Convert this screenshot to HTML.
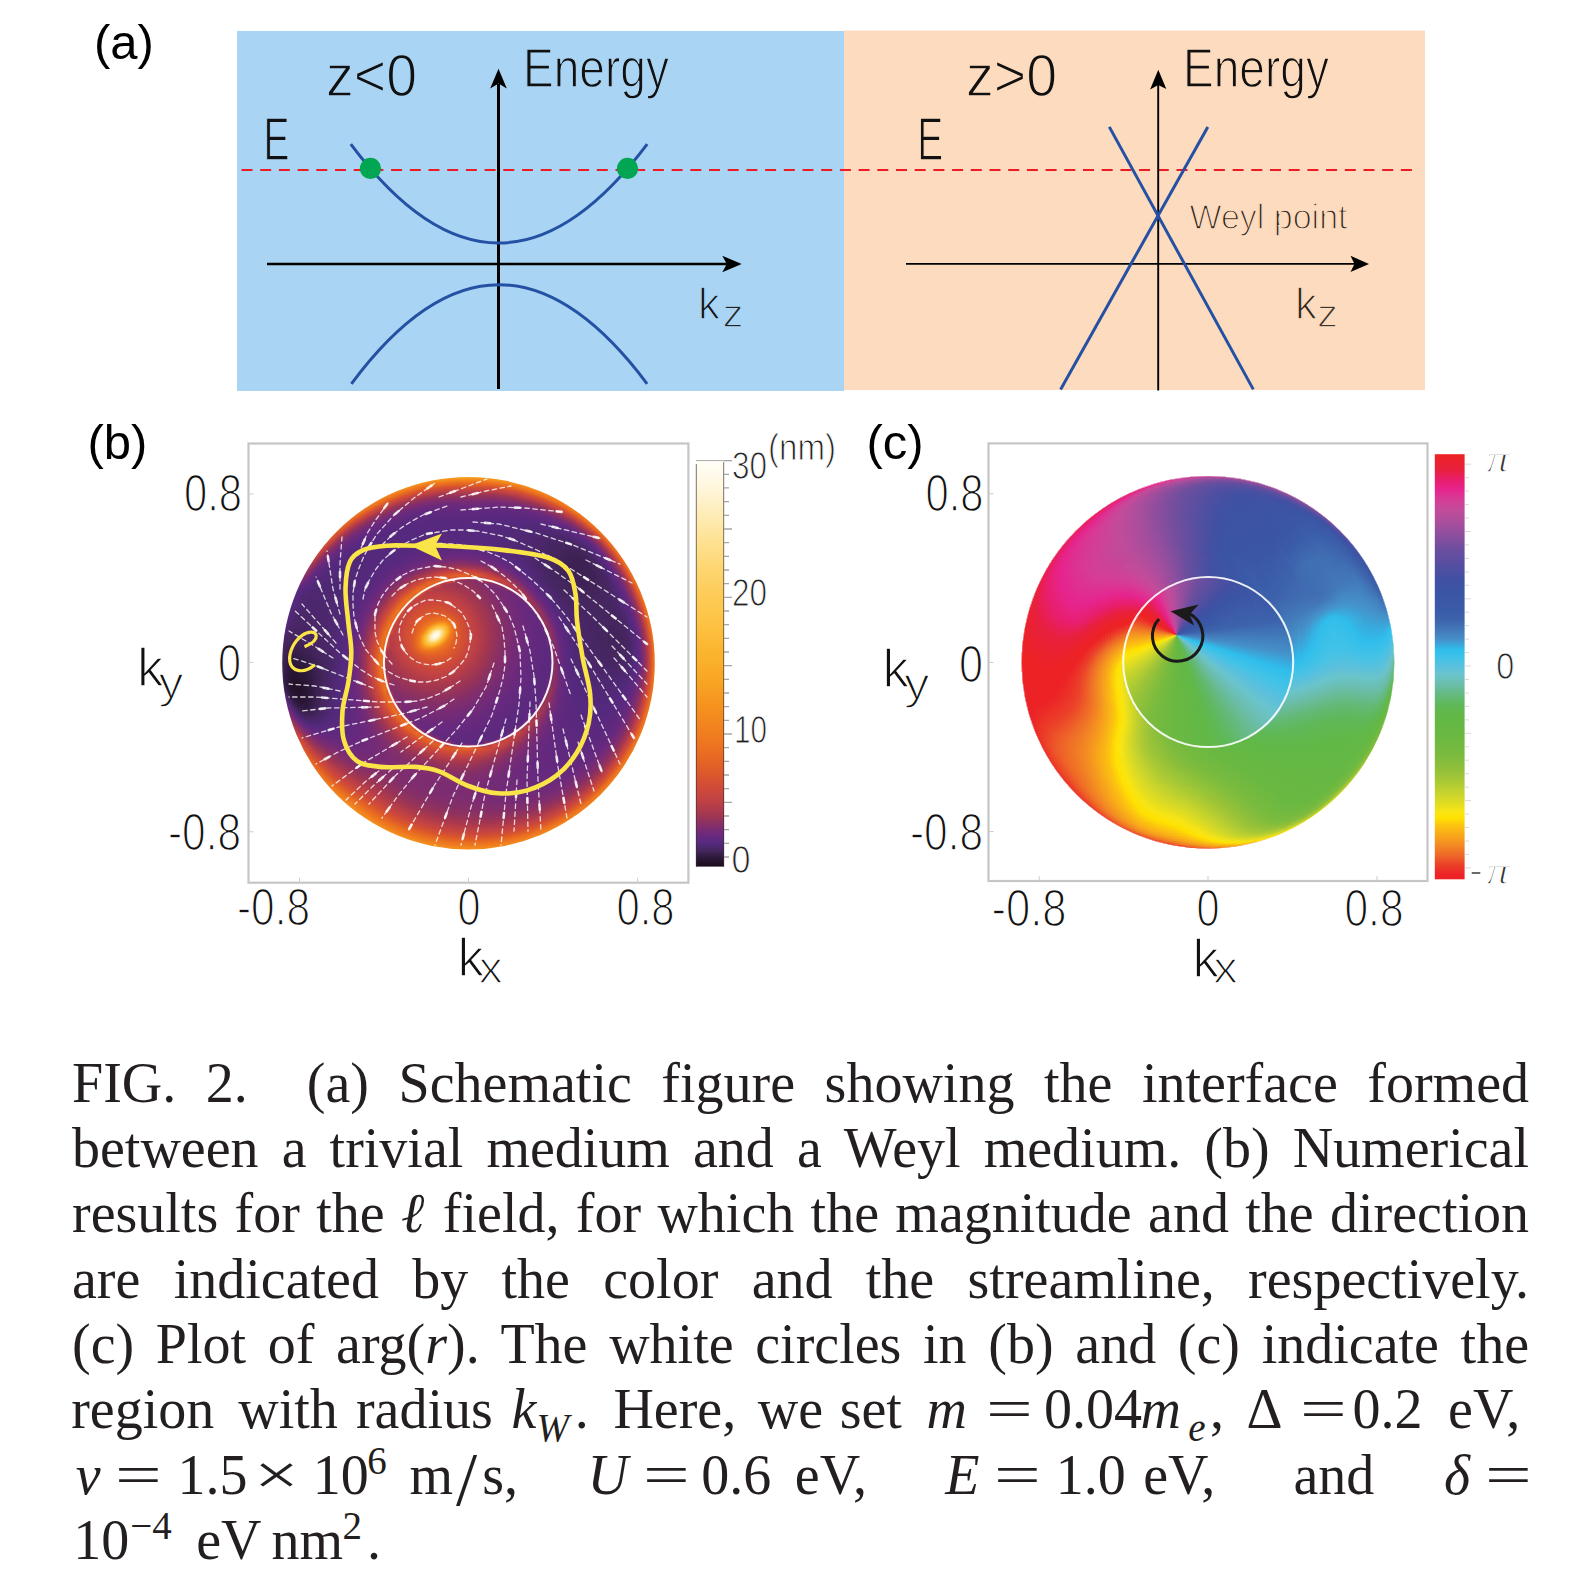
<!DOCTYPE html>
<html><head><meta charset="utf-8"><title>Fig 2</title>
<style>
html,body{margin:0;padding:0;background:#fff;}
body{width:1570px;height:1582px;position:relative;overflow:hidden;}
#fig{position:absolute;left:0;top:0;}
.l{position:absolute;left:72px;width:1457px;height:66px;line-height:66px;font-family:"Liberation Serif",serif;font-size:56px;color:#231f20;text-align:justify;text-align-last:justify;white-space:nowrap;}
.l.abs{left:0;width:1570px;text-align:left;text-align-last:left;}
.a{position:absolute;white-space:pre;}
.l sub,.l sup{font-size:39px;line-height:0;position:relative;vertical-align:baseline;}
.l sub{top:12px;}
.l sup{top:-22px;}
.s{display:inline-block;height:1px;}
#discc{position:absolute;overflow:hidden;}#discc i{position:absolute;border-radius:50%;display:block;}
</style></head><body>
<div id="discc" style="left:1020.7px;top:475.0px;width:374.6px;height:374.6px;clip-path:circle(186.3px at 187.3px 187.3px)"><i style="left:-74.3px;top:-70.3px;width:460.2px;height:460.2px;background:conic-gradient(#e81e6a 0deg,#e5258e 10.5deg,#d63c95 19deg,#c34b9a 30deg,#974e9e 55.5deg,#6c4e9e 60.5deg,#4350a2 68.5deg,#3b54a4 71.5deg,#3a5ba8 77deg,#3d62ac 79.5deg,#437ab9 82.5deg,#4395cc 85deg,#31bae9 87deg,#32bfeb 87.5deg,#46c3e6 89.5deg,#5bc0dd 91deg,#69c4cd 92.5deg,#6bbead 94.5deg,#64b977 97deg,#5fb85c 99deg,#62b846 102deg,#69b842 107deg,#7abb3e 112.5deg,#9bc338 118.5deg,#c9d42d 126deg,#f7e415 134deg,#f5e416 140.5deg,#f9e513 144deg,#fee200 149deg,#fcc60f 152.5deg,#f38923 161.5deg,#eb4229 169.5deg,#ec2226 175.5deg,#ed2224 181deg,#ea2134 209.5deg,#ea2131 228.5deg,#ed2224 254.5deg,#ec2226 266.5deg,#ec2a27 283.5deg,#ec2226 306.5deg,#ed2224 326deg,#e8203c 349.5deg,#e81e6a 360deg)"></i><i style="left:-72.3px;top:-68.3px;width:456.2px;height:456.2px;background:conic-gradient(#e81e6c 0deg,#e6248e 10deg,#d63c95 18.5deg,#c34b9a 29.5deg,#964e9e 55.5deg,#6c4e9e 60.5deg,#4350a2 68.5deg,#3b54a4 71.5deg,#3a5ba8 77deg,#3d62ac 79.5deg,#4379b9 82.5deg,#4394cb 85deg,#32b9e8 87deg,#31beeb 87.5deg,#45c3e6 89.5deg,#5ac0de 91deg,#6ac3c7 93deg,#6abca4 95deg,#64b978 97deg,#5fb858 99.5deg,#62b846 102deg,#6ab842 107.5deg,#7abb3e 112.5deg,#92c03a 117deg,#a5c736 126deg,#b1cc33 130deg,#c6d32d 134.5deg,#d0d729 139deg,#e1dd21 142.5deg,#f9e514 145deg,#fee200 149.5deg,#fcc50f 153deg,#f38c23 161.5deg,#eb4129 170deg,#ec2226 176.5deg,#ed2224 181.5deg,#ea2133 210deg,#ea2130 228.5deg,#ed2224 254.5deg,#ec2226 266.5deg,#ec2927 283deg,#ec2226 304.5deg,#ed2224 325deg,#eb212c 336.5deg,#e8203c 349deg,#e81e6c 360deg)"></i><i style="left:-70.3px;top:-66.3px;width:452.2px;height:452.2px;background:conic-gradient(#e81f6d 0deg,#e5258e 10deg,#d63c95 18deg,#c34b9a 29deg,#954e9e 55.5deg,#6c4e9e 60.5deg,#4350a2 68.5deg,#3b54a4 71.5deg,#3a5ba8 77deg,#3e65ad 80deg,#4379b9 82.5deg,#4493cb 85deg,#30beec 87.5deg,#44c3e6 89.5deg,#58c0de 91deg,#6ac3c8 93deg,#6abda6 95deg,#64b979 97deg,#5fb859 99.5deg,#62b846 102deg,#72ba40 110deg,#7bbb3e 120.5deg,#a3c636 140deg,#b0cb34 143deg,#bdd030 145deg,#e4de20 149deg,#f9e513 150.5deg,#fde202 151.5deg,#fdcd0b 152.5deg,#fcc50f 153.5deg,#f38b23 162deg,#eb4129 170.5deg,#ec2e27 174deg,#ec2226 177.5deg,#ed2224 183deg,#ea2131 206deg,#ea2131 219deg,#ed2224 254deg,#ec2827 282deg,#ec2226 302deg,#ed2224 324deg,#eb212c 335.5deg,#e8203c 348.5deg,#e81f6d 360deg)"></i><i style="left:-68.3px;top:-64.3px;width:448.2px;height:448.2px;background:conic-gradient(#e81f6f 0deg,#e3288f 10.5deg,#d63c95 18deg,#c34b9a 28.5deg,#954e9e 55.5deg,#6c4e9e 60.5deg,#4150a2 69deg,#3b54a4 71.5deg,#3a5ba8 77deg,#3d64ad 80deg,#4378b8 82.5deg,#4592ca 85deg,#30beec 87.5deg,#43c3e6 89.5deg,#57c1df 91deg,#6ac4ca 93deg,#6bbda8 95deg,#64b97b 97deg,#5fb859 99.5deg,#62b846 102deg,#7abb3e 130deg,#8cbf3b 141.5deg,#9dc338 145.5deg,#b3cc33 148.5deg,#dfdc23 152.5deg,#fae410 154.5deg,#fedf01 155.5deg,#fcc60e 156.5deg,#f8ab1a 158deg,#ef7227 165.5deg,#eb4129 171deg,#ec2d27 175deg,#ec2226 178.5deg,#ed2224 187deg,#eb212f 206.5deg,#ea2130 219deg,#ed2224 253.5deg,#ec2827 281deg,#ec2226 299.5deg,#ed2225 324.5deg,#eb212d 335.5deg,#e8203c 348deg,#e81f6f 360deg)"></i><i style="left:-66.3px;top:-62.3px;width:444.2px;height:444.2px;background:conic-gradient(#e81f70 0deg,#e6258e 9deg,#de3092 13deg,#d63c95 17.5deg,#c34b9a 28.5deg,#944e9e 55.5deg,#6c4e9e 60.5deg,#4150a2 69deg,#3b54a4 72deg,#3a5ba8 77deg,#3d64ad 80deg,#4378b8 82.5deg,#4591c9 85deg,#2fbeec 87.5deg,#56c1df 91deg,#6ac4cb 93deg,#6bbda9 95deg,#65b97c 97deg,#5fb859 99.5deg,#62b846 107.5deg,#69b842 120.5deg,#7ebc3d 142.5deg,#8abe3b 146deg,#a8c835 150.5deg,#ccd52c 154deg,#e4de20 156deg,#fae511 157.5deg,#fee100 158.5deg,#fbbf12 160deg,#f38923 163deg,#eb4129 171.5deg,#ec2e27 175.5deg,#ec2226 179.5deg,#ed2224 192deg,#eb212e 206.5deg,#eb212f 219deg,#ed2224 253.5deg,#ec2726 280.5deg,#ec2226 297deg,#ed2226 324.5deg,#e8203c 347.5deg,#e81f70 360deg)"></i><i style="left:-64.3px;top:-60.3px;width:440.2px;height:440.2px;background:conic-gradient(#e81f72 0deg,#e6248e 8.5deg,#da3793 15deg,#c34b9a 28deg,#934e9e 56deg,#6c4e9e 60.5deg,#4150a2 69deg,#3b54a4 72deg,#3a5ba8 77deg,#3d64ac 80deg,#4377b8 82.5deg,#4590c9 85deg,#30bdeb 87.5deg,#47c3e5 90deg,#5cc0dc 91.5deg,#6ac4cc 93deg,#6abca2 95.5deg,#68bb91 97deg,#5fb85b 106deg,#62b846 111.5deg,#73ba40 139.5deg,#7bbb3e 145.5deg,#8bbe3b 149deg,#acc934 153.5deg,#ccd52c 156.5deg,#e3de20 158.5deg,#f9e512 160deg,#fee202 161deg,#fcc210 162.5deg,#f8a81b 164deg,#ef6c27 167deg,#eb3e29 172.5deg,#ec2c27 177deg,#ec2226 181.5deg,#ed2224 195deg,#eb212c 207deg,#eb212e 219.5deg,#ed2224 253deg,#ec2626 279.5deg,#ec2227 325deg,#e8203c 347deg,#e81f72 360deg)"></i><i style="left:-62.3px;top:-58.3px;width:436.2px;height:436.2px;background:conic-gradient(#e72073 0deg,#e6248e 8deg,#d63c95 16.5deg,#c24b9a 28deg,#924e9e 56deg,#6c4e9e 60.5deg,#4150a2 69deg,#3b54a4 72deg,#3a5ba8 77deg,#3d63ac 80deg,#4377b7 82.5deg,#4590c8 85deg,#30bbea 87.5deg,#46c3e6 90deg,#5bc0dd 91.5deg,#6ac4ca 94.5deg,#6bbfb5 97deg,#6bbdaa 99deg,#5fb85a 109deg,#62b847 114deg,#6eb941 140deg,#7abb3e 147.5deg,#8bbe3b 151deg,#acca34 155.5deg,#cbd52c 158.5deg,#f7e415 162deg,#fedf02 163.5deg,#fcc90d 164.5deg,#f8a81b 166.5deg,#f28424 168.5deg,#ec4e29 171deg,#eb3f29 173deg,#eb3228 176deg,#ec2426 183deg,#ed2224 198deg,#ec212b 207.5deg,#eb212d 219.5deg,#ed2224 252.5deg,#ec2626 279deg,#ed2224 312.5deg,#ec2228 325.5deg,#e8203c 346.5deg,#e72073 360deg)"></i><i style="left:-60.3px;top:-56.3px;width:432.2px;height:432.2px;background:conic-gradient(#e72075 0deg,#e6248e 7.5deg,#d63c95 16.5deg,#c34b9a 27deg,#924e9e 56deg,#6c4e9e 60.5deg,#4150a2 69deg,#3b54a4 72deg,#3a5ba8 77deg,#3d63ac 80deg,#4377b7 82.5deg,#458fc8 85deg,#31bae9 87.5deg,#32bfeb 88deg,#43c3e7 90.5deg,#5ac0dd 93.5deg,#6ac4ca 97deg,#6bbdac 101.5deg,#65b97c 106.5deg,#5fb85b 110.5deg,#62b846 116deg,#6cb841 140.5deg,#7abb3e 149deg,#8ebf3a 153deg,#afcb34 157.5deg,#ced62a 160.5deg,#f9e514 164deg,#fedf02 165.5deg,#fcc110 167deg,#f38c23 170.5deg,#ee6628 172.5deg,#eb4129 174deg,#eb3b29 174.5deg,#ec2e27 178.5deg,#ec2827 182.5deg,#ec2226 192deg,#ed2224 200deg,#eb212c 220deg,#ed2224 252deg,#ed2224 311deg,#ec2228 325.5deg,#e8203c 346deg,#e72075 360deg)"></i><i style="left:-58.3px;top:-54.3px;width:428.2px;height:428.2px;background:conic-gradient(#e72076 0deg,#e6248e 7deg,#d63c95 16deg,#c34b9a 27deg,#914e9e 56deg,#6d4e9e 60.5deg,#4150a2 69deg,#3b54a4 72deg,#3a5ba8 77deg,#3d63ac 80deg,#4376b7 82.5deg,#458fc7 85deg,#30beec 88.5deg,#46c3e6 92.5deg,#58c0de 95deg,#6ac4ca 99deg,#6bbdac 103deg,#65b97e 107.5deg,#5fb85d 111.5deg,#62b846 117.5deg,#69b842 141deg,#79bb3e 150deg,#8abe3b 153.5deg,#a9c835 158deg,#cad52c 161.5deg,#f7e415 165.5deg,#fee201 167deg,#fcc70e 168.5deg,#f49022 172.5deg,#ee6828 175deg,#eb3628 177.5deg,#ec2c27 182deg,#ec2226 195deg,#ed2224 202deg,#ec212a 221deg,#ed2224 251.5deg,#ed2224 309deg,#ec2229 325.5deg,#e8203c 345.5deg,#e72076 360deg)"></i><i style="left:-56.3px;top:-52.3px;width:424.2px;height:424.2px;background:conic-gradient(#e72078 0deg,#e6248e 6.5deg,#d63c95 15.5deg,#c34b9a 26.5deg,#b04e9c 39.5deg,#904e9e 56deg,#6d4e9e 60.5deg,#4150a2 69deg,#3b54a4 72deg,#3a5aa8 77deg,#3d63ac 80deg,#4590c9 85deg,#2fbdeb 89deg,#4bc2e3 94.5deg,#5cc0db 97deg,#6ac4cc 100deg,#6bbdab 104deg,#65b97c 108.5deg,#5fb85b 112.5deg,#62b846 118.5deg,#69b842 142.5deg,#79bb3e 151deg,#8abe3b 154.5deg,#acca34 159.5deg,#cdd62b 163deg,#f8e515 167deg,#fde202 168.5deg,#fcc310 170.5deg,#f38d22 175deg,#ee6a28 177.5deg,#eb3628 180.5deg,#ec3027 182deg,#ec2b27 191deg,#ec2226 197.5deg,#ec2229 221.5deg,#ed2224 251.5deg,#ed2224 307deg,#ec222a 326deg,#e8203c 345deg,#e72078 360deg)"></i><i style="left:-54.3px;top:-50.3px;width:420.2px;height:420.2px;background:conic-gradient(#e7217a 0deg,#e6248e 6deg,#d63c95 15deg,#c34b9a 26deg,#af4e9c 39.5deg,#8f4e9e 56.5deg,#6d4e9e 60.5deg,#4250a2 69deg,#3b54a4 72deg,#3a5aa8 77deg,#3d63ac 79.5deg,#4492ca 85deg,#30beec 90deg,#45c3e6 94.5deg,#56c1df 97deg,#6ac4ca 101deg,#6bbda8 105deg,#65b97d 109deg,#5fb85c 113deg,#62b847 119deg,#69b842 143.5deg,#7abb3e 152deg,#91c03a 156.5deg,#b1cc33 161deg,#e4de20 166.5deg,#f9e512 168.5deg,#fee201 170deg,#fcc410 172deg,#f38b23 177.5deg,#ef6d27 180deg,#eb3e29 183deg,#eb3328 184deg,#ec2f27 191.5deg,#ec2226 199.5deg,#ed2224 305deg,#ec212b 327deg,#e8203c 344.5deg,#e7217a 360deg)"></i><i style="left:-52.3px;top:-48.3px;width:416.2px;height:416.2px;background:conic-gradient(#e7217b 0deg,#e5258e 6deg,#d53c95 15deg,#c34b9a 25.5deg,#b04e9c 39deg,#8e4e9e 56.5deg,#6d4e9e 60.5deg,#4250a2 69deg,#3a57a6 75deg,#3d64ad 78.5deg,#4590c8 84.5deg,#2fbeec 90.5deg,#44c3e6 95deg,#59c0de 98deg,#6ac4ca 101.5deg,#6bbdac 105deg,#65b97c 109.5deg,#5fb85c 113.5deg,#62b847 119.5deg,#69b842 144.5deg,#7abb3e 152.5deg,#8ebf3a 156.5deg,#afcb34 161.5deg,#ced62a 165deg,#f9e514 169.5deg,#fedf01 171.5deg,#fcc310 173.5deg,#f7a51c 177deg,#ee6c28 183deg,#eb4029 186deg,#eb3628 187deg,#eb3228 193deg,#ec2226 201deg,#ed2224 303deg,#eb212c 327.5deg,#e8203d 344.5deg,#e81e6a 355deg,#e7217b 360deg)"></i><i style="left:-50.3px;top:-46.3px;width:412.2px;height:412.2px;background:conic-gradient(#e7217d 0deg,#e5258e 5.5deg,#d63c95 14.5deg,#c34b9a 25deg,#af4e9c 39deg,#8e4e9e 56.5deg,#6a4e9e 61deg,#4250a2 69deg,#3b55a4 72.5deg,#3d62ac 77deg,#4592ca 84.5deg,#30beec 91deg,#44c3e6 95.5deg,#59c0de 98.5deg,#6ac3c9 102deg,#6bbdaa 105.5deg,#65b97e 109.5deg,#60b85e 113.5deg,#62b849 119.5deg,#69b842 145deg,#7abb3e 153deg,#8abe3b 156.5deg,#aecb34 162deg,#ccd52b 165.5deg,#f9e514 170.5deg,#fee100 172.5deg,#fcc310 175deg,#f8a91b 178.5deg,#ef6c27 186deg,#eb3d29 189.5deg,#eb3a28 190deg,#ec2226 203deg,#ed2224 300.5deg,#eb212d 328deg,#e8203d 344deg,#e81e6a 354.5deg,#e7217d 360deg)"></i><i style="left:-48.3px;top:-44.3px;width:408.2px;height:408.2px;background:conic-gradient(#e7217e 0deg,#e6258e 5deg,#d63c95 14deg,#c34b9a 24.5deg,#ae4e9c 39.5deg,#8d4e9e 56.5deg,#6a4e9e 61deg,#4150a2 69.5deg,#3a57a6 72deg,#3d64ac 76deg,#4480be 80.5deg,#4591c9 84deg,#30bceb 91deg,#48c3e5 96.5deg,#5bc0dd 99deg,#6ac4cb 102deg,#6bbda7 106deg,#65b981 109.5deg,#61b864 113deg,#5fb859 114.5deg,#61b84a 119.5deg,#62b846 121deg,#69b842 145.5deg,#7abb3e 153.5deg,#9cc338 160deg,#cbd52c 166deg,#f9e513 171.5deg,#fee200 173.5deg,#fcc310 176.5deg,#f17f25 187deg,#ee6828 189.5deg,#eb3c29 192.5deg,#ec2226 204.5deg,#ed2224 298.5deg,#eb212d 328deg,#e8203d 343.5deg,#e81e6a 354deg,#e7217e 360deg)"></i><i style="left:-46.3px;top:-42.3px;width:404.2px;height:404.2px;background:conic-gradient(#e72280 0deg,#e6258e 4.5deg,#d53d95 14deg,#c34b9a 24.5deg,#ae4e9c 39.5deg,#8c4e9e 57deg,#6e4e9e 60.5deg,#4f4fa2 66.5deg,#4450a2 67.5deg,#3b54a4 69deg,#3a5ba8 72deg,#3d63ac 74.5deg,#4481be 80deg,#4590c8 83.5deg,#2fbeec 91.5deg,#46c3e6 96.5deg,#59c0de 99deg,#69c4cd 102deg,#6bbda9 106deg,#65b97d 110deg,#61b865 113deg,#5fb85a 114.5deg,#61b84c 119deg,#62b846 121.5deg,#69b842 145.5deg,#79bb3e 153.5deg,#9dc338 160.5deg,#cad52c 166.5deg,#fae512 172.5deg,#fee201 174.5deg,#fcc50f 177.5deg,#f38b23 188.5deg,#ee6b28 192deg,#eb3a28 195.5deg,#ec2226 206.5deg,#ed2224 296.5deg,#eb212e 328.5deg,#e8203d 343deg,#e81e69 353.5deg,#e72280 360deg)"></i><i style="left:-44.3px;top:-40.3px;width:400.2px;height:400.2px;background:conic-gradient(#e72281 0deg,#e6258e 4deg,#d63c95 13.5deg,#c34b9a 24deg,#ad4e9c 40deg,#8b4e9e 57deg,#6e4e9e 60.5deg,#5c4ea0 64deg,#4150a2 66deg,#3a57a6 68.5deg,#3d64ac 73.5deg,#4590c8 83deg,#30bceb 91.5deg,#48c3e5 97deg,#5bc0dc 99.5deg,#6ac4ca 102.5deg,#6bbdaa 106deg,#65b97f 110deg,#61b866 113deg,#5fb859 115deg,#61b84c 119.5deg,#62b846 122deg,#69b842 146deg,#79bb3e 154deg,#8cbf3b 158deg,#b2cc33 164deg,#ced62b 167.5deg,#f9e514 173deg,#fee201 175.5deg,#fcc50f 179deg,#f7a31c 187deg,#f48f22 190.5deg,#ee6b28 194.5deg,#eb3a28 198deg,#ec2226 208.5deg,#ed2224 294.5deg,#eb212f 329deg,#e8203d 342.5deg,#e81e69 353deg,#e72281 360deg)"></i><i style="left:-42.3px;top:-38.3px;width:396.2px;height:396.2px;background:conic-gradient(#e72283 0deg,#e6248e 3.5deg,#d63c95 13deg,#c34b9a 23.5deg,#ad4e9c 40deg,#8a4e9e 57deg,#674e9f 61.5deg,#4250a2 64deg,#3b55a5 66deg,#3d63ac 72deg,#4592c9 83deg,#2fbeec 92deg,#41c2e7 96deg,#4fc2e2 98deg,#6ac4cb 102.5deg,#6bbdab 106deg,#65b980 110deg,#62b86b 112.5deg,#5fb85a 115deg,#61b84e 119deg,#62b846 122.5deg,#69b842 146.5deg,#7abb3e 154.5deg,#9bc338 161deg,#cad42c 167.5deg,#f9e513 174deg,#fee201 176.5deg,#fcc60f 180.5deg,#f8ab1a 188deg,#f5981f 191.5deg,#ef6e27 196.5deg,#eb3f29 200deg,#eb3528 201deg,#ec2426 209.5deg,#ed2224 292.5deg,#eb2130 329deg,#e8203d 342deg,#e81e6b 353deg,#e72283 360deg)"></i><i style="left:-40.3px;top:-36.3px;width:392.2px;height:392.2px;background:conic-gradient(#e72284 0deg,#e6248e 3deg,#d63c95 12.5deg,#c34b9a 23deg,#ac4e9c 40deg,#8a4e9e 57deg,#804e9e 58.5deg,#684e9f 59.5deg,#4350a2 62deg,#3b54a4 63.5deg,#3a5aa8 67deg,#3d62ac 70.5deg,#4591c9 82.5deg,#2fbeec 92deg,#47c3e5 97deg,#5ac0dd 99.5deg,#6ac4cc 102.5deg,#6bbda7 106.5deg,#65b981 110deg,#62b96c 112.5deg,#5fb85b 115deg,#61b84e 119deg,#62b846 123deg,#69b842 146.5deg,#79bb3e 154.5deg,#8bbe3b 158.5deg,#b3cc33 165deg,#cdd62b 168.5deg,#f8e515 174.5deg,#fee001 178deg,#fcc60f 182.5deg,#f9b317 188.5deg,#f7a11d 192deg,#f38923 195.5deg,#ef6e27 198.5deg,#eb3328 203.5deg,#ec2226 214.5deg,#ed2224 291deg,#ea2131 330deg,#e8203d 341.5deg,#e81e6b 352.5deg,#e72284 360deg)"></i><i style="left:-38.3px;top:-34.3px;width:388.2px;height:388.2px;background:conic-gradient(#e62386 0deg,#e6248e 2.5deg,#d53c95 12.5deg,#c34b9a 22.5deg,#ab4e9c 40.5deg,#8b4e9e 56deg,#694e9e 57.5deg,#514fa2 59deg,#4051a2 60.5deg,#3a57a6 63.5deg,#3d63ac 69.5deg,#4591c9 82deg,#2fbeec 92deg,#46c3e6 97deg,#59c0de 99.5deg,#6ac4cd 102.5deg,#6bbda8 106.5deg,#65b97d 110.5deg,#62b96d 112.5deg,#5fb859 115.5deg,#61b84f 119deg,#62b846 123.5deg,#69b842 147deg,#7abb3e 155deg,#8fbf3a 159.5deg,#b3cc33 165.5deg,#cdd62b 169deg,#f9e514 175.5deg,#fee100 179deg,#fdcf0a 182.5deg,#faba14 189deg,#f8a61c 193deg,#f17a25 199deg,#ee6828 201deg,#eb3f29 204.5deg,#ec2f27 206.5deg,#ec2326 215.5deg,#ed2224 289.5deg,#ea2132 330deg,#e8203d 341deg,#e81e6a 352deg,#e62386 360deg)"></i><i style="left:-36.3px;top:-32.3px;width:384.2px;height:384.2px;background:conic-gradient(#e62387 0deg,#e6248e 2deg,#d63c95 12deg,#c34b9a 22deg,#ac4e9c 40deg,#914e9e 53deg,#8c4e9e 53.5deg,#6a4e9e 55deg,#4150a2 58.5deg,#3b54a4 60deg,#3a5ba8 64deg,#3d63ac 68deg,#4591c9 81.5deg,#2fbdec 92deg,#40c2e7 96deg,#51c1e1 98.5deg,#6ac3c9 103deg,#6bbdaa 106.5deg,#65b97e 110.5deg,#62b96e 112.5deg,#5fb85a 115.5deg,#60b850 119deg,#62b846 123.5deg,#69b842 147deg,#79bb3e 155deg,#9ac338 162deg,#c9d42c 169deg,#f9e513 176.5deg,#fee101 180.5deg,#fab615 191.5deg,#f38c23 198.5deg,#ee6b28 202.5deg,#eb4029 206.5deg,#ec2e27 209deg,#ec2626 215.5deg,#ec2226 223deg,#ed2224 287.5deg,#ea2133 330.5deg,#e8203d 340.5deg,#e81e6a 351.5deg,#e62387 360deg)"></i><i style="left:-34.3px;top:-30.3px;width:380.2px;height:380.2px;background:conic-gradient(#e62389 0deg,#e5258e 2deg,#d63c95 11.5deg,#c34b9a 21.5deg,#ad4e9c 39.5deg,#964e9e 50.5deg,#6b4e9e 52.5deg,#654e9f 53deg,#4450a2 56deg,#3b54a4 58deg,#3d64ad 67deg,#4590c8 81deg,#2fbeec 92deg,#43c3e7 96.5deg,#51c1e1 98.5deg,#6ac4ca 103deg,#6bbdab 106.5deg,#63b973 112deg,#5fb85c 115.5deg,#60b851 119deg,#62b846 124deg,#69b842 147deg,#7abb3e 155.5deg,#9bc338 162.5deg,#c9d42d 169.5deg,#f9e512 177.5deg,#fee201 182deg,#fdd009 187.5deg,#fbbb13 192deg,#f38b23 200deg,#ee6828 204.5deg,#eb4229 208.5deg,#eb3228 211deg,#ec2827 216deg,#ec2226 228.5deg,#ed2224 286deg,#ea2133 330.5deg,#e8203c 339.5deg,#e81e6a 351deg,#e62389 360deg)"></i><i style="left:-32.3px;top:-28.3px;width:376.2px;height:376.2px;background:conic-gradient(#e6238a 0deg,#d53d95 11.5deg,#c34b9a 21deg,#ad4e9c 39deg,#9c4e9e 48deg,#6e4e9e 50deg,#674e9f 50.5deg,#4350a2 54deg,#3b54a4 56deg,#3d63ac 65.5deg,#4592c9 81deg,#2fbeec 92deg,#43c3e7 96.5deg,#51c1e1 98.5deg,#6ac4cb 103deg,#6bbdac 106.5deg,#63b974 112deg,#5fb85a 116deg,#60b852 119deg,#62b846 125deg,#69b842 147.5deg,#7abb3e 156deg,#9cc338 163deg,#c9d42d 170deg,#f9e513 178.5deg,#fee201 184.5deg,#fdd507 188.5deg,#f38923 201.5deg,#eb4029 211deg,#ec2e27 214deg,#ec2a27 216deg,#ec2226 230.5deg,#ed2224 284.5deg,#ea2134 330.5deg,#e8203c 339deg,#e81e6a 350.5deg,#e6238a 360deg)"></i><i style="left:-30.3px;top:-26.3px;width:372.2px;height:372.2px;background:conic-gradient(#e6248c 0deg,#d63c95 11deg,#c34b9a 20.5deg,#a34e9d 45deg,#9d4e9e 45.5deg,#694e9e 48deg,#4250a2 52deg,#3b54a4 54deg,#3d63ac 64deg,#4378b8 73deg,#4591c9 80.5deg,#3ca4d8 84.5deg,#30beec 92deg,#4dc2e3 98deg,#5bc0dd 100deg,#6ac4cb 103deg,#6bbda8 107deg,#64b976 112deg,#5fb85c 116deg,#60b853 119deg,#62b846 125.5deg,#69b842 147.5deg,#79bb3e 156deg,#8abe3b 160deg,#b4cd32 167.5deg,#f9e514 179.5deg,#fee200 187.5deg,#fede02 188.5deg,#fcc50f 192.5deg,#f38a23 202.5deg,#eb4129 213deg,#ec2c27 217deg,#ec2226 232.5deg,#ed2224 283deg,#e92135 331deg,#e8203c 338.5deg,#e81e69 350deg,#e6248c 360deg)"></i><i style="left:-28.3px;top:-24.3px;width:368.2px;height:368.2px;background:conic-gradient(#e6248d 0deg,#d63c95 10.5deg,#c34b9a 20deg,#a84e9d 42.5deg,#6c4e9e 45.5deg,#4250a2 50deg,#3b54a4 52deg,#3d63ac 63deg,#4379b9 73deg,#4492ca 80.5deg,#39a9db 85deg,#2fbeec 91.5deg,#46c3e6 97deg,#5bc0dd 100deg,#6ac4cc 103deg,#6bbda9 107deg,#64b977 112deg,#5fb85b 116.5deg,#60b853 119.5deg,#62b846 126deg,#69b842 148deg,#7abb3e 156.5deg,#9ac238 163.5deg,#b4cd32 168deg,#ebe01c 177.5deg,#f9e513 181.5deg,#fee001 189.5deg,#fcc50f 193.5deg,#f38a23 203.5deg,#eb4129 215deg,#ec2d27 220deg,#ec2226 233.5deg,#ed2224 281.5deg,#e92036 331.5deg,#e8203c 338deg,#e81e69 349.5deg,#e6248d 360deg)"></i><i style="left:-26.3px;top:-22.3px;width:364.2px;height:364.2px;background:conic-gradient(#e6248e 0deg,#d53d95 10.5deg,#c34b9a 19.5deg,#ad4e9c 39.5deg,#a94e9d 40deg,#784e9e 42.5deg,#694e9e 43.5deg,#4350a2 48deg,#3b54a4 50.5deg,#3d63ac 61.5deg,#437ab9 73deg,#4591c9 80deg,#38abdd 85deg,#2fbeec 91deg,#46c3e6 97deg,#5bc0dd 100deg,#69c4cd 103deg,#6bbdab 107deg,#63b975 112.5deg,#5fb85a 117deg,#60b853 120deg,#62b846 127deg,#69b842 148deg,#79bb3e 156.5deg,#9bc338 164deg,#dedc23 176deg,#eee11a 179.5deg,#f9e514 183.5deg,#fee200 190.5deg,#fcc40f 194.5deg,#f38a23 204.5deg,#ec4829 216deg,#ec2e27 222.5deg,#ec2226 234.5deg,#ed2224 280deg,#e92037 331.5deg,#e8203c 337.5deg,#e81e69 349deg,#e6248e 360deg)"></i><i style="left:-24.3px;top:-20.3px;width:360.2px;height:360.2px;background:conic-gradient(#e5258e 0deg,#d63b95 9.5deg,#c34b9a 19deg,#b04e9c 37deg,#6a4e9e 41deg,#4450a2 46deg,#3c53a4 48.5deg,#3a5ba8 55.5deg,#437ab9 73deg,#4592ca 80deg,#38acde 84.5deg,#2fbeec 90deg,#36c0ea 93deg,#47c3e5 97deg,#5bc0dd 100deg,#6ac4ca 103.5deg,#6bbda7 107.5deg,#64b977 112.5deg,#5fb85a 117.5deg,#60b853 120.5deg,#62b846 127.5deg,#69b842 148.5deg,#7abb3e 157deg,#8abe3b 161deg,#b1cb33 168.5deg,#dcdb24 176.5deg,#ede11b 181deg,#f9e514 186deg,#fee200 191.5deg,#fcc410 195.5deg,#f38d23 205deg,#ed5b28 214deg,#eb4129 220deg,#ec2f27 225deg,#ec2226 235deg,#ed2224 278.5deg,#e92038 333deg,#e8203d 337deg,#e81e6b 349deg,#e5258e 360deg)"></i><i style="left:-22.3px;top:-18.3px;width:356.2px;height:356.2px;background:conic-gradient(#e4268f 0deg,#d63b95 9deg,#c44b9a 18.5deg,#b24e9c 34deg,#ad4e9c 34.5deg,#6b4e9e 38.5deg,#4550a2 44deg,#3c54a4 47deg,#3a5ba8 54.5deg,#437ab9 73deg,#4590c8 79.5deg,#36afe0 84.5deg,#2fbeec 89deg,#40c2e7 95.5deg,#5dc0db 100.5deg,#6ac4cb 103.5deg,#6bbda9 107.5deg,#66ba85 111deg,#64b976 113deg,#5fb85a 118deg,#60b853 121deg,#62b846 128.5deg,#69b842 148.5deg,#7abb3e 157.5deg,#9bc338 165deg,#d8da26 176.5deg,#f9e514 188deg,#fee100 192.5deg,#fcc50f 196deg,#f8a61c 201.5deg,#f38923 206.5deg,#ed5a28 216deg,#ec2e27 228deg,#ec2226 235.5deg,#ed2224 277deg,#e92039 333deg,#e8203f 337deg,#e81e6a 348.5deg,#e4268f 360deg)"></i><i style="left:-20.3px;top:-16.3px;width:352.2px;height:352.2px;background:conic-gradient(#e4278f 0deg,#d63b95 8.5deg,#c44a9a 18deg,#b44d9c 31deg,#b24e9c 31.5deg,#6c4e9e 36deg,#504fa2 40deg,#4051a2 43.5deg,#3b54a4 46deg,#3a5ba8 53.5deg,#4379b9 73deg,#4591c9 79.5deg,#36afe0 84deg,#2fbeec 88deg,#3fc2e8 95deg,#5cc0db 100.5deg,#6ac4cc 103.5deg,#6bbdab 107.5deg,#64b978 113deg,#5fb85a 118.5deg,#60b853 121.5deg,#62b846 129deg,#69b842 149deg,#79bb3e 157.5deg,#9bc338 165.5deg,#d6d927 177deg,#f9e513 189.5deg,#fee001 193.5deg,#fcc40f 197deg,#f8a71b 202deg,#ef6d27 213deg,#ec2b27 231deg,#ec2226 236deg,#ed2224 275.5deg,#e8203a 333.5deg,#e82044 338deg,#e81e6a 348deg,#e6248e 358.5deg,#e4278f 360deg)"></i><i style="left:-18.3px;top:-14.3px;width:348.2px;height:348.2px;background:conic-gradient(#e3288f 0deg,#d63c95 8.5deg,#c34b9a 18deg,#b54d9c 28.5deg,#8c4e9e 31deg,#6b4e9e 33.5deg,#4f4fa2 38deg,#4150a2 41.5deg,#3b54a4 45deg,#3a5ba8 52.5deg,#4379b9 73deg,#4591c9 79.5deg,#36afe0 83.5deg,#2fbdec 86.5deg,#3ec1e8 94.5deg,#5cc0dc 100.5deg,#6ac3ca 104deg,#6bbda9 108deg,#64b978 113.5deg,#5fb85a 119deg,#60b853 122deg,#62b846 130deg,#69b842 149deg,#79bb3e 158deg,#9bc338 166deg,#d1d729 177deg,#f9e513 190.5deg,#fee200 194deg,#fcc60f 197.5deg,#f8a91b 202.5deg,#f07626 212deg,#ec2927 233.5deg,#ec2226 236.5deg,#ed2224 274deg,#e8203b 333.5deg,#e82047 338.5deg,#e81e6a 347.5deg,#e6248d 358deg,#e3288f 360deg)"></i><i style="left:-16.3px;top:-12.3px;width:344.2px;height:344.2px;background:conic-gradient(#e22990 0deg,#d63c95 8deg,#c34b9a 17.5deg,#b74d9b 25.5deg,#894e9e 28.5deg,#6a4e9e 31deg,#514fa2 35.5deg,#4150a2 39.5deg,#3b54a4 43.5deg,#3a5ba8 52deg,#406db2 62.5deg,#4378b8 73deg,#4592ca 79.5deg,#35b1e2 83.5deg,#2fbeec 86deg,#40c2e7 95deg,#5cc0dc 100.5deg,#6ac4cb 104deg,#6bbdac 108deg,#64b978 114deg,#5fb85b 119.5deg,#60b854 122.5deg,#62b846 131deg,#69b842 149.5deg,#7abb3e 158.5deg,#9bc338 166.5deg,#cdd62b 177deg,#e6df1f 186.5deg,#f9e512 191.5deg,#fee101 195deg,#fcc410 198.5deg,#f8aa1a 203deg,#f17b25 212deg,#ec4d29 226deg,#ec2226 237deg,#ed2224 272.5deg,#ea2132 301.5deg,#e8203b 333.5deg,#e81f4b 339deg,#e81e6a 347deg,#e6248d 357.5deg,#e22990 360deg)"></i><i style="left:-14.3px;top:-10.3px;width:340.2px;height:340.2px;background:conic-gradient(#e22a90 0deg,#d63c95 7.5deg,#c54999 16deg,#bb4c9b 22deg,#b84d9b 22.5deg,#8c4e9e 25.5deg,#6d4e9e 28deg,#524fa2 33deg,#4150a2 38deg,#3b54a4 42.5deg,#3a5ba8 51.5deg,#406db2 62deg,#4379b9 73.5deg,#4592ca 79.5deg,#2fbdeb 85deg,#41c2e7 95deg,#5bc0dd 100.5deg,#6ac3c9 104.5deg,#6bbdab 108.5deg,#64b978 114.5deg,#5fb85b 120deg,#60b854 123deg,#62b846 132deg,#69b842 149.5deg,#7abb3e 159deg,#9ac338 167deg,#cad52c 177.5deg,#e5de1f 187.5deg,#f9e514 192deg,#fee200 195.5deg,#fcc50f 199deg,#f8a61c 204.5deg,#f17d25 212.5deg,#ec5329 226deg,#ec2226 238.5deg,#ed2224 271.5deg,#ea2133 301.5deg,#e8203c 333.5deg,#e81e6a 346.5deg,#e6248d 357deg,#e22a90 360deg)"></i><i style="left:-12.3px;top:-8.3px;width:336.2px;height:336.2px;background:conic-gradient(#e12b90 0deg,#d63c95 7deg,#bf4c9a 19deg,#6c4e9e 25.5deg,#504fa2 31deg,#4150a2 36deg,#3b54a4 42deg,#3a5ba8 51.5deg,#406eb2 62deg,#4378b8 73.5deg,#4592ca 79.5deg,#2fbdeb 84.5deg,#43c2e7 95.5deg,#5cc0dc 101deg,#6ac4cb 104.5deg,#6bbdaa 109deg,#64b979 115deg,#5fb85a 121deg,#60b854 123.5deg,#62b846 133deg,#69b842 150deg,#7abb3e 159.5deg,#9cc338 168deg,#c5d32e 177.5deg,#e4de20 188.5deg,#f9e513 193deg,#fee001 196.5deg,#fcc310 200deg,#f8a71b 205deg,#f28124 212.5deg,#ed5628 226.5deg,#eb3f29 231.5deg,#ec2226 240deg,#ed2224 270deg,#ea2134 301.5deg,#e8203c 332.5deg,#e81f4d 338.5deg,#e81e6b 346.5deg,#e6248e 357deg,#e12b90 360deg)"></i><i style="left:-10.3px;top:-6.3px;width:332.2px;height:332.2px;background:conic-gradient(#e12c90 0deg,#c34b9a 16deg,#8c4e9e 20deg,#6b4e9e 23deg,#504fa2 28.5deg,#4150a2 34deg,#3b54a4 41deg,#3a5ba8 51.5deg,#406eb2 61.5deg,#4378b8 74deg,#4591c9 79.5deg,#30bdeb 84deg,#43c3e7 95.5deg,#5bc0dc 101deg,#69c4cd 104.5deg,#6bbead 109deg,#64b979 115.5deg,#5fb85b 121.5deg,#60b855 124deg,#62b846 134deg,#69b842 150.5deg,#79bb3e 159.5deg,#9bc338 168.5deg,#c1d12f 177.5deg,#d8da26 185.5deg,#e4de20 189.5deg,#f9e512 194deg,#fee200 197deg,#fcc40f 200.5deg,#f8a81b 205.5deg,#f18125 213.5deg,#ed5a28 226.5deg,#eb3e29 232.5deg,#ec2226 241deg,#ed2224 269deg,#e92135 301.5deg,#e8203c 332deg,#e81f4d 338deg,#e81e6b 346deg,#e6248e 356.5deg,#e12c90 360deg)"></i><i style="left:-8.3px;top:-4.3px;width:328.2px;height:328.2px;background:conic-gradient(#e02d91 0deg,#ca4598 12.5deg,#c44a9a 13deg,#b04e9c 14.5deg,#8a4e9e 17.5deg,#6b4e9e 20.5deg,#514fa2 26deg,#4350a2 31deg,#3a57a6 47deg,#3d63ac 56.5deg,#406eb2 61.5deg,#4377b7 74deg,#4591c9 79.5deg,#2fbeec 84deg,#44c3e6 96deg,#5cc0dc 101.5deg,#6ac4cc 105deg,#6bbeac 109.5deg,#64b97a 116deg,#5fb85c 122deg,#60b856 124.5deg,#62b846 134.5deg,#69b842 150.5deg,#79bb3e 160deg,#ccd52b 182.5deg,#e4de20 190.5deg,#f9e514 194.5deg,#fee001 198deg,#fcc310 201.5deg,#f8a61b 206.5deg,#f28424 213.5deg,#ed5d28 226.5deg,#eb3f29 233deg,#ec2226 241.5deg,#ed2224 268deg,#e92036 301.5deg,#e8203c 331deg,#e81f4d 337.5deg,#e81e6b 345.5deg,#e6248d 356deg,#e02d91 360deg)"></i><i style="left:-6.3px;top:-2.3px;width:324.2px;height:324.2px;background:conic-gradient(#df2e91 0deg,#cf4197 9deg,#c44b9a 10deg,#b24e9c 11.5deg,#6c4e9e 18deg,#514fa2 24deg,#4450a2 28.5deg,#3a57a6 47deg,#3d63ac 56.5deg,#406fb3 61.5deg,#4275b6 73.5deg,#437cbb 76deg,#4590c8 79.5deg,#30bceb 83.5deg,#44c3e6 96deg,#5bc0dd 101.5deg,#6ac4cc 105.5deg,#6bbeac 110deg,#65b97b 116.5deg,#5fb85d 122.5deg,#60b856 125deg,#62b846 135.5deg,#69b842 151deg,#79bb3e 160.5deg,#ccd52b 184deg,#e2dd21 191deg,#f9e512 195.5deg,#fee200 198.5deg,#fcc410 202deg,#f48f22 212deg,#f07926 217.5deg,#ed5e28 227deg,#eb3e29 233.5deg,#ec2226 242.5deg,#ed2224 267deg,#e92037 301.5deg,#e8203c 330deg,#e81f4c 336.5deg,#e81e6b 345deg,#e6248d 355.5deg,#df2e91 360deg)"></i><i style="left:-4.3px;top:-0.3px;width:320.2px;height:320.2px;background:conic-gradient(#df2f91 0deg,#d73b95 5deg,#c24b9a 7deg,#804e9e 13.5deg,#6a4e9e 16deg,#514fa2 22deg,#4450a2 26.5deg,#3e52a3 32.5deg,#3a57a6 47deg,#3a5ba8 51.5deg,#406fb3 61.5deg,#4275b6 74deg,#437dbb 76.5deg,#458fc8 79.5deg,#2fbdeb 83.5deg,#38c0e9 86.5deg,#45c3e6 96.5deg,#5cc0dc 102deg,#6ac4cb 106deg,#6bbead 110.5deg,#65b97c 117deg,#60b860 122.5deg,#5fb857 125.5deg,#62b846 136.5deg,#69b842 151.5deg,#79bb3e 161deg,#cbd52c 185deg,#e3de21 192deg,#f9e514 196deg,#fee201 199deg,#fcc50f 202.5deg,#f49022 212.5deg,#f17b25 218deg,#ed6128 227deg,#eb3428 236.5deg,#ec2226 243deg,#ed2224 266deg,#e92038 301.5deg,#e8203c 329deg,#e81f4c 336deg,#e81e6b 344.5deg,#e6248e 355.5deg,#df2f91 360deg)"></i><i style="left:-2.3px;top:1.7px;width:316.2px;height:316.2px;background:conic-gradient(#de3091 0deg,#dd3292 1deg,#d43e96 2deg,#c14b9a 4deg,#6c4e9e 13.5deg,#524fa2 20deg,#4450a2 25deg,#3e52a3 31.5deg,#3a57a6 47deg,#3a5ba8 51.5deg,#406fb3 61.5deg,#4273b5 74deg,#437bba 76.5deg,#458ec7 79.5deg,#2fbdeb 83.5deg,#38c0e9 86.5deg,#44c3e6 96.5deg,#5cc0dc 102.5deg,#6ac4cb 106.5deg,#6bbdaa 111.5deg,#65b97d 117.5deg,#5fb859 125.5deg,#62b846 137deg,#69b842 152deg,#7abb3e 162deg,#ccd52c 186.5deg,#e4de20 193deg,#f9e512 197deg,#fee101 200deg,#fcc310 203.5deg,#f49321 212.5deg,#f17d25 218deg,#ed6128 227.5deg,#eb3728 236deg,#ec2226 243deg,#ed2224 265deg,#e92039 301deg,#e8203c 328deg,#e81f4b 335deg,#e81e6b 344deg,#e6248e 355deg,#de3091 360deg)"></i><i style="left:-0.3px;top:3.7px;width:312.2px;height:312.2px;background:conic-gradient(#c84799 0deg,#b04e9c 3deg,#6c4e9e 11.5deg,#504fa2 19deg,#4150a2 25deg,#3a57a6 47deg,#3a5ca8 52deg,#406fb3 61deg,#4172b5 74deg,#4379b9 76.5deg,#4590c8 80deg,#30bceb 83.5deg,#38c0ea 86.5deg,#44c3e6 97deg,#5cc0dc 103deg,#6ac4cb 107deg,#6bbdab 112deg,#65b97c 118.5deg,#5fb859 126deg,#62b846 138deg,#69b842 152.5deg,#79bb3e 162deg,#cbd52c 187.5deg,#e2dd21 193.5deg,#f9e513 197.5deg,#fee200 200.5deg,#fcc40f 204deg,#f38c23 215deg,#ee6628 226.5deg,#eb3f29 234deg,#ec2226 243deg,#ed2224 263deg,#e8203a 301deg,#e8203e 316deg,#e8203c 326.5deg,#e81f4d 335deg,#e81e6a 343.5deg,#e6248e 354.5deg,#e3288f 356.5deg,#d53d95 358.5deg,#c84799 360deg)"></i><i style="left:1.7px;top:5.7px;width:308.2px;height:308.2px;background:conic-gradient(#b14e9c 0deg,#6b4e9e 10deg,#4f4fa2 18deg,#4150a2 24deg,#3a57a6 47.5deg,#3d63ac 56deg,#406fb3 61deg,#4172b4 74.5deg,#437ab9 77deg,#458fc7 80deg,#30beec 84deg,#38c0ea 87deg,#44c3e6 97.5deg,#5cc0dc 103.5deg,#6ac4cc 107.5deg,#6bbdac 112.5deg,#65b97d 119deg,#5fb859 127deg,#62b846 138.5deg,#69b842 153deg,#7abb3e 163deg,#cbd52c 188.5deg,#e9e01d 195.5deg,#f8e514 198deg,#fee201 201deg,#fcc210 205deg,#f38b23 216deg,#ee6728 226.5deg,#eb3a28 235.5deg,#ec2226 243deg,#ed2224 261.5deg,#e8203e 308deg,#e8203f 327deg,#e81f51 335.5deg,#e62388 352deg,#e5258e 352.5deg,#d53d95 355deg,#c64899 357deg,#b14e9c 360deg)"></i><i style="left:3.7px;top:7.7px;width:304.2px;height:304.2px;background:conic-gradient(#9f4e9e 0deg,#6c4e9e 8deg,#4f4fa2 17deg,#4150a2 23deg,#3a57a6 47.5deg,#3a5ba8 52deg,#416fb3 61deg,#4170b3 74deg,#4378b8 77deg,#4485c1 79deg,#4591c9 80.5deg,#36b0e1 83deg,#30beec 84.5deg,#44c3e6 98deg,#5cc0dc 104deg,#6ac4cc 108deg,#6bbead 113deg,#65b97c 120deg,#5fb859 128deg,#62b846 139deg,#69b842 153.5deg,#7abb3e 163.5deg,#9cc338 175deg,#cbd52c 189.5deg,#eae01c 196.5deg,#f9e513 199deg,#fee101 202deg,#fcc310 205.5deg,#f38c23 216.5deg,#ee6828 226.5deg,#eb3e29 234.5deg,#ec2226 243deg,#ed2224 260.5deg,#e82041 307deg,#e82043 316deg,#e82040 326deg,#e81f4e 334deg,#e72077 346.5deg,#e6258e 348.5deg,#d53d95 351.5deg,#c54999 354deg,#9f4e9e 360deg)"></i><i style="left:5.7px;top:9.7px;width:300.2px;height:300.2px;background:conic-gradient(#914e9e 0deg,#6c4e9e 6.5deg,#4f4fa2 16deg,#4050a2 23deg,#3a57a6 47.5deg,#3a5ba8 52deg,#406fb3 61deg,#416fb3 74.5deg,#4376b7 77deg,#458fc7 80.5deg,#35b1e2 83.5deg,#2fbeec 85deg,#44c3e6 99deg,#5bc0dd 104.5deg,#6ac4ca 109deg,#6bbdab 114deg,#65b97d 120.5deg,#5fb859 129deg,#62b846 140deg,#69b842 154deg,#7abb3e 164.5deg,#b2cc33 183.5deg,#cbd52c 190.5deg,#e3de20 196deg,#f2e318 198.5deg,#f9e514 199.5deg,#fee200 202.5deg,#fcc310 206deg,#f38c23 217deg,#ee6928 226.5deg,#eb4029 234deg,#ec2226 243deg,#ed2224 259.5deg,#e82044 308deg,#e82043 327deg,#e81f4e 333deg,#e81e63 340deg,#e6248b 344deg,#d43d95 348deg,#c24b9a 351.5deg,#914e9e 360deg)"></i><i style="left:7.7px;top:11.7px;width:296.2px;height:296.2px;background:conic-gradient(#884e9e 0deg,#6b4e9e 5.5deg,#4b4fa2 17deg,#3f52a3 24.5deg,#3a56a6 47deg,#3a5ca8 52.5deg,#406fb3 61deg,#406fb3 74.5deg,#4378b8 77.5deg,#4590c9 81deg,#38adde 83.5deg,#30bdeb 85.5deg,#45c3e6 100deg,#5bc0dd 105deg,#6ac4cb 109.5deg,#6bbda9 115deg,#65b97c 121.5deg,#5fb859 130deg,#62b846 140.5deg,#69b842 154.5deg,#7abb3e 165deg,#b1cc33 184.5deg,#cbd52c 191.5deg,#e4de20 197deg,#f4e317 199.5deg,#fee201 203deg,#fbc111 207deg,#f38a23 218deg,#ee6928 226.5deg,#eb4029 234deg,#ec2226 243deg,#ed2225 259deg,#ea2133 274.5deg,#e92038 290.5deg,#e82047 307deg,#e82045 327deg,#e81f4e 332deg,#e81e6c 335.5deg,#e6248e 340deg,#d73b95 344deg,#c24b9a 348.5deg,#884e9e 360deg)"></i><i style="left:9.7px;top:13.7px;width:292.2px;height:292.2px;background:conic-gradient(#814e9e 0deg,#6b4e9e 4.5deg,#4150a2 21deg,#3a56a5 46.5deg,#3a5ba8 52.5deg,#406eb2 61deg,#406eb2 74deg,#4377b8 77.5deg,#4592ca 81.5deg,#38acde 84deg,#30bdeb 86.5deg,#44c3e6 100.5deg,#5ac0dd 105.5deg,#6ac4cc 110deg,#6bbdab 115.5deg,#65b97e 122deg,#5fb859 131deg,#62b846 141deg,#69b842 155deg,#7abb3e 166deg,#b2cc33 186deg,#ccd52c 192.5deg,#e3de20 197.5deg,#f9e513 201deg,#fee001 204deg,#fcc210 207.5deg,#f38a23 218.5deg,#ee6828 227deg,#eb4029 234deg,#ec2226 243deg,#ed2226 259.5deg,#e81f4a 296deg,#e81f4c 320deg,#e81f5b 326deg,#e6248d 335.5deg,#d53d95 341deg,#c44b9a 345.5deg,#814e9e 360deg)"></i><i style="left:11.7px;top:15.7px;width:288.2px;height:288.2px;background:conic-gradient(#7c4e9e 0deg,#6c4e9e 3.5deg,#4e4fa2 14.5deg,#4051a2 21.5deg,#3a56a5 46.5deg,#3a5ba8 52.5deg,#406db2 61deg,#406db2 74deg,#4377b7 77.5deg,#458fc8 81.5deg,#37aee0 85deg,#2fbeec 88deg,#45c3e6 101.5deg,#5bc0dd 106.5deg,#6ac4ca 111deg,#6bbda9 116.5deg,#65b97d 123deg,#5fb859 132deg,#62b846 142deg,#69b842 155.5deg,#7abb3e 166.5deg,#afcb34 186deg,#cad52c 193deg,#e2dd21 198deg,#f9e514 201.5deg,#fee100 204.5deg,#fcc210 208deg,#f38c23 218.5deg,#ee6828 227deg,#eb4129 234deg,#ec2226 243deg,#ed2225 258deg,#e8203c 279.5deg,#e81e5f 297deg,#e81f71 322deg,#e7217b 326.5deg,#e6248d 331deg,#d63c95 337.5deg,#c24b9a 343.5deg,#7c4e9e 360deg)"></i><i style="left:13.7px;top:17.7px;width:284.2px;height:284.2px;background:conic-gradient(#784e9e 0deg,#6b4e9e 3deg,#504fa2 13.5deg,#3f51a3 22.5deg,#3a56a5 46.5deg,#3a5ca8 53deg,#406cb1 61deg,#406db2 73.5deg,#4376b7 77.5deg,#4590c8 82deg,#38acde 85.5deg,#30bceb 89deg,#38c0ea 96.5deg,#42c2e7 101.5deg,#5bc0dd 107deg,#6ac4cb 111.5deg,#6bbdaa 117deg,#65b97d 124deg,#5fb859 133deg,#62b846 142.5deg,#69b842 156deg,#7abb3e 167.5deg,#abc934 186deg,#cbd52c 194deg,#e4de20 199deg,#f8e515 202deg,#fee200 205deg,#fcc310 208.5deg,#f38c23 219deg,#ee6928 227deg,#eb3f29 234.5deg,#ec2226 243.5deg,#ed2226 258deg,#e8203c 277deg,#e81e6a 295deg,#e72280 319.5deg,#e6248e 326.5deg,#d63b95 334.5deg,#c34b9a 341deg,#784e9e 360deg)"></i><i style="left:15.7px;top:19.7px;width:280.2px;height:280.2px;background:conic-gradient(#754e9e 0deg,#6b4e9e 2.5deg,#4f4fa2 13.5deg,#3f52a3 23deg,#3b55a5 46deg,#3a5ba8 53deg,#3f6bb1 61.5deg,#406db2 73.5deg,#4378b8 78deg,#4590c8 82.5deg,#39aadc 86deg,#32b9e8 89.5deg,#33bfeb 94.5deg,#41c2e7 102deg,#5ac0de 107.5deg,#6ac4cc 112deg,#6bbda9 118deg,#65b97f 124.5deg,#5fb859 134deg,#62b846 143deg,#69b842 156.5deg,#7bbb3e 168.5deg,#a7c736 185.5deg,#cad52c 194.5deg,#f4e317 202deg,#fee201 205.5deg,#fcc310 209deg,#f38b23 219.5deg,#ee6928 227deg,#eb3f29 234.5deg,#ec2226 243.5deg,#ed2226 257deg,#e8203c 275.5deg,#e81e6a 291deg,#e72075 296.5deg,#e6248e 319.5deg,#e3298f 324deg,#d63c95 332deg,#c24b9a 339.5deg,#a64e9d 348deg,#754e9e 360deg)"></i><i style="left:17.7px;top:21.7px;width:276.2px;height:276.2px;background:conic-gradient(#744e9e 0deg,#4c4fa2 14.5deg,#3e52a3 23.5deg,#3b55a5 46deg,#3a5ba8 53deg,#3f6ab0 62deg,#406db2 73.5deg,#4378b8 78deg,#4590c8 83deg,#3aa7da 86.5deg,#33b5e5 90deg,#2fbeec 93.5deg,#3ec1e8 102deg,#5bc0dd 108.5deg,#6ac4ca 113deg,#6bbdaa 118.5deg,#65b97f 125.5deg,#5fb85a 134.5deg,#62b846 143.5deg,#69b842 157deg,#7bbb3e 169.5deg,#a5c736 186deg,#cbd52c 195.5deg,#e2dd21 200deg,#f6e415 203deg,#fee201 206deg,#fcc310 209.5deg,#f38b23 220deg,#ee6a28 227deg,#eb3f29 234.5deg,#ec2226 244deg,#ed2224 253.5deg,#eb212e 264deg,#e8203d 274.5deg,#e81e6a 288.5deg,#e72281 299.5deg,#e6248e 310.5deg,#dd3192 324.5deg,#d53d95 330deg,#c24b9a 338deg,#a44e9d 347.5deg,#744e9e 360deg)"></i><i style="left:19.7px;top:23.7px;width:272.2px;height:272.2px;background:conic-gradient(#724e9e 0deg,#484fa2 16deg,#3d52a3 24deg,#3b55a5 46deg,#3f69af 62.5deg,#406cb1 73deg,#4377b7 78deg,#4590c8 83.5deg,#3ca4d8 87deg,#35b2e2 90.5deg,#2fbeec 95.5deg,#3cc1e9 102deg,#46c3e6 105deg,#5ac0dd 109deg,#6ac4cb 113.5deg,#6bbda9 119.5deg,#64b978 128deg,#5fb85a 135.5deg,#62b846 144deg,#69b842 158deg,#7abb3e 170deg,#8abe3b 177deg,#adca34 189.5deg,#ccd52b 196.5deg,#f6e416 203.5deg,#fee201 206.5deg,#fcc310 210deg,#f38a23 220.5deg,#ee6828 227.5deg,#eb4029 234.5deg,#ec2226 244deg,#ed2225 255deg,#e8203c 273deg,#e81e6b 287deg,#e6248d 303.5deg,#da3693 324.5deg,#c34b9a 336.5deg,#b24e9c 342.5deg,#724e9e 360deg)"></i><i style="left:21.7px;top:25.7px;width:268.2px;height:268.2px;background:conic-gradient(#714e9e 0deg,#4650a2 17deg,#3d53a3 24.5deg,#3b55a5 46deg,#3e68af 63deg,#406cb1 73deg,#4378b8 78.5deg,#4591c9 84.5deg,#37aee0 91deg,#2fbeec 97deg,#39c0e9 102deg,#45c3e6 105.5deg,#59c0de 109.5deg,#6ac4cc 114deg,#6bbdab 120deg,#64b97a 128.5deg,#5fb85b 136deg,#62b847 144.5deg,#69b842 158.5deg,#7abb3e 171deg,#8bbe3b 178.5deg,#acc934 190deg,#cbd52c 197deg,#f5e416 204deg,#fee201 207deg,#fcc210 210.5deg,#f69d1e 217deg,#ee6928 227.5deg,#eb4029 234.5deg,#ec2226 244.5deg,#ed2225 253.5deg,#e8203b 272deg,#e81e6a 285deg,#e6248e 301deg,#d73b95 324.5deg,#c24b9a 335.5deg,#b14e9c 342deg,#714e9e 360deg)"></i><i style="left:23.7px;top:27.7px;width:264.2px;height:264.2px;background:conic-gradient(#704e9e 0deg,#4550a2 17.5deg,#3d53a3 24.5deg,#3b55a5 46.5deg,#3f6bb1 72.5deg,#4378b8 78.5deg,#4590c9 85deg,#3ba6d9 90deg,#2fbeec 98.5deg,#37c0ea 102deg,#44c3e6 106deg,#59c0de 110deg,#6ac4ca 115deg,#6bbdaa 121deg,#64b979 129.5deg,#5fb85a 137deg,#62b846 145.5deg,#6ab842 159.5deg,#7abb3e 172deg,#8bbe3b 179.5deg,#aac935 190.5deg,#cad52c 197.5deg,#e3de21 202deg,#f9e514 205deg,#fee201 207.5deg,#fcc50f 210.5deg,#f69c1e 217.5deg,#ee6a28 227.5deg,#eb4229 234.5deg,#ec2226 245deg,#ed2224 253deg,#e8203c 271.5deg,#e81e69 283.5deg,#e6248d 298.5deg,#d63c95 323.5deg,#c34b9a 334.5deg,#b14e9c 341.5deg,#704e9e 360deg)"></i><i style="left:25.7px;top:29.7px;width:260.2px;height:260.2px;background:conic-gradient(#704e9e 0deg,#4450a2 18deg,#3d53a3 24.5deg,#3a56a5 47deg,#3f6bb1 72.5deg,#4377b7 78.5deg,#4591c9 86deg,#3ca3d7 90.5deg,#2fbdeb 99.5deg,#34bfeb 102deg,#45c3e6 107deg,#5bc0dd 111deg,#6ac4cc 115.5deg,#6bbdab 121.5deg,#64b979 130.5deg,#5fb859 138deg,#62b846 146deg,#69b842 160deg,#7abb3e 173deg,#8bbe3b 180.5deg,#abc935 191.5deg,#ccd52c 198.5deg,#e3dd21 202.5deg,#f9e514 205.5deg,#fee201 208deg,#fcc50f 211deg,#f69e1e 217.5deg,#ee6b28 227.5deg,#eb4029 235deg,#ec2226 245.5deg,#ed2224 253deg,#e8203b 270.5deg,#e81e6a 282.5deg,#e6248e 297deg,#d43e96 323.5deg,#c34b9a 333.5deg,#b14e9c 341deg,#704e9e 360deg)"></i><i style="left:27.7px;top:31.7px;width:256.2px;height:256.2px;background:conic-gradient(#6f4e9e 0deg,#4450a2 18deg,#3d53a3 24.5deg,#3a56a5 47.5deg,#3f6ab0 72deg,#4276b7 78.5deg,#4591c9 87deg,#30bdeb 100.5deg,#32bfeb 102deg,#45c3e6 107.5deg,#5ac0dd 111.5deg,#6ac4cc 116deg,#69bb98 125.5deg,#63c2d4 126deg,#6ac4cc 129deg,#6bbfb2 135.5deg,#61b865 136deg,#5fb85a 138.5deg,#62b847 146.5deg,#69b842 160.5deg,#7abb3e 174deg,#8bbe3b 181.5deg,#a9c835 192deg,#cbd52c 199deg,#f9e514 206deg,#fee200 208.5deg,#fcc40f 211.5deg,#f7a01d 217.5deg,#ee6a28 228deg,#eb4229 235deg,#ec2226 246.5deg,#ed2224 253deg,#e8203c 270deg,#e81e6a 281deg,#e6248e 295.5deg,#d23f96 323.5deg,#c34b9a 333deg,#b04e9c 341deg,#6f4e9e 360deg)"></i><i style="left:29.7px;top:33.7px;width:252.2px;height:252.2px;background:conic-gradient(#6f4e9e 0deg,#4350a2 18.5deg,#3d53a3 24.5deg,#3a56a6 48deg,#3f69b0 71.5deg,#4276b7 78.5deg,#4591c9 88deg,#2fbdec 101.5deg,#45c3e6 108deg,#64c2d3 115deg,#43c3e7 115.5deg,#44c3e6 116deg,#5bc0dd 122.5deg,#6ac4cc 129deg,#6bbdaa 137.5deg,#65b97f 146deg,#62b848 146.5deg,#62b847 147deg,#69b842 161.5deg,#7abb3e 175deg,#8bbe3b 182.5deg,#a8c835 192.5deg,#cad52c 199.5deg,#f9e513 206.5deg,#fee100 209deg,#fcc310 212deg,#f7a21d 217.5deg,#ee6b28 228deg,#eb4429 235deg,#eb3328 240deg,#ec2226 247deg,#ed2224 253.5deg,#e8203c 269.5deg,#e81e6a 280deg,#e6248e 294.5deg,#d04096 323.5deg,#c34b9a 332deg,#b04e9c 340.5deg,#6f4e9e 360deg)"></i><i style="left:30.8px;top:34.8px;width:250.0px;height:250.0px;background:conic-gradient(#6f4e9e 0deg,#4450a2 18deg,#3d52a3 24deg,#3a56a6 48deg,#3f69af 71deg,#4275b6 78.5deg,#4591c9 88.5deg,#2fbeec 102deg,#43c3e6 108deg,#55c1df 111.5deg,#3ac0e9 112deg,#44c3e6 116deg,#5bc0dd 122.5deg,#69c4cd 128.5deg,#6bbdaa 137.5deg,#63b96f 149.5deg,#63b845 150deg,#69b842 161.5deg,#79bb3e 175deg,#90c03a 185deg,#acca34 194deg,#cbd52c 200deg,#f8e515 206.5deg,#fee201 209deg,#fcc50f 212deg,#f69e1e 218.5deg,#ee6928 228.5deg,#eb4529 235deg,#eb3428 240deg,#ec2226 247.5deg,#ed2224 253.5deg,#e8203b 269deg,#e81e6a 279.5deg,#e6248e 294deg,#dc3392 305.5deg,#d04197 323.5deg,#c34b9a 332deg,#af4e9c 340.5deg,#6f4e9e 360deg)"></i><i style="left:33.8px;top:37.8px;width:244.0px;height:244.0px;background:conic-gradient(#6f4e9e 0deg,#4450a2 18deg,#3d52a3 24deg,#3a57a6 49deg,#3e66ae 69.5deg,#4273b5 78deg,#4590c9 90deg,#38abdd 98.5deg,#30beec 103deg,#34bfeb 104.5deg,#37aee0 105deg,#2fbeec 108deg,#44c3e6 116deg,#5bc0dd 122.5deg,#6ac4cc 129deg,#6bbdaa 137.5deg,#65b97d 146.5deg,#5fb85a 154.5deg,#60b855 156.5deg,#66b844 157deg,#7abb3e 177deg,#9dc338 191deg,#b2cc33 196.5deg,#c9d42d 200.5deg,#f7e415 207deg,#fee202 209.5deg,#fedf02 210deg,#fcc50f 212.5deg,#f7a41c 218deg,#ef7127 227.5deg,#ec4929 235deg,#eb3828 239.5deg,#ec2226 248.5deg,#ed2224 254deg,#e8203b 268.5deg,#e81e6b 278.5deg,#e6248e 292.5deg,#db3493 305deg,#d14096 320.5deg,#c34b9a 331deg,#a34e9d 344.5deg,#6f4e9e 360deg)"></i><i style="left:36.8px;top:40.8px;width:238.0px;height:238.0px;background:conic-gradient(#6f4e9e 0deg,#4750a2 16.5deg,#3e52a3 23deg,#3a57a6 48.5deg,#3d63ac 67.5deg,#4171b4 77.5deg,#4591c9 92deg,#3aa7da 98.5deg,#4590c8 99deg,#2fbeec 108deg,#44c3e6 116deg,#5bc0dd 122.5deg,#6ac4cc 129deg,#6bbdaa 137.5deg,#65b97f 146deg,#5fb85a 154.5deg,#62b847 162.5deg,#69b842 163deg,#7abb3e 178.5deg,#9cc338 192deg,#b2cc33 197.5deg,#cbd52c 201.5deg,#f9e513 208deg,#fedf01 210.5deg,#fcc60f 213deg,#f8a71b 218deg,#f28224 225deg,#ec4d29 235deg,#eb4029 238deg,#ec2226 249.5deg,#ed2224 254.5deg,#e8203b 268deg,#e81e6b 277.5deg,#e6248e 291deg,#da3793 305.5deg,#cf4197 320.5deg,#c34b9a 330deg,#a44e9d 344deg,#6f4e9e 360deg)"></i><i style="left:39.8px;top:43.8px;width:232.0px;height:232.0px;background:conic-gradient(#704e9e 0deg,#4750a2 17deg,#3e52a3 23.5deg,#3a57a6 48deg,#3d63ac 68.5deg,#4273b5 79deg,#4591c9 93.5deg,#4481be 94deg,#4592ca 99.5deg,#2fbeec 108deg,#44c3e6 116deg,#5bc0dd 122.5deg,#6ac4cc 129deg,#6bbdaa 137.5deg,#65b97f 146deg,#5fb85a 154.5deg,#62b846 163deg,#64b845 167.5deg,#6cb941 168deg,#7bbb3e 180deg,#9cc338 193deg,#b1cb33 198deg,#cad42c 202deg,#f9e513 208.5deg,#fee001 211deg,#fcc60e 213.5deg,#f8a81b 218.5deg,#f38923 224.5deg,#ec5229 235deg,#eb3f29 239.5deg,#ec2226 251deg,#ed2224 255deg,#e8203c 268deg,#e81e6a 276.5deg,#e6248e 289.5deg,#d83994 306deg,#ce4297 320.5deg,#c24b9a 330deg,#a24e9d 344.5deg,#704e9e 360deg)"></i><i style="left:42.8px;top:46.8px;width:226.0px;height:226.0px;background:conic-gradient(#704e9e 0deg,#4150a2 20deg,#3b54a4 28deg,#3a57a6 47.5deg,#3d63ac 69deg,#4485c1 88.5deg,#4273b5 89deg,#4592ca 99.5deg,#2fbeec 108deg,#44c3e6 116deg,#5bc0dd 122.5deg,#6ac4cc 129deg,#6bbdaa 137.5deg,#65b97f 146deg,#5fb85a 154.5deg,#62b846 163deg,#66b844 172.5deg,#71b940 173deg,#7abb3e 181deg,#9ec438 194.5deg,#b2cc33 199deg,#ccd62b 203deg,#f9e513 209deg,#fee001 211.5deg,#fcc310 214.5deg,#f8a71b 219.5deg,#ed5b28 234.5deg,#eb4029 241deg,#ec2226 252deg,#ed2224 256deg,#e8203c 268deg,#e81e6c 276.5deg,#e6248e 288.5deg,#d63b95 307.5deg,#c14b9a 330deg,#a14e9d 344.5deg,#704e9e 360deg)"></i><i style="left:45.8px;top:49.8px;width:220.0px;height:220.0px;background:conic-gradient(#714e9e 0deg,#4250a2 20deg,#3c53a4 27.5deg,#3a57a6 48deg,#3d63ac 69.5deg,#437aba 84.5deg,#3f69b0 85deg,#4592ca 99.5deg,#2fbeec 108deg,#44c3e6 116deg,#5bc0dd 122.5deg,#6ac4cc 129deg,#6bbdaa 137.5deg,#65b97f 146deg,#5fb85a 154.5deg,#62b846 163deg,#68b843 176.5deg,#74ba3f 177deg,#7abb3e 182deg,#8dbf3b 190deg,#a1c537 196deg,#bbcf30 201deg,#e1dd21 206.5deg,#f9e513 209.5deg,#fee101 212deg,#fbc111 215.5deg,#f8a71b 220.5deg,#ef7327 231deg,#eb4029 243deg,#ec2226 253deg,#ed2225 257deg,#e8203b 268deg,#e81e6b 276deg,#e6248e 287.5deg,#d63c95 307deg,#c04c9a 330deg,#9f4e9e 345deg,#714e9e 360deg)"></i><i style="left:48.8px;top:52.8px;width:214.0px;height:214.0px;background:conic-gradient(#724e9e 0deg,#4350a2 20deg,#3c53a4 27deg,#3a5ba8 57deg,#3d63ac 70.5deg,#4172b4 80.5deg,#3c62ab 81deg,#3d63ac 82deg,#4590c8 99deg,#2fbeec 108deg,#44c3e6 116deg,#5bc0dd 122.5deg,#6ac4cc 129deg,#6bbdaa 137.5deg,#65b97f 146deg,#5fb85a 154.5deg,#62b846 163deg,#6ab842 180.5deg,#77bb3f 181deg,#88be3b 189deg,#9ac338 195deg,#b2cc33 200deg,#c9d42d 203.5deg,#f9e514 210deg,#fee200 212.5deg,#fcc310 216deg,#f38b23 227.5deg,#eb4029 245deg,#ec2226 254.5deg,#ed2225 258deg,#e8203c 268.5deg,#e81e6b 276deg,#e7217e 281deg,#e6248e 287.5deg,#d63c95 306deg,#be4c9b 330.5deg,#9e4e9e 345.5deg,#724e9e 360deg)"></i><i style="left:51.8px;top:55.8px;width:208.0px;height:208.0px;background:conic-gradient(#734e9e 0deg,#4250a2 21deg,#3c53a4 28deg,#3a5ba8 57deg,#3d63ac 71deg,#3f6bb0 76.5deg,#3b5ea9 77deg,#3d63ac 82deg,#4590c8 99deg,#2fbeec 108deg,#44c3e6 116deg,#5bc0dd 122.5deg,#6ac4cc 129deg,#6bbdaa 137.5deg,#65b97f 146deg,#5fb85a 154.5deg,#62b846 163deg,#6eb941 184.5deg,#7cbb3e 185deg,#9cc338 196deg,#b2cc33 200.5deg,#c9d42d 204deg,#f8e515 210.5deg,#fee001 213.5deg,#fcc410 217deg,#f38c23 229deg,#ee6728 238deg,#eb4029 247deg,#ec2226 255.5deg,#ed2225 259deg,#e8203c 269deg,#e81e6d 276.5deg,#e7217e 281deg,#e6248e 287.5deg,#d63c95 306deg,#bd4c9b 330.5deg,#9d4e9e 346deg,#734e9e 360deg)"></i><i style="left:54.8px;top:58.8px;width:202.0px;height:202.0px;background:conic-gradient(#744e9e 0deg,#4250a2 21deg,#3c53a4 28.5deg,#3a5ba8 57.5deg,#3d64ac 72.5deg,#3a5ba8 73deg,#3d63ac 82deg,#4590c8 99deg,#2fbeec 108deg,#44c3e6 116deg,#5bc0dd 122.5deg,#6ac4cc 129deg,#6bbdaa 137.5deg,#65b97f 146deg,#5fb85a 154.5deg,#62b846 163deg,#69b842 180deg,#72ba40 188.5deg,#84bd3c 189deg,#9ec438 197deg,#b2cc33 201deg,#ccd52c 205deg,#f9e514 211.5deg,#fee101 214.5deg,#fcc50f 218deg,#f38c23 231deg,#ee6828 240.5deg,#eb4029 249deg,#ec2226 257deg,#ed2225 260deg,#e8203b 269.5deg,#e81f70 277.5deg,#e6248e 288deg,#d63c95 305.5deg,#bd4c9b 330.5deg,#9c4e9e 346.5deg,#744e9e 360deg)"></i><i style="left:57.8px;top:61.8px;width:196.0px;height:196.0px;background:conic-gradient(#754e9e 0deg,#4150a2 22deg,#3b54a4 29.5deg,#3c61ab 69deg,#3a59a7 69.5deg,#3d63ac 82deg,#4590c8 99deg,#2fbeec 108deg,#44c3e6 116deg,#5bc0dd 122.5deg,#6ac4cc 129deg,#6bbdaa 137.5deg,#65b97f 146deg,#5fb85a 154.5deg,#62b846 163deg,#69b842 180deg,#75ba3f 192deg,#8bbe3b 192.5deg,#a5c736 199deg,#cbd52c 205.5deg,#f9e514 212.5deg,#fee201 215.5deg,#fcc310 220deg,#f38c23 233.5deg,#ee6828 243deg,#eb3f29 251deg,#ec2226 258deg,#ed2224 261deg,#e8203c 270.5deg,#e81f6f 278deg,#e6248e 289deg,#d63c95 306deg,#bc4c9b 331deg,#9b4e9e 347deg,#754e9e 360deg)"></i><i style="left:60.8px;top:64.8px;width:190.0px;height:190.0px;background:conic-gradient(#764e9e 0deg,#6c4e9e 3deg,#4350a2 22deg,#3b54a4 30deg,#3b5faa 65deg,#3a57a6 65.5deg,#3d63ac 82deg,#4590c8 99deg,#2fbeec 108deg,#44c3e6 116deg,#5ac0de 122deg,#6ac4cc 129deg,#6bbdaa 137.5deg,#65b97f 146deg,#5fb85a 154.5deg,#62b846 163deg,#69b842 180deg,#79bb3e 196deg,#97c239 196.5deg,#b1cb33 202deg,#ccd52c 206.5deg,#f9e513 214deg,#fee101 217.5deg,#fcc50f 221.5deg,#f38b23 236.5deg,#ee6a28 245deg,#eb4129 252.5deg,#ec2226 259.5deg,#ed2224 262deg,#e8203c 271.5deg,#e81e6c 278.5deg,#e6248e 290deg,#d63c95 306.5deg,#bb4c9b 331.5deg,#9a4e9e 347.5deg,#764e9e 360deg)"></i><i style="left:63.8px;top:67.8px;width:184.0px;height:184.0px;background:conic-gradient(#784e9e 0deg,#6c4e9e 3.5deg,#4450a2 22deg,#3b54a4 30.5deg,#3b5ca9 61.5deg,#3a56a5 62deg,#3d63ac 82deg,#4590c8 99deg,#2fbeec 108deg,#44c3e6 116deg,#5ac0de 122deg,#6ac4cc 129deg,#6bbdaa 137.5deg,#65b97f 146deg,#5fb85a 154.5deg,#62b846 163deg,#69b842 180deg,#7fbc3d 199.5deg,#a4c636 200deg,#ccd52b 207.5deg,#f9e514 215.5deg,#fee201 219deg,#fcc410 224deg,#f38c23 239deg,#ee6928 247.5deg,#eb3f29 254.5deg,#ec2226 261deg,#ed2224 263.5deg,#e8203c 272.5deg,#e81e6c 280deg,#e6248e 291.5deg,#d63c95 308deg,#ba4c9b 332deg,#9b4e9e 347.5deg,#784e9e 360deg)"></i><i style="left:66.8px;top:70.8px;width:178.0px;height:178.0px;background:conic-gradient(#7a4e9e 0deg,#6b4e9e 4.5deg,#494fa2 20deg,#3c53a4 30deg,#3a5ba8 58deg,#3b55a4 58.5deg,#3d63ac 82deg,#4590c8 99deg,#2fbeec 108deg,#44c3e6 116deg,#5ac0de 122deg,#6ac4cc 129deg,#6bbdaa 137.5deg,#65b97f 146deg,#5fb85a 154.5deg,#62b846 163deg,#69b842 180deg,#7abb3e 197deg,#85bd3c 203deg,#b0cb33 203.5deg,#ccd52c 208.5deg,#f8e515 217deg,#fee101 221.5deg,#fcc410 226.5deg,#f38b23 242deg,#ee6a28 249.5deg,#eb4029 256deg,#ec2226 262.5deg,#ed2225 265deg,#e8203c 274deg,#e81e6a 281.5deg,#e6248e 293.5deg,#d63c95 309deg,#b94d9b 333deg,#9b4e9e 348deg,#7a4e9e 360deg)"></i><i style="left:69.8px;top:73.8px;width:172.0px;height:172.0px;background:conic-gradient(#7c4e9e 0deg,#6c4e9e 5deg,#4f4fa2 18deg,#3e52a3 29deg,#3a59a7 54deg,#3d53a3 54.5deg,#3d63ac 82deg,#4590c8 99deg,#2fbeec 108deg,#44c3e6 116deg,#5ac0de 122deg,#6ac4cc 129deg,#6bbdaa 137.5deg,#65b97f 146deg,#5fb85a 154.5deg,#62b846 163deg,#69b842 180deg,#7abb3e 197deg,#8dbf3a 207deg,#c0d12f 207.5deg,#f7e415 219deg,#fee001 224deg,#fcc40f 229deg,#f38c23 244.5deg,#ee6a28 251.5deg,#eb4129 257.5deg,#ec2226 264deg,#ed2224 266deg,#e8203c 275.5deg,#e81e6b 283.5deg,#e6248e 295.5deg,#d63c95 310.5deg,#c34b9a 326.5deg,#a74e9d 343deg,#7c4e9e 360deg)"></i><i style="left:72.8px;top:76.8px;width:166.0px;height:166.0px;background:conic-gradient(#7d4e9e 0deg,#6c4e9e 5.5deg,#3f51a3 28deg,#3a58a7 50.5deg,#3f51a3 51deg,#3a57a6 65.5deg,#3d63ac 82deg,#4590c8 99deg,#2fbeec 108deg,#44c3e6 116deg,#5ac0de 122deg,#6ac4cc 129deg,#6bbdaa 137.5deg,#65b97f 146deg,#5fb85a 154.5deg,#62b846 163deg,#69b842 180deg,#7abb3e 197deg,#95c139 210.5deg,#cad52c 211deg,#f8e514 221.5deg,#fee100 226.5deg,#fcc40f 232deg,#f38b23 247deg,#ee6928 253.5deg,#eb3f29 259.5deg,#ec2226 265.5deg,#ed2224 267.5deg,#e8203b 277deg,#e81e6a 285.5deg,#e6258e 297.5deg,#d63c95 311.5deg,#c34b9a 327deg,#a84e9d 343deg,#7d4e9e 360deg)"></i><i style="left:75.8px;top:79.8px;width:160.0px;height:160.0px;background:conic-gradient(#7f4e9e 0deg,#6c4e9e 6deg,#4150a2 27deg,#3a57a6 46.5deg,#4450a2 47deg,#4150a2 48.5deg,#3b54a4 57deg,#3d63ac 82deg,#4590c8 99deg,#2fbeec 108deg,#44c3e6 116deg,#5ac0de 122deg,#6ac4cc 129deg,#6bbdaa 137.5deg,#65b97f 146deg,#5fb85a 154.5deg,#62b846 163deg,#69b842 180deg,#7abb3e 197deg,#9ec438 214.5deg,#d4d828 215deg,#f8e515 224deg,#fee101 229.5deg,#fcc50f 235deg,#f38923 249.5deg,#ee6828 255.5deg,#eb4029 261deg,#ec2226 267deg,#ed2225 269.5deg,#e8203c 279deg,#e81e6a 287.5deg,#e6248e 299.5deg,#d63c95 313deg,#c34b9a 328deg,#a84e9d 343.5deg,#7f4e9e 360deg)"></i><i style="left:78.8px;top:82.8px;width:154.0px;height:154.0px;background:conic-gradient(#814e9e 0deg,#6b4e9e 7deg,#4150a2 28deg,#3a56a5 42.5deg,#4a4fa2 43deg,#3b54a4 57deg,#3d63ac 82deg,#4590c8 99deg,#2fbeec 108deg,#44c3e6 116deg,#5ac0de 122deg,#6ac4cc 129deg,#6bbdaa 137.5deg,#65b97f 146deg,#5fb85a 154.5deg,#62b846 163deg,#69b842 180deg,#7abb3e 197deg,#a8c835 218.5deg,#dbdb24 219deg,#f9e514 227deg,#fee101 232.5deg,#fcc40f 238deg,#f38c23 251deg,#ee6928 257deg,#eb4029 262.5deg,#ec2226 268.5deg,#ed2224 271deg,#e8203c 281deg,#e81e6b 290deg,#e6248e 301.5deg,#d63c95 314.5deg,#c34b9a 328.5deg,#a84e9d 344deg,#814e9e 360deg)"></i><i style="left:81.8px;top:85.8px;width:148.0px;height:148.0px;background:conic-gradient(#834e9e 0deg,#6b4e9e 7.5deg,#4150a2 29deg,#3b54a4 38.5deg,#514fa2 39deg,#4150a2 48.5deg,#3b54a4 57deg,#3d63ac 82deg,#4590c8 99deg,#2fbeec 108deg,#44c3e6 116deg,#5ac0de 122deg,#6ac4cc 129deg,#6bbdaa 137.5deg,#65b97f 146deg,#5fb85a 154.5deg,#62b846 163deg,#69b842 180deg,#7abb3e 197deg,#9bc338 213.5deg,#b2cc33 222.5deg,#e0dd22 223deg,#f9e514 230deg,#fee101 235.5deg,#fcc50f 240.5deg,#f38b23 253deg,#ee6a28 258.5deg,#eb4129 264deg,#ec2226 270deg,#ed2224 272.5deg,#e8203b 283deg,#e81e6a 292deg,#e6248e 303.5deg,#d63c95 316deg,#c34b9a 329.5deg,#a94e9d 344deg,#834e9e 360deg)"></i><i style="left:84.8px;top:88.8px;width:142.0px;height:142.0px;background:conic-gradient(#844e9e 0deg,#6c4e9e 8deg,#4150a2 30deg,#3e52a3 34deg,#594ea1 34.5deg,#4150a2 48.5deg,#3b54a4 56.5deg,#3d63ac 82deg,#4590c8 99deg,#2fbeec 108deg,#44c3e6 116deg,#5ac0de 122deg,#6ac4cc 129deg,#6bbdaa 137.5deg,#65b97f 146deg,#5fb85a 154.5deg,#62b846 163deg,#69b842 180deg,#7abb3e 197deg,#9cc338 214deg,#c0d12f 227deg,#e6df1f 227.5deg,#f8e514 232.5deg,#fee200 238deg,#fcc50f 243deg,#f38c23 254.5deg,#ee6828 260.5deg,#eb3f29 266deg,#ec2226 272deg,#ed2224 274.5deg,#e8203d 285.5deg,#e81e69 294deg,#e6248e 305.5deg,#d63c95 317.5deg,#c34b9a 330deg,#a94e9d 344.5deg,#844e9e 360deg)"></i><i style="left:87.8px;top:91.8px;width:136.0px;height:136.0px;background:conic-gradient(#854e9e 0deg,#6c4e9e 8.5deg,#4450a2 29.5deg,#614ea0 30deg,#4150a2 48.5deg,#3b54a4 56.5deg,#3d63ac 82deg,#4590c8 99deg,#2fbeec 108deg,#44c3e6 116deg,#5ac0de 122deg,#6ac4cc 129deg,#6bbdaa 137.5deg,#65b97f 146deg,#5fb85a 154.5deg,#62b846 163deg,#69b842 180deg,#7abb3e 197deg,#8abe3b 205.5deg,#b2cc33 222.5deg,#cdd62b 231.5deg,#ede11b 232deg,#f9e514 235.5deg,#fee200 240.5deg,#fcc50f 245deg,#f38923 256.5deg,#ee6828 262deg,#eb4029 267.5deg,#ec2226 273.5deg,#ed2225 276.5deg,#e8203c 287.5deg,#e81e6b 296.5deg,#e6248e 307.5deg,#d63c95 319deg,#c34b9a 331deg,#a94e9d 345deg,#854e9e 360deg)"></i><i style="left:90.8px;top:94.8px;width:130.0px;height:130.0px;background:conic-gradient(#864e9e 0deg,#6c4e9e 9deg,#4e4fa2 24.5deg,#694e9e 25deg,#4150a2 49deg,#3b54a4 57deg,#3d63ac 82deg,#4590c8 99deg,#2fbeec 108deg,#44c3e6 116deg,#5ac0de 122deg,#6ac4cc 129deg,#6bbdaa 137.5deg,#65b97f 146deg,#5fb85a 154.5deg,#62b846 163deg,#69b842 180deg,#7abb3e 197deg,#8abe3b 205.5deg,#b2cc33 222.5deg,#dada25 236deg,#f4e317 236.5deg,#fee100 242.5deg,#fcc50f 246.5deg,#f38923 258deg,#ee6828 263.5deg,#eb4029 269deg,#ec2226 275.5deg,#ed2224 278deg,#e8203c 289.5deg,#e81e6a 298.5deg,#e6248e 309deg,#d63c95 320.5deg,#c34b9a 332deg,#aa4e9d 345deg,#864e9e 360deg)"></i><i style="left:93.8px;top:97.8px;width:124.0px;height:124.0px;background:conic-gradient(#884e9e 0deg,#6c4e9e 9.5deg,#5a4ea1 19.5deg,#744e9e 20deg,#4150a2 49deg,#3b54a4 57deg,#3d63ac 82deg,#4590c8 99deg,#2fbeec 108deg,#44c3e6 116deg,#5ac0de 122deg,#6ac4cc 129deg,#6bbdaa 137.5deg,#65b97f 146deg,#5fb85a 154.5deg,#62b846 163deg,#69b842 180deg,#7abb3e 197deg,#8abe3b 205.5deg,#b2cc33 222.5deg,#e3de21 239deg,#ece11c 241.5deg,#fce309 242deg,#fee101 244deg,#fcc50f 248deg,#f38c23 259deg,#ee6828 265deg,#eb4129 270.5deg,#ec2226 277deg,#ed2224 280deg,#e8203c 291.5deg,#e81e6a 300.5deg,#e6248e 311deg,#d63c95 321.5deg,#c34b9a 333deg,#ac4e9c 345deg,#884e9e 360deg)"></i><i style="left:96.8px;top:100.8px;width:118.0px;height:118.0px;background:conic-gradient(#894e9e 0deg,#664e9f 13.5deg,#854e9e 14deg,#6c4e9e 23deg,#4150a2 48.5deg,#3b54a4 57deg,#3d63ac 82deg,#4590c8 99deg,#2fbeec 108deg,#44c3e6 116deg,#5ac0de 122deg,#6ac4cc 129deg,#6bbdaa 137.5deg,#65b97f 146deg,#5fb85a 154.5deg,#62b846 163deg,#69b842 180deg,#7abb3e 197deg,#9cc338 214deg,#cad52c 230.5deg,#f9e513 245.5deg,#fbe40b 247.5deg,#fdcd0b 248deg,#fcc60f 249deg,#f8a81b 255deg,#ee6b28 266deg,#eb3f29 272.5deg,#ec2226 279deg,#ed2224 282deg,#e8203c 293.5deg,#e81e6a 302.5deg,#e6248e 312.5deg,#d63c95 323deg,#c34b9a 334deg,#894e9e 360deg)"></i><i style="left:99.8px;top:103.8px;width:112.0px;height:112.0px;background:conic-gradient(#8b4e9e 0deg,#774e9e 7deg,#964e9e 7.5deg,#6c4e9e 23deg,#4150a2 48.5deg,#3b54a4 57deg,#3d63ac 82deg,#4590c8 99deg,#2fbeec 108deg,#44c3e6 116deg,#5ac0de 122deg,#6ac4cc 129deg,#6bbdaa 137.5deg,#65b97f 146deg,#5fb85a 154.5deg,#62b846 163deg,#69b842 180deg,#7abb3e 197deg,#9cc338 214deg,#ccd52c 231deg,#f8e514 245deg,#fee200 250.5deg,#fdd109 254deg,#f9b018 254.5deg,#ee6b28 267.5deg,#eb3f29 274deg,#ec2226 280.5deg,#ed2224 283.5deg,#e8203c 295.5deg,#e81e6b 304.5deg,#e6258e 314.5deg,#d63c95 324.5deg,#c34b9a 335deg,#8b4e9e 360deg)"></i><i style="left:102.8px;top:106.8px;width:106.0px;height:106.0px;background:conic-gradient(#aa4e9d 0deg,#6c4e9e 23deg,#4150a2 48.5deg,#3b54a4 57deg,#3d63ac 82deg,#4590c8 99deg,#2fbeec 108deg,#44c3e6 116deg,#5ac0de 122deg,#6ac4cc 129deg,#6bbdaa 137.5deg,#65b97f 146deg,#5fb85a 154.5deg,#62b846 163deg,#69b842 180deg,#7abb3e 197deg,#9cc338 214deg,#ccd52c 231deg,#f8e514 245deg,#fee200 250.5deg,#fcc40f 256.5deg,#fab416 261.5deg,#f49022 262deg,#f38b23 263deg,#ee6a28 269deg,#eb4029 275.5deg,#ec2226 282.5deg,#ed2224 285.5deg,#e8203c 297.5deg,#e81e6a 306deg,#e6248e 316deg,#d63c95 325.5deg,#c34b9a 335.5deg,#8d4e9e 359.5deg,#aa4e9d 360deg)"></i><i style="left:105.8px;top:109.8px;width:100.0px;height:100.0px;background:conic-gradient(#aa4e9d 0deg,#6c4e9e 23deg,#4150a2 48.5deg,#3b54a4 57deg,#3d63ac 82deg,#4590c8 99deg,#2fbeec 108deg,#44c3e6 116deg,#5ac0de 122deg,#6ac4cc 129deg,#6bbdaa 137.5deg,#65b97f 146deg,#5fb85a 154.5deg,#62b846 163deg,#69b842 180deg,#7abb3e 197deg,#9cc338 214deg,#ccd52c 231deg,#f8e514 245deg,#fee200 250.5deg,#fcc40f 256.5deg,#f49321 271deg,#ee6328 271.5deg,#eb4029 277deg,#ec2226 284deg,#ed2224 287deg,#e8203c 299deg,#e81e6b 308deg,#e6258e 317.5deg,#d63c95 327deg,#c34b9a 336.5deg,#a74e9d 350deg,#c04b9a 350.5deg,#aa4e9d 360deg)"></i><i style="left:108.8px;top:112.8px;width:94.0px;height:94.0px;background:conic-gradient(#aa4e9d 0deg,#6c4e9e 23deg,#4150a2 48.5deg,#3b54a4 57deg,#3d63ac 82deg,#4590c8 99deg,#2fbeec 108deg,#44c3e6 116deg,#5ac0de 122deg,#6ac4cc 129deg,#6bbdaa 137.5deg,#65b97f 146deg,#5fb85a 154.5deg,#62b846 163deg,#69b842 180deg,#7abb3e 197deg,#9cc338 214deg,#ccd52c 231deg,#f8e514 245deg,#fee200 250.5deg,#fcc40f 256.5deg,#f8a81b 265deg,#ed5f28 284deg,#ec2626 284.5deg,#ec2226 285.5deg,#ed2225 289deg,#e8203d 301deg,#e81e6a 309.5deg,#e6258e 319deg,#d63c95 328deg,#c44a9a 337deg,#dc3392 337.5deg,#c34b9a 349deg,#aa4e9d 360deg)"></i><i style="left:111.8px;top:115.8px;width:88.0px;height:88.0px;background:conic-gradient(#aa4e9d 0deg,#6c4e9e 23deg,#4150a2 48.5deg,#3b54a4 57deg,#3d63ac 82deg,#4590c8 99deg,#2fbeec 108deg,#44c3e6 116deg,#5ac0de 122deg,#6ac4cc 129deg,#6bbdaa 137.5deg,#65b97f 146deg,#5fb85a 154.5deg,#62b846 163deg,#69b842 180deg,#7abb3e 197deg,#9cc338 214deg,#ccd52c 231deg,#f8e514 245deg,#fee200 250.5deg,#fcc40f 256.5deg,#f38c23 273deg,#ee6828 282deg,#eb4129 290deg,#ec2226 299deg,#ed2224 302.5deg,#e8203d 315.5deg,#e81e69 323.5deg,#e6258e 332.5deg,#d63c95 340.5deg,#c34b9a 349deg,#aa4e9d 360deg)"></i><i style="left:113.6px;top:117.6px;width:84.3px;height:84.3px;background:conic-gradient(from 302.400deg,#ed2224 0deg,#e8203c 12.96deg,#e81e6a 21.24deg,#e6248e 29.88deg,#d63c95 38.16deg,#c34b9a 46.8deg,#b04e9c 55.08deg,#9a4e9e 63.72deg,#844e9e 72deg,#6c4e9e 80.64deg,#5e4ea0 89.28deg,#4f4fa2 97.56deg,#4150a2 106.2deg,#3b54a4 114.5deg,#3a57a6 123.1deg,#3a5ba8 131.4deg,#3d63ac 140deg,#4378b8 148.7deg,#4591c9 157deg,#2fbeec 165.6deg,#45c3e6 173.9deg,#5bc0dd 180deg,#6ac4cc 186.5deg,#6bbdaa 195.1deg,#65b97e 203.8deg,#5fb85a 212deg,#62b846 220.7deg,#69b842 237.6deg,#7abb3e 254.5deg,#8abe3b 263.2deg,#9cc338 271.4deg,#b2cc33 280.1deg,#cbd52c 288.4deg,#e4de20 297deg,#f9e514 302.8deg,#fee200 308.2deg,#fcc50f 313.9deg,#f8a81b 322.6deg,#f38b23 330.8deg,#ee6928 339.5deg,#eb4029 347.8deg,#ec2226 356.4deg,#ed2224 360deg)"></i></div>
<svg id="fig" width="1570" height="1582" viewBox="0 0 1570 1582">
<defs>
<clipPath id="discb"><circle cx="468.5" cy="663.2" r="186.3"/></clipPath>
<filter id="inferno" x="270" y="464" width="400" height="400" filterUnits="userSpaceOnUse" color-interpolation-filters="sRGB">
<feGaussianBlur stdDeviation="1.8"/>
<feComponentTransfer><feFuncR type="table" tableValues=".071 .118 .18 .271 .333 .4 .478 .549 .627 .741 .808 .855 .894 .925 .941 .961 .976 .984 .992 .992 .992 .996 .996 1 1"/><feFuncG type="table" tableValues=".039 .059 .102 .149 .165 .161 .173 .192 .212 .251 .29 .341 .396 .447 .49 .573 .651 .71 .761 .796 .835 .882 .925 .965 .996"/><feFuncB type="table" tableValues=".094 .133 .243 .369 .494 .498 .455 .384 .322 .271 .227 .173 .141 .129 .122 .118 .141 .18 .263 .333 .439 .565 .714 .863 .973"/></feComponentTransfer>
</filter><linearGradient id="cbb" gradientUnits="userSpaceOnUse" x1="0" y1="870.7" x2="0" y2="460.6"><stop offset="0.0000" stop-color="#120a18"/><stop offset="0.0167" stop-color="#1e0f22"/><stop offset="0.0333" stop-color="#2e1a3e"/><stop offset="0.0500" stop-color="#45265e"/><stop offset="0.0667" stop-color="#552a7e"/><stop offset="0.0833" stop-color="#66297f"/><stop offset="0.1000" stop-color="#7a2c74"/><stop offset="0.1167" stop-color="#8c3162"/><stop offset="0.1333" stop-color="#a03652"/><stop offset="0.1667" stop-color="#bd4045"/><stop offset="0.2000" stop-color="#ce4a3a"/><stop offset="0.2333" stop-color="#da572c"/><stop offset="0.2667" stop-color="#e46524"/><stop offset="0.3000" stop-color="#ec7221"/><stop offset="0.3333" stop-color="#f07d1f"/><stop offset="0.4000" stop-color="#f5921e"/><stop offset="0.4667" stop-color="#f9a624"/><stop offset="0.5333" stop-color="#fbb52e"/><stop offset="0.6000" stop-color="#fdc243"/><stop offset="0.6667" stop-color="#fdcb55"/><stop offset="0.7333" stop-color="#fdd570"/><stop offset="0.8000" stop-color="#fee190"/><stop offset="0.8667" stop-color="#feecb6"/><stop offset="0.9333" stop-color="#fff6dc"/><stop offset="1.0000" stop-color="#fffef8"/></linearGradient>
<linearGradient id="cbc" gradientUnits="userSpaceOnUse" x1="0" y1="454.2" x2="0" y2="879.3"><stop offset="0.000" stop-color="#ED2224"/><stop offset="0.036" stop-color="#E8203C"/><stop offset="0.059" stop-color="#E81E6A"/><stop offset="0.083" stop-color="#E6248E"/><stop offset="0.106" stop-color="#D63C95"/><stop offset="0.130" stop-color="#C34B9A"/><stop offset="0.153" stop-color="#B04E9C"/><stop offset="0.177" stop-color="#9A4E9E"/><stop offset="0.200" stop-color="#844E9E"/><stop offset="0.224" stop-color="#6C4E9E"/><stop offset="0.248" stop-color="#5E4EA0"/><stop offset="0.271" stop-color="#4F4FA2"/><stop offset="0.295" stop-color="#4150A2"/><stop offset="0.318" stop-color="#3B54A4"/><stop offset="0.342" stop-color="#3A57A6"/><stop offset="0.365" stop-color="#3A5BA8"/><stop offset="0.389" stop-color="#3D63AC"/><stop offset="0.413" stop-color="#4378B8"/><stop offset="0.436" stop-color="#4591C9"/><stop offset="0.460" stop-color="#2FBEEC"/><stop offset="0.483" stop-color="#45C3E6"/><stop offset="0.500" stop-color="#5BC0DD"/><stop offset="0.518" stop-color="#6AC4CC"/><stop offset="0.542" stop-color="#6BBDAA"/><stop offset="0.566" stop-color="#65B97E"/><stop offset="0.589" stop-color="#5FB85A"/><stop offset="0.613" stop-color="#62B846"/><stop offset="0.660" stop-color="#69B842"/><stop offset="0.707" stop-color="#7ABB3E"/><stop offset="0.731" stop-color="#8ABE3B"/><stop offset="0.754" stop-color="#9CC338"/><stop offset="0.778" stop-color="#B2CC33"/><stop offset="0.801" stop-color="#CBD52C"/><stop offset="0.825" stop-color="#E4DE20"/><stop offset="0.841" stop-color="#F9E514"/><stop offset="0.856" stop-color="#FEE200"/><stop offset="0.872" stop-color="#FCC50F"/><stop offset="0.896" stop-color="#F8A81B"/><stop offset="0.919" stop-color="#F38B23"/><stop offset="0.943" stop-color="#EE6928"/><stop offset="0.966" stop-color="#EB4029"/><stop offset="0.990" stop-color="#EC2226"/><stop offset="1.000" stop-color="#ED2224"/></linearGradient>
</defs>
<rect x="237" y="31" width="607" height="360" fill="#aad4f3"/>
<rect x="844" y="30.5" width="581" height="359.5" fill="#fddbbe"/>
<line x1="241.5" y1="170" x2="1418" y2="170" stroke="#ed1c24" stroke-width="2.1" stroke-dasharray="11 7.7"/>
<line x1="498.5" y1="389" x2="498.5" y2="84" stroke="#000" stroke-width="3"/>
<path d="M498.5 68.7 L506.8 88.6 L498.5 83.5 L490.2 88.6Z" fill="#000"/>
<line x1="267" y1="264" x2="727" y2="264" stroke="#000" stroke-width="2.4"/>
<path d="M741.7 264 L722.3 272.2 L726.8 264 L722.3 255.8Z" fill="#000"/>
<path d="M350.8 144.1 Q498.5 341.9 647.2 144.1" fill="none" stroke="#2451a3" stroke-width="3"/>
<path d="M351.4 383.8 Q498.5 185.6 647.1 383.8" fill="none" stroke="#2451a3" stroke-width="3"/>
<circle cx="370.5" cy="168.4" r="10.6" fill="#00a651"/>
<circle cx="627.5" cy="168.4" r="10.6" fill="#00a651"/>
<line x1="1158.2" y1="390.4" x2="1158.2" y2="84" stroke="#000" stroke-width="1.9"/>
<path d="M1158.3 69.7 L1166.3 89 L1158.3 85 L1150.1 89.4Z" fill="#000"/>
<line x1="906" y1="263.9" x2="1355" y2="263.9" stroke="#000" stroke-width="1.9"/>
<path d="M1369 263.9 L1350.5 272 L1354.5 263.9 L1350.5 255.8Z" fill="#000"/>
<line x1="1109.3" y1="126.9" x2="1253.3" y2="389.4" stroke="#2451a3" stroke-width="3"/>
<line x1="1207.8" y1="126.9" x2="1060.6" y2="389.4" stroke="#2451a3" stroke-width="3"/>
<g font-family="Liberation Sans">
<text x="94" y="58.5" font-size="49" fill="#000">(a)</text>
<text x="326" y="96" font-size="59.5" fill="#111" stroke="#aad4f3" stroke-width="1.4" text-anchor="start" textLength="91" lengthAdjust="spacingAndGlyphs" >z&lt;0</text>
<text x="523" y="87" font-size="55" fill="#111" stroke="#aad4f3" stroke-width="1.4" text-anchor="start" textLength="146" lengthAdjust="spacingAndGlyphs" >Energy</text>
<text x="263.5" y="159.5" font-size="61" fill="#111" stroke="#aad4f3" stroke-width="1.4" text-anchor="start" textLength="26" lengthAdjust="spacingAndGlyphs" >E</text>
<text x="698" y="318.7" font-size="44" fill="#111" stroke="#aad4f3" stroke-width="1.4" text-anchor="start" >k</text>
<text x="722.5" y="326.5" font-size="38" fill="#222" stroke="#aad4f3" stroke-width="1.4" text-anchor="start" textLength="21" lengthAdjust="spacingAndGlyphs" >z</text>
<text x="966" y="96.4" font-size="59.5" fill="#111" stroke="#fddbbe" stroke-width="1.4" text-anchor="start" textLength="91" lengthAdjust="spacingAndGlyphs" >z&gt;0</text>
<text x="1183" y="87" font-size="55" fill="#111" stroke="#fddbbe" stroke-width="1.4" text-anchor="start" textLength="146" lengthAdjust="spacingAndGlyphs" >Energy</text>
<text x="917.3" y="159.5" font-size="61" fill="#111" stroke="#fddbbe" stroke-width="1.4" text-anchor="start" textLength="26" lengthAdjust="spacingAndGlyphs" >E</text>
<text x="1189.5" y="228.7" font-size="35" fill="#2a2520" stroke="#fddbbe" stroke-width="1.4" text-anchor="start" textLength="158" lengthAdjust="spacingAndGlyphs" >Weyl point</text>
<text x="1295" y="319" font-size="44" fill="#2a2520" stroke="#fddbbe" stroke-width="1.4" text-anchor="start" >k</text>
<text x="1317" y="326.5" font-size="38" fill="#3a3530" stroke="#fddbbe" stroke-width="1.4" text-anchor="start" textLength="21" lengthAdjust="spacingAndGlyphs" >z</text>
</g>
<g clip-path="url(#discb)"><g filter="url(#inferno)" shape-rendering="crispEdges"><path fill="#0e0e0e" d="M292 682h8v4h-8zM292 686h8v4h-8zM296 690h4v4h-4z"/><path fill="#0f0f0f" d="M292 678h8v4h-8zM300 686h4v4h-4zM292 690h4v4h-4zM300 690h4v4h-4zM296 694h4v4h-4z"/><path fill="#101010" d="M292 674h4v4h-4zM288 682h4v4h-4zM300 682h4v4h-4zM288 686h4v4h-4zM300 694h4v4h-4z"/><path fill="#111111" d="M292 670h4v4h-4zM296 674h4v4h-4zM288 678h4v4h-4zM300 678h4v4h-4zM304 690h4v4h-4zM292 694h4v4h-4zM296 698h8v4h-8z"/><path fill="#121212" d="M296 670h4v4h-4zM288 674h4v4h-4zM300 674h4v4h-4zM304 682h4v4h-4zM304 686h4v4h-4zM304 694h4v4h-4z"/><path fill="#131313" d="M292 666h8v4h-8zM288 670h4v4h-4zM300 670h4v4h-4zM304 678h4v4h-4zM288 690h4v4h-4zM304 698h4v4h-4zM300 702h4v4h-4z"/><path fill="#141414" d="M292 662h4v4h-4zM288 666h4v4h-4zM304 674h4v4h-4zM304 702h4v4h-4z"/><path fill="#151515" d="M288 662h4v4h-4zM296 662h4v4h-4zM300 666h4v4h-4zM304 670h4v4h-4zM308 682h4v4h-4zM308 686h4v4h-4zM308 690h4v4h-4zM308 694h4v4h-4zM292 698h4v4h-4zM308 698h4v4h-4zM296 702h4v4h-4z"/><path fill="#161616" d="M292 658h4v4h-4zM300 662h4v4h-4zM304 666h4v4h-4zM284 674h4v4h-4zM284 678h4v4h-4zM308 678h4v4h-4zM308 702h4v4h-4zM304 706h4v4h-4z"/><path fill="#171717" d="M288 658h4v4h-4zM296 658h4v4h-4zM284 666h4v4h-4zM284 670h4v4h-4zM308 674h4v4h-4zM284 682h4v4h-4zM300 706h4v4h-4z"/><path fill="#181818" d="M292 654h8v4h-8zM300 658h4v4h-4zM284 662h4v4h-4zM304 662h4v4h-4zM308 670h4v4h-4zM284 686h4v4h-4zM312 686h4v4h-4zM312 690h4v4h-4zM288 694h4v4h-4zM312 694h4v4h-4zM308 706h4v4h-4z"/><path fill="#191919" d="M288 654h4v4h-4zM300 654h4v4h-4zM304 658h4v4h-4zM308 662h4v4h-4zM308 666h4v4h-4zM312 678h4v4h-4zM312 682h4v4h-4zM312 698h4v4h-4zM312 702h4v4h-4z"/><path fill="#1a1a1a" d="M288 650h12v4h-12zM284 658h4v4h-4zM312 670h4v4h-4zM312 674h4v4h-4zM292 702h4v4h-4zM296 706h4v4h-4zM304 710h4v4h-4z"/><path fill="#1b1b1b" d="M300 650h4v4h-4zM284 654h4v4h-4zM304 654h4v4h-4zM308 658h4v4h-4zM312 662h4v4h-4zM312 666h4v4h-4zM312 706h4v4h-4zM300 710h4v4h-4zM308 710h4v4h-4z"/><path fill="#1c1c1c" d="M572 558h8v4h-8zM568 562h16v4h-16zM572 566h16v4h-16zM572 570h16v4h-16zM580 574h8v4h-8zM288 646h12v4h-12zM304 650h4v4h-4zM308 654h4v4h-4zM312 658h4v4h-4zM316 674h4v4h-4zM316 678h4v4h-4zM316 682h4v4h-4zM316 686h4v4h-4zM316 690h4v4h-4zM316 694h4v4h-4zM316 698h4v4h-4z"/><path fill="#1d1d1d" d="M568 554h16v4h-16zM564 558h8v4h-8zM580 558h8v4h-8zM564 562h4v4h-4zM584 562h4v4h-4zM564 566h8v4h-8zM588 566h4v4h-4zM564 570h8v4h-8zM588 570h4v4h-4zM568 574h12v4h-12zM588 574h8v4h-8zM572 578h20v4h-20zM580 582h8v4h-8zM292 642h8v4h-8zM300 646h8v4h-8zM284 650h4v4h-4zM308 650h4v4h-4zM316 662h4v4h-4zM316 666h4v4h-4zM316 670h4v4h-4zM284 690h4v4h-4zM316 702h4v4h-4zM312 710h4v4h-4z"/><path fill="#1e1e1e" d="M564 550h16v4h-16zM560 554h8v4h-8zM560 558h4v4h-4zM560 562h4v4h-4zM588 562h4v4h-4zM560 566h4v4h-4zM592 566h4v4h-4zM560 570h4v4h-4zM592 570h4v4h-4zM564 574h4v4h-4zM564 578h8v4h-8zM592 578h8v4h-8zM568 582h12v4h-12zM588 582h8v4h-8zM576 586h20v4h-20zM288 642h4v4h-4zM300 642h4v4h-4zM284 646h4v4h-4zM312 654h4v4h-4zM316 658h4v4h-4zM280 686h4v4h-4zM288 698h4v4h-4zM316 706h4v4h-4zM304 714h8v4h-8z"/><path fill="#1f1f1f" d="M564 546h12v4h-12zM560 550h4v4h-4zM580 550h4v4h-4zM556 554h4v4h-4zM584 554h4v4h-4zM556 558h4v4h-4zM588 558h4v4h-4zM556 562h4v4h-4zM592 562h4v4h-4zM556 566h4v4h-4zM556 570h4v4h-4zM596 570h4v4h-4zM556 574h8v4h-8zM596 574h4v4h-4zM560 578h4v4h-4zM564 582h4v4h-4zM596 582h4v4h-4zM568 586h8v4h-8zM596 586h4v4h-4zM572 590h28v4h-28zM580 594h16v4h-16zM608 626h8v4h-8zM608 630h12v4h-12zM608 634h16v4h-16zM292 638h12v4h-12zM608 638h16v4h-16zM304 642h4v4h-4zM608 642h16v4h-16zM308 646h4v4h-4zM612 646h8v4h-8zM312 650h4v4h-4zM316 654h4v4h-4zM280 662h4v4h-4zM320 662h4v4h-4zM280 666h4v4h-4zM320 666h4v4h-4zM280 670h4v4h-4zM320 670h4v4h-4zM280 674h4v4h-4zM320 674h4v4h-4zM280 678h4v4h-4zM320 678h4v4h-4zM280 682h4v4h-4zM320 682h4v4h-4zM320 686h4v4h-4zM320 690h4v4h-4zM320 694h4v4h-4zM320 698h4v4h-4zM316 710h4v4h-4zM312 714h4v4h-4z"/><path fill="#202020" d="M556 546h8v4h-8zM576 546h4v4h-4zM552 550h8v4h-8zM552 554h4v4h-4zM552 558h4v4h-4zM552 562h4v4h-4zM552 566h4v4h-4zM596 566h4v4h-4zM552 570h4v4h-4zM552 574h4v4h-4zM600 574h4v4h-4zM556 578h4v4h-4zM600 578h4v4h-4zM560 582h4v4h-4zM600 582h4v4h-4zM564 586h4v4h-4zM600 586h4v4h-4zM568 590h4v4h-4zM600 590h4v4h-4zM572 594h8v4h-8zM596 594h8v4h-8zM576 598h28v4h-28zM588 602h16v4h-16zM596 606h8v4h-8zM600 610h8v4h-8zM600 614h12v4h-12zM600 618h16v4h-16zM600 622h20v4h-20zM600 626h8v4h-8zM616 626h8v4h-8zM600 630h8v4h-8zM620 630h4v4h-4zM292 634h12v4h-12zM600 634h8v4h-8zM288 638h4v4h-4zM304 638h8v4h-8zM600 638h8v4h-8zM624 638h4v4h-4zM284 642h4v4h-4zM308 642h4v4h-4zM604 642h4v4h-4zM624 642h4v4h-4zM312 646h4v4h-4zM604 646h8v4h-8zM620 646h4v4h-4zM316 650h4v4h-4zM608 650h16v4h-16zM612 654h12v4h-12zM280 658h4v4h-4zM320 658h4v4h-4zM320 702h4v4h-4zM296 710h4v4h-4z"/><path fill="#212121" d="M556 542h16v4h-16zM552 546h4v4h-4zM580 546h4v4h-4zM548 550h4v4h-4zM584 550h4v4h-4zM548 554h4v4h-4zM588 554h4v4h-4zM548 558h4v4h-4zM592 558h4v4h-4zM548 562h4v4h-4zM548 566h4v4h-4zM548 570h4v4h-4zM548 574h4v4h-4zM552 578h4v4h-4zM556 582h4v4h-4zM604 582h4v4h-4zM556 586h8v4h-8zM604 586h4v4h-4zM560 590h8v4h-8zM604 590h4v4h-4zM564 594h8v4h-8zM604 594h4v4h-4zM572 598h4v4h-4zM604 598h4v4h-4zM576 602h12v4h-12zM604 602h8v4h-8zM580 606h16v4h-16zM604 606h8v4h-8zM584 610h16v4h-16zM608 610h8v4h-8zM588 614h12v4h-12zM612 614h8v4h-8zM592 618h8v4h-8zM616 618h4v4h-4zM592 622h8v4h-8zM620 622h4v4h-4zM596 626h4v4h-4zM292 630h16v4h-16zM596 630h4v4h-4zM624 630h4v4h-4zM288 634h4v4h-4zM304 634h8v4h-8zM596 634h4v4h-4zM624 634h4v4h-4zM312 638h4v4h-4zM596 638h4v4h-4zM312 642h4v4h-4zM596 642h8v4h-8zM316 646h4v4h-4zM600 646h4v4h-4zM624 646h4v4h-4zM280 650h4v4h-4zM320 650h4v4h-4zM600 650h8v4h-8zM624 650h4v4h-4zM280 654h4v4h-4zM320 654h4v4h-4zM604 654h8v4h-8zM624 654h4v4h-4zM608 658h16v4h-16zM324 662h4v4h-4zM324 666h4v4h-4zM324 670h4v4h-4zM320 706h4v4h-4zM300 714h4v4h-4z"/><path fill="#222222" d="M548 542h8v4h-8zM572 542h4v4h-4zM548 546h4v4h-4zM544 550h4v4h-4zM544 554h4v4h-4zM544 558h4v4h-4zM544 562h4v4h-4zM596 562h4v4h-4zM544 566h4v4h-4zM544 570h4v4h-4zM600 570h4v4h-4zM548 578h4v4h-4zM604 578h4v4h-4zM552 582h4v4h-4zM556 590h4v4h-4zM608 590h4v4h-4zM560 594h4v4h-4zM608 594h4v4h-4zM564 598h8v4h-8zM608 598h4v4h-4zM568 602h8v4h-8zM612 602h4v4h-4zM572 606h8v4h-8zM612 606h4v4h-4zM576 610h8v4h-8zM616 610h4v4h-4zM580 614h8v4h-8zM584 618h8v4h-8zM620 618h4v4h-4zM588 622h4v4h-4zM292 626h16v4h-16zM588 626h8v4h-8zM624 626h4v4h-4zM308 630h4v4h-4zM588 630h8v4h-8zM312 634h4v4h-4zM588 634h8v4h-8zM284 638h4v4h-4zM316 638h4v4h-4zM592 638h4v4h-4zM316 642h4v4h-4zM592 642h4v4h-4zM280 646h4v4h-4zM320 646h4v4h-4zM592 646h8v4h-8zM596 650h4v4h-4zM324 654h4v4h-4zM596 654h8v4h-8zM324 658h4v4h-4zM600 658h8v4h-8zM624 658h4v4h-4zM604 662h20v4h-20zM324 674h4v4h-4zM324 678h4v4h-4zM324 682h4v4h-4zM324 686h4v4h-4zM280 690h4v4h-4zM324 690h4v4h-4zM324 694h4v4h-4zM292 706h4v4h-4zM320 710h4v4h-4zM316 714h4v4h-4z"/><path fill="#232323" d="M548 538h20v4h-20zM544 542h4v4h-4zM576 542h4v4h-4zM540 546h8v4h-8zM540 550h4v4h-4zM540 554h4v4h-4zM540 558h4v4h-4zM540 562h4v4h-4zM540 566h4v4h-4zM600 566h4v4h-4zM544 574h4v4h-4zM604 574h4v4h-4zM544 578h4v4h-4zM548 582h4v4h-4zM552 586h4v4h-4zM608 586h4v4h-4zM560 598h4v4h-4zM612 598h4v4h-4zM564 602h4v4h-4zM568 606h4v4h-4zM616 606h4v4h-4zM572 610h4v4h-4zM576 614h4v4h-4zM620 614h4v4h-4zM300 618h8v4h-8zM576 618h8v4h-8zM296 622h16v4h-16zM580 622h8v4h-8zM624 622h4v4h-4zM308 626h8v4h-8zM580 626h8v4h-8zM288 630h4v4h-4zM312 630h8v4h-8zM584 630h4v4h-4zM316 634h8v4h-8zM584 634h4v4h-4zM320 638h4v4h-4zM584 638h8v4h-8zM628 638h4v4h-4zM280 642h4v4h-4zM320 642h4v4h-4zM588 642h4v4h-4zM628 642h4v4h-4zM324 646h4v4h-4zM588 646h4v4h-4zM628 646h4v4h-4zM324 650h4v4h-4zM588 650h8v4h-8zM628 650h4v4h-4zM592 654h4v4h-4zM628 654h4v4h-4zM328 658h4v4h-4zM592 658h8v4h-8zM328 662h4v4h-4zM596 662h8v4h-8zM624 662h4v4h-4zM328 666h4v4h-4zM604 666h20v4h-20zM324 698h4v4h-4zM324 702h4v4h-4zM308 718h8v4h-8z"/><path fill="#242424" d="M540 538h8v4h-8zM568 538h4v4h-4zM536 542h8v4h-8zM536 546h4v4h-4zM584 546h4v4h-4zM536 550h4v4h-4zM588 550h4v4h-4zM536 554h4v4h-4zM592 554h4v4h-4zM536 558h4v4h-4zM536 562h4v4h-4zM536 566h4v4h-4zM540 570h4v4h-4zM540 574h4v4h-4zM544 582h4v4h-4zM608 582h4v4h-4zM548 586h4v4h-4zM552 590h4v4h-4zM556 594h4v4h-4zM612 594h4v4h-4zM560 602h4v4h-4zM616 602h4v4h-4zM564 606h4v4h-4zM304 610h8v4h-8zM568 610h4v4h-4zM620 610h4v4h-4zM296 614h20v4h-20zM572 614h4v4h-4zM296 618h4v4h-4zM308 618h12v4h-12zM572 618h4v4h-4zM292 622h4v4h-4zM312 622h12v4h-12zM576 622h4v4h-4zM288 626h4v4h-4zM316 626h8v4h-8zM576 626h4v4h-4zM320 630h4v4h-4zM580 630h4v4h-4zM284 634h4v4h-4zM324 634h4v4h-4zM580 634h4v4h-4zM628 634h4v4h-4zM324 638h4v4h-4zM580 638h4v4h-4zM324 642h4v4h-4zM580 642h8v4h-8zM584 646h4v4h-4zM328 650h4v4h-4zM584 650h4v4h-4zM328 654h4v4h-4zM584 654h8v4h-8zM588 658h4v4h-4zM628 658h4v4h-4zM588 662h8v4h-8zM592 666h12v4h-12zM624 666h4v4h-4zM328 670h4v4h-4zM600 670h24v4h-24zM328 674h4v4h-4zM328 678h4v4h-4zM328 682h4v4h-4zM328 686h4v4h-4zM324 706h4v4h-4zM320 714h4v4h-4zM304 718h4v4h-4zM316 718h4v4h-4z"/><path fill="#252525" d="M540 534h24v4h-24zM532 538h8v4h-8zM572 538h4v4h-4zM532 542h4v4h-4zM580 542h4v4h-4zM528 546h8v4h-8zM528 550h8v4h-8zM528 554h8v4h-8zM532 558h4v4h-4zM596 558h4v4h-4zM532 562h4v4h-4zM536 570h4v4h-4zM604 570h4v4h-4zM540 578h4v4h-4zM608 578h4v4h-4zM612 590h4v4h-4zM552 594h4v4h-4zM308 598h8v4h-8zM556 598h4v4h-4zM616 598h4v4h-4zM304 602h20v4h-20zM300 606h24v4h-24zM296 610h8v4h-8zM312 610h16v4h-16zM564 610h4v4h-4zM316 614h12v4h-12zM568 614h4v4h-4zM292 618h4v4h-4zM320 618h8v4h-8zM568 618h4v4h-4zM624 618h4v4h-4zM324 622h4v4h-4zM572 622h4v4h-4zM324 626h4v4h-4zM572 626h4v4h-4zM324 630h8v4h-8zM576 630h4v4h-4zM628 630h4v4h-4zM328 634h4v4h-4zM576 634h4v4h-4zM280 638h4v4h-4zM328 638h4v4h-4zM576 638h4v4h-4zM328 642h4v4h-4zM328 646h4v4h-4zM580 646h4v4h-4zM580 650h4v4h-4zM580 654h4v4h-4zM332 658h4v4h-4zM580 658h8v4h-8zM332 662h4v4h-4zM584 662h4v4h-4zM628 662h4v4h-4zM332 666h4v4h-4zM588 666h4v4h-4zM592 670h8v4h-8zM600 674h20v4h-20zM328 690h4v4h-4zM284 694h4v4h-4zM328 694h4v4h-4zM328 698h4v4h-4zM324 710h4v4h-4z"/><path fill="#262626" d="M544 530h8v4h-8zM532 534h8v4h-8zM564 534h4v4h-4zM524 538h8v4h-8zM524 542h8v4h-8zM524 546h4v4h-4zM524 550h4v4h-4zM524 554h4v4h-4zM528 558h4v4h-4zM528 562h4v4h-4zM600 562h4v4h-4zM532 566h4v4h-4zM536 574h4v4h-4zM544 586h4v4h-4zM612 586h4v4h-4zM312 590h20v4h-20zM548 590h4v4h-4zM304 594h28v4h-28zM304 598h4v4h-4zM316 598h16v4h-16zM300 602h4v4h-4zM324 602h8v4h-8zM556 602h4v4h-4zM296 606h4v4h-4zM324 606h12v4h-12zM560 606h4v4h-4zM620 606h4v4h-4zM328 610h8v4h-8zM292 614h4v4h-4zM328 614h8v4h-8zM564 614h4v4h-4zM624 614h4v4h-4zM328 618h8v4h-8zM288 622h4v4h-4zM328 622h8v4h-8zM568 622h4v4h-4zM328 626h8v4h-8zM628 626h4v4h-4zM284 630h4v4h-4zM332 630h4v4h-4zM572 630h4v4h-4zM280 634h4v4h-4zM332 634h4v4h-4zM572 634h4v4h-4zM332 638h4v4h-4zM332 642h4v4h-4zM576 642h4v4h-4zM332 646h4v4h-4zM576 646h4v4h-4zM332 650h4v4h-4zM576 650h4v4h-4zM332 654h4v4h-4zM576 654h4v4h-4zM576 658h4v4h-4zM580 662h4v4h-4zM580 666h8v4h-8zM628 666h4v4h-4zM332 670h4v4h-4zM584 670h8v4h-8zM624 670h4v4h-4zM332 674h4v4h-4zM588 674h12v4h-12zM620 674h4v4h-4zM332 678h4v4h-4zM596 678h24v4h-24zM288 702h4v4h-4zM328 702h4v4h-4zM328 706h4v4h-4zM324 714h4v4h-4zM320 718h4v4h-4z"/><path fill="#272727" d="M528 530h16v4h-16zM552 530h8v4h-8zM520 534h12v4h-12zM568 534h4v4h-4zM516 538h8v4h-8zM576 538h4v4h-4zM516 542h8v4h-8zM516 546h8v4h-8zM520 550h4v4h-4zM520 554h4v4h-4zM524 558h4v4h-4zM528 566h4v4h-4zM532 570h4v4h-4zM328 578h12v4h-12zM536 578h4v4h-4zM320 582h24v4h-24zM540 582h4v4h-4zM316 586h28v4h-28zM308 590h4v4h-4zM332 590h12v4h-12zM332 594h12v4h-12zM548 594h4v4h-4zM616 594h4v4h-4zM300 598h4v4h-4zM332 598h8v4h-8zM552 598h4v4h-4zM296 602h4v4h-4zM332 602h8v4h-8zM336 606h4v4h-4zM292 610h4v4h-4zM336 610h4v4h-4zM560 610h4v4h-4zM336 614h4v4h-4zM288 618h4v4h-4zM336 618h4v4h-4zM564 618h4v4h-4zM336 622h4v4h-4zM568 626h4v4h-4zM572 638h4v4h-4zM572 642h4v4h-4zM632 642h4v4h-4zM572 646h4v4h-4zM632 646h4v4h-4zM632 650h4v4h-4zM632 654h4v4h-4zM336 658h4v4h-4zM336 662h4v4h-4zM576 662h4v4h-4zM576 666h4v4h-4zM580 670h4v4h-4zM584 674h4v4h-4zM624 674h4v4h-4zM588 678h8v4h-8zM620 678h4v4h-4zM332 682h4v4h-4zM592 682h28v4h-28zM332 686h4v4h-4zM604 686h8v4h-8zM332 690h4v4h-4zM332 694h4v4h-4zM328 710h4v4h-4z"/><path fill="#282828" d="M524 526h20v4h-20zM512 530h16v4h-16zM560 530h4v4h-4zM508 534h12v4h-12zM508 538h8v4h-8zM508 542h8v4h-8zM512 546h4v4h-4zM588 546h4v4h-4zM512 550h8v4h-8zM592 550h4v4h-4zM516 554h4v4h-4zM520 558h4v4h-4zM524 562h4v4h-4zM344 566h8v4h-8zM604 566h4v4h-4zM332 570h20v4h-20zM528 570h4v4h-4zM328 574h24v4h-24zM532 574h4v4h-4zM608 574h4v4h-4zM320 578h8v4h-8zM340 578h12v4h-12zM316 582h4v4h-4zM344 582h8v4h-8zM612 582h4v4h-4zM312 586h4v4h-4zM344 586h8v4h-8zM540 586h4v4h-4zM304 590h4v4h-4zM344 590h4v4h-4zM544 590h4v4h-4zM300 594h4v4h-4zM344 594h4v4h-4zM340 598h8v4h-8zM340 602h4v4h-4zM620 602h4v4h-4zM340 606h4v4h-4zM556 606h4v4h-4zM340 610h4v4h-4zM624 610h4v4h-4zM340 614h4v4h-4zM560 614h4v4h-4zM340 618h4v4h-4zM564 622h4v4h-4zM628 622h4v4h-4zM284 626h4v4h-4zM336 626h4v4h-4zM280 630h4v4h-4zM336 630h4v4h-4zM568 630h4v4h-4zM336 634h4v4h-4zM568 634h4v4h-4zM336 638h4v4h-4zM632 638h4v4h-4zM336 642h4v4h-4zM336 646h4v4h-4zM336 650h4v4h-4zM572 650h4v4h-4zM336 654h4v4h-4zM572 654h4v4h-4zM572 658h4v4h-4zM632 658h4v4h-4zM572 662h4v4h-4zM632 662h4v4h-4zM336 666h4v4h-4zM336 670h4v4h-4zM576 670h4v4h-4zM628 670h4v4h-4zM336 674h4v4h-4zM580 674h4v4h-4zM580 678h8v4h-8zM624 678h4v4h-4zM584 682h8v4h-8zM620 682h4v4h-4zM588 686h16v4h-16zM612 686h8v4h-8zM596 690h16v4h-16zM332 698h4v4h-4zM332 702h4v4h-4zM328 714h4v4h-4zM324 718h4v4h-4zM312 722h8v4h-8z"/><path fill="#292929" d="M508 526h16v4h-16zM544 526h8v4h-8zM500 530h12v4h-12zM500 534h8v4h-8zM500 538h8v4h-8zM500 542h8v4h-8zM584 542h4v4h-4zM504 546h8v4h-8zM508 550h4v4h-4zM512 554h4v4h-4zM596 554h4v4h-4zM348 558h16v4h-16zM516 558h4v4h-4zM340 562h24v4h-24zM520 562h4v4h-4zM336 566h8v4h-8zM352 566h12v4h-12zM524 566h4v4h-4zM328 570h4v4h-4zM352 570h12v4h-12zM324 574h4v4h-4zM352 574h8v4h-8zM352 578h8v4h-8zM312 582h4v4h-4zM352 582h4v4h-4zM536 582h4v4h-4zM308 586h4v4h-4zM352 586h4v4h-4zM300 590h4v4h-4zM348 590h8v4h-8zM616 590h4v4h-4zM348 594h4v4h-4zM296 598h4v4h-4zM348 598h4v4h-4zM344 602h4v4h-4zM552 602h4v4h-4zM292 606h4v4h-4zM344 606h4v4h-4zM344 610h4v4h-4zM288 614h4v4h-4zM284 622h4v4h-4zM340 622h4v4h-4zM280 626h4v4h-4zM340 626h4v4h-4zM564 626h4v4h-4zM340 630h4v4h-4zM632 634h4v4h-4zM568 638h4v4h-4zM568 642h4v4h-4zM572 666h4v4h-4zM572 670h4v4h-4zM576 674h4v4h-4zM628 674h4v4h-4zM336 678h4v4h-4zM576 678h4v4h-4zM336 682h4v4h-4zM580 682h4v4h-4zM336 686h4v4h-4zM580 686h8v4h-8zM620 686h4v4h-4zM336 690h4v4h-4zM584 690h12v4h-12zM612 690h8v4h-8zM280 694h4v4h-4zM588 694h28v4h-28zM596 698h12v4h-12zM332 706h4v4h-4zM332 710h4v4h-4zM296 714h4v4h-4zM300 718h4v4h-4zM308 722h4v4h-4zM320 722h4v4h-4z"/><path fill="#2a2a2a" d="M504 522h36v4h-36zM492 526h16v4h-16zM552 526h4v4h-4zM488 530h12v4h-12zM564 530h4v4h-4zM488 534h12v4h-12zM572 534h4v4h-4zM488 538h12v4h-12zM376 542h20v4h-20zM492 542h8v4h-8zM364 546h28v4h-28zM500 546h4v4h-4zM356 550h32v4h-32zM504 550h4v4h-4zM348 554h36v4h-36zM508 554h4v4h-4zM344 558h4v4h-4zM364 558h16v4h-16zM512 558h4v4h-4zM336 562h4v4h-4zM364 562h12v4h-12zM332 566h4v4h-4zM364 566h8v4h-8zM324 570h4v4h-4zM364 570h4v4h-4zM320 574h4v4h-4zM360 574h8v4h-8zM316 578h4v4h-4zM360 578h4v4h-4zM532 578h4v4h-4zM356 582h8v4h-8zM356 586h4v4h-4zM352 594h4v4h-4zM544 594h4v4h-4zM352 598h4v4h-4zM548 598h4v4h-4zM620 598h4v4h-4zM348 602h4v4h-4zM348 606h4v4h-4zM556 610h4v4h-4zM344 614h4v4h-4zM344 618h4v4h-4zM560 618h4v4h-4zM628 618h4v4h-4zM280 622h4v4h-4zM344 622h4v4h-4zM564 630h4v4h-4zM632 630h4v4h-4zM340 634h4v4h-4zM340 638h4v4h-4zM340 642h4v4h-4zM340 646h4v4h-4zM568 646h4v4h-4zM340 650h4v4h-4zM568 650h4v4h-4zM340 654h4v4h-4zM568 654h4v4h-4zM340 658h4v4h-4zM568 658h4v4h-4zM340 662h4v4h-4zM568 662h4v4h-4zM340 666h4v4h-4zM632 666h4v4h-4zM572 674h4v4h-4zM576 682h4v4h-4zM624 682h4v4h-4zM576 686h4v4h-4zM580 690h4v4h-4zM620 690h4v4h-4zM336 694h4v4h-4zM580 694h8v4h-8zM616 694h4v4h-4zM336 698h4v4h-4zM584 698h12v4h-12zM608 698h8v4h-8zM336 702h4v4h-4zM588 702h24v4h-24zM332 714h4v4h-4zM328 718h4v4h-4zM324 722h4v4h-4z"/><path fill="#2b2b2b" d="M484 522h20v4h-20zM540 522h4v4h-4zM480 526h12v4h-12zM556 526h4v4h-4zM400 530h44v4h-44zM476 530h12v4h-12zM388 534h52v4h-52zM476 534h12v4h-12zM376 538h52v4h-52zM480 538h8v4h-8zM580 538h4v4h-4zM368 542h8v4h-8zM396 542h20v4h-20zM484 542h8v4h-8zM360 546h4v4h-4zM392 546h16v4h-16zM492 546h8v4h-8zM352 550h4v4h-4zM388 550h12v4h-12zM500 550h4v4h-4zM344 554h4v4h-4zM384 554h8v4h-8zM504 554h4v4h-4zM340 558h4v4h-4zM380 558h8v4h-8zM600 558h4v4h-4zM332 562h4v4h-4zM376 562h8v4h-8zM516 562h4v4h-4zM328 566h4v4h-4zM372 566h4v4h-4zM520 566h4v4h-4zM368 570h4v4h-4zM524 570h4v4h-4zM608 570h4v4h-4zM368 574h4v4h-4zM528 574h4v4h-4zM364 578h4v4h-4zM612 578h4v4h-4zM304 586h4v4h-4zM360 586h4v4h-4zM616 586h4v4h-4zM356 590h4v4h-4zM540 590h4v4h-4zM296 594h4v4h-4zM356 594h4v4h-4zM292 602h4v4h-4zM352 602h4v4h-4zM552 606h4v4h-4zM624 606h4v4h-4zM288 610h4v4h-4zM348 610h4v4h-4zM280 614h4v4h-4zM348 614h4v4h-4zM280 618h8v4h-8zM560 622h4v4h-4zM344 626h4v4h-4zM344 630h4v4h-4zM564 634h4v4h-4zM568 666h4v4h-4zM340 670h4v4h-4zM340 674h4v4h-4zM340 678h4v4h-4zM572 678h4v4h-4zM628 678h4v4h-4zM340 682h4v4h-4zM572 682h4v4h-4zM572 686h4v4h-4zM624 686h4v4h-4zM576 690h4v4h-4zM576 694h4v4h-4zM620 694h4v4h-4zM576 698h8v4h-8zM616 698h4v4h-4zM580 702h8v4h-8zM612 702h4v4h-4zM336 706h4v4h-4zM580 706h32v4h-32zM292 710h4v4h-4zM336 710h4v4h-4zM588 710h20v4h-20z"/><path fill="#2c2c2c" d="M484 518h48v4h-48zM420 522h40v4h-40zM472 522h12v4h-12zM544 522h4v4h-4zM400 526h80v4h-80zM388 530h12v4h-12zM444 530h32v4h-32zM376 534h12v4h-12zM440 534h36v4h-36zM368 538h8v4h-8zM428 538h52v4h-52zM360 542h8v4h-8zM416 542h16v4h-16zM476 542h8v4h-8zM356 546h4v4h-4zM408 546h12v4h-12zM484 546h8v4h-8zM348 550h4v4h-4zM400 550h8v4h-8zM496 550h4v4h-4zM340 554h4v4h-4zM392 554h8v4h-8zM500 554h4v4h-4zM336 558h4v4h-4zM388 558h8v4h-8zM508 558h4v4h-4zM384 562h4v4h-4zM512 562h4v4h-4zM376 566h8v4h-8zM372 570h4v4h-4zM316 574h4v4h-4zM372 574h4v4h-4zM312 578h4v4h-4zM368 578h4v4h-4zM308 582h4v4h-4zM364 582h4v4h-4zM536 586h4v4h-4zM360 590h4v4h-4zM620 594h4v4h-4zM356 598h4v4h-4zM548 602h4v4h-4zM352 606h4v4h-4zM280 610h8v4h-8zM284 614h4v4h-4zM556 614h4v4h-4zM628 614h4v4h-4zM348 618h4v4h-4zM632 626h4v4h-4zM344 634h4v4h-4zM344 638h4v4h-4zM564 638h4v4h-4zM568 670h4v4h-4zM632 670h4v4h-4zM568 674h4v4h-4zM628 682h4v4h-4zM340 686h4v4h-4zM340 690h4v4h-4zM572 690h4v4h-4zM624 690h4v4h-4zM340 694h4v4h-4zM572 694h4v4h-4zM284 698h4v4h-4zM340 698h4v4h-4zM572 698h4v4h-4zM340 702h4v4h-4zM576 702h4v4h-4zM616 702h4v4h-4zM576 706h4v4h-4zM612 706h4v4h-4zM576 710h12v4h-12zM608 710h4v4h-4zM336 714h4v4h-4zM580 714h28v4h-28zM332 718h4v4h-4zM584 718h16v4h-16zM304 722h4v4h-4zM328 722h4v4h-4zM316 726h4v4h-4z"/><path fill="#2d2d2d" d="M500 514h4v4h-4zM424 518h36v4h-36zM472 518h12v4h-12zM532 518h4v4h-4zM404 522h16v4h-16zM460 522h12v4h-12zM548 522h4v4h-4zM392 526h8v4h-8zM560 526h4v4h-4zM384 530h4v4h-4zM568 530h4v4h-4zM372 534h4v4h-4zM364 538h4v4h-4zM432 542h44v4h-44zM352 546h4v4h-4zM420 546h8v4h-8zM480 546h4v4h-4zM344 550h4v4h-4zM408 550h8v4h-8zM488 550h8v4h-8zM400 554h8v4h-8zM396 558h4v4h-4zM504 558h4v4h-4zM328 562h4v4h-4zM388 562h4v4h-4zM604 562h4v4h-4zM324 566h4v4h-4zM384 566h4v4h-4zM516 566h4v4h-4zM320 570h4v4h-4zM376 570h4v4h-4zM520 570h4v4h-4zM372 578h4v4h-4zM528 578h4v4h-4zM368 582h4v4h-4zM532 582h4v4h-4zM364 586h4v4h-4zM296 590h4v4h-4zM360 594h4v4h-4zM292 598h4v4h-4zM280 602h4v4h-4zM356 602h4v4h-4zM624 602h4v4h-4zM280 606h12v4h-12zM352 610h4v4h-4zM348 622h4v4h-4zM348 626h4v4h-4zM560 626h4v4h-4zM344 642h4v4h-4zM564 642h4v4h-4zM344 646h4v4h-4zM564 646h4v4h-4zM344 650h4v4h-4zM344 654h4v4h-4zM344 658h4v4h-4zM344 662h4v4h-4zM632 674h4v4h-4zM568 678h4v4h-4zM568 682h4v4h-4zM544 686h4v4h-4zM568 686h4v4h-4zM568 690h4v4h-4zM540 694h4v4h-4zM540 698h4v4h-4zM620 698h4v4h-4zM536 702h4v4h-4zM572 702h4v4h-4zM340 706h4v4h-4zM532 706h4v4h-4zM572 706h4v4h-4zM616 706h4v4h-4zM340 710h4v4h-4zM532 710h4v4h-4zM572 710h4v4h-4zM612 710h4v4h-4zM528 714h4v4h-4zM572 714h8v4h-8zM608 714h4v4h-4zM336 718h4v4h-4zM524 718h4v4h-4zM576 718h8v4h-8zM600 718h8v4h-8zM332 722h4v4h-4zM520 722h4v4h-4zM576 722h28v4h-28zM312 726h4v4h-4zM320 726h8v4h-8zM516 726h4v4h-4zM584 726h12v4h-12zM508 730h4v4h-4zM504 734h4v4h-4z"/><path fill="#2e2e2e" d="M480 514h20v4h-20zM504 514h16v4h-16zM412 518h12v4h-12zM460 518h12v4h-12zM536 518h4v4h-4zM400 522h4v4h-4zM388 526h4v4h-4zM380 530h4v4h-4zM368 534h4v4h-4zM576 534h4v4h-4zM356 542h4v4h-4zM348 546h4v4h-4zM428 546h12v4h-12zM472 546h8v4h-8zM416 550h8v4h-8zM484 550h4v4h-4zM408 554h4v4h-4zM496 554h4v4h-4zM332 558h4v4h-4zM400 558h4v4h-4zM392 562h4v4h-4zM508 562h4v4h-4zM388 566h4v4h-4zM380 570h4v4h-4zM376 574h4v4h-4zM524 574h4v4h-4zM368 586h4v4h-4zM364 590h4v4h-4zM284 598h8v4h-8zM360 598h4v4h-4zM544 598h4v4h-4zM284 602h8v4h-8zM356 606h4v4h-4zM552 610h4v4h-4zM352 614h4v4h-4zM556 618h4v4h-4zM348 630h4v4h-4zM560 630h4v4h-4zM564 650h4v4h-4zM636 650h4v4h-4zM564 654h4v4h-4zM636 654h4v4h-4zM548 658h4v4h-4zM564 658h4v4h-4zM636 658h4v4h-4zM548 662h4v4h-4zM564 662h4v4h-4zM344 666h4v4h-4zM548 666h4v4h-4zM344 670h4v4h-4zM548 670h4v4h-4zM344 674h4v4h-4zM544 674h8v4h-8zM344 678h4v4h-4zM544 678h4v4h-4zM344 682h4v4h-4zM540 682h8v4h-8zM540 686h4v4h-4zM628 686h4v4h-4zM536 690h8v4h-8zM536 694h4v4h-4zM568 694h4v4h-4zM624 694h4v4h-4zM532 698h8v4h-8zM568 698h4v4h-4zM532 702h4v4h-4zM568 702h4v4h-4zM620 702h4v4h-4zM528 706h4v4h-4zM568 706h4v4h-4zM524 710h8v4h-8zM568 710h4v4h-4zM340 714h4v4h-4zM520 714h8v4h-8zM568 714h4v4h-4zM612 714h4v4h-4zM340 718h4v4h-4zM516 718h8v4h-8zM568 718h8v4h-8zM608 718h4v4h-4zM336 722h4v4h-4zM512 722h8v4h-8zM572 722h4v4h-4zM604 722h4v4h-4zM328 726h4v4h-4zM508 726h8v4h-8zM572 726h12v4h-12zM596 726h8v4h-8zM500 730h8v4h-8zM576 730h24v4h-24zM496 734h8v4h-8zM584 734h4v4h-4zM488 738h8v4h-8zM480 742h4v4h-4z"/><path fill="#2f2f2f" d="M424 514h56v4h-56zM520 514h8v4h-8zM408 518h4v4h-4zM540 518h4v4h-4zM396 522h4v4h-4zM552 522h4v4h-4zM384 526h4v4h-4zM376 530h4v4h-4zM360 538h4v4h-4zM352 542h4v4h-4zM588 542h4v4h-4zM440 546h32v4h-32zM592 546h4v4h-4zM424 550h8v4h-8zM480 550h4v4h-4zM336 554h4v4h-4zM412 554h4v4h-4zM492 554h4v4h-4zM404 558h4v4h-4zM500 558h4v4h-4zM396 562h4v4h-4zM384 570h4v4h-4zM380 574h4v4h-4zM612 574h4v4h-4zM376 578h4v4h-4zM372 582h4v4h-4zM616 582h4v4h-4zM300 586h4v4h-4zM284 590h12v4h-12zM284 594h12v4h-12zM364 594h4v4h-4zM540 594h4v4h-4zM360 602h4v4h-4zM356 610h4v4h-4zM628 610h4v4h-4zM352 618h4v4h-4zM632 622h4v4h-4zM348 634h4v4h-4zM636 642h4v4h-4zM548 646h4v4h-4zM636 646h4v4h-4zM548 650h4v4h-4zM548 654h4v4h-4zM544 658h4v4h-4zM544 662h4v4h-4zM636 662h4v4h-4zM544 666h4v4h-4zM564 666h4v4h-4zM544 670h4v4h-4zM564 670h4v4h-4zM540 674h4v4h-4zM540 678h4v4h-4zM632 678h4v4h-4zM536 682h4v4h-4zM344 686h4v4h-4zM536 686h4v4h-4zM344 690h4v4h-4zM532 690h4v4h-4zM344 694h4v4h-4zM532 694h4v4h-4zM280 698h4v4h-4zM344 698h4v4h-4zM528 698h4v4h-4zM624 698h4v4h-4zM344 702h4v4h-4zM524 702h8v4h-8zM344 706h4v4h-4zM520 706h8v4h-8zM344 710h4v4h-4zM520 710h4v4h-4zM564 710h4v4h-4zM616 710h4v4h-4zM344 714h4v4h-4zM516 714h4v4h-4zM564 714h4v4h-4zM512 718h4v4h-4zM564 718h4v4h-4zM612 718h4v4h-4zM340 722h4v4h-4zM504 722h8v4h-8zM564 722h8v4h-8zM608 722h4v4h-4zM332 726h4v4h-4zM500 726h8v4h-8zM564 726h8v4h-8zM604 726h4v4h-4zM492 730h8v4h-8zM568 730h8v4h-8zM600 730h4v4h-4zM488 734h8v4h-8zM568 734h16v4h-16zM588 734h12v4h-12zM480 738h8v4h-8zM572 738h20v4h-20zM468 742h12v4h-12z"/><path fill="#303030" d="M484 510h24v4h-24zM416 514h8v4h-8zM528 514h4v4h-4zM404 518h4v4h-4zM392 522h4v4h-4zM380 526h4v4h-4zM372 530h4v4h-4zM364 534h4v4h-4zM340 550h4v4h-4zM432 550h4v4h-4zM476 550h4v4h-4zM596 550h4v4h-4zM416 554h4v4h-4zM488 554h4v4h-4zM408 558h4v4h-4zM400 562h4v4h-4zM392 566h4v4h-4zM512 566h4v4h-4zM608 566h4v4h-4zM316 570h4v4h-4zM312 574h4v4h-4zM308 578h4v4h-4zM304 582h4v4h-4zM288 586h4v4h-4zM368 590h4v4h-4zM536 590h4v4h-4zM620 590h4v4h-4zM548 606h4v4h-4zM352 622h4v4h-4zM556 622h4v4h-4zM544 634h4v4h-4zM560 634h4v4h-4zM348 638h4v4h-4zM544 638h4v4h-4zM348 642h4v4h-4zM544 642h4v4h-4zM544 646h4v4h-4zM544 650h4v4h-4zM544 654h4v4h-4zM540 658h4v4h-4zM540 662h4v4h-4zM540 666h4v4h-4zM540 670h4v4h-4zM536 674h4v4h-4zM564 674h4v4h-4zM536 678h4v4h-4zM564 678h4v4h-4zM532 682h4v4h-4zM564 682h4v4h-4zM532 686h4v4h-4zM564 686h4v4h-4zM528 690h4v4h-4zM564 690h4v4h-4zM628 690h4v4h-4zM528 694h4v4h-4zM564 694h4v4h-4zM524 698h4v4h-4zM564 698h4v4h-4zM520 702h4v4h-4zM564 702h4v4h-4zM516 706h4v4h-4zM564 706h4v4h-4zM620 706h4v4h-4zM512 710h8v4h-8zM508 714h8v4h-8zM616 714h4v4h-4zM344 718h4v4h-4zM504 718h8v4h-8zM500 722h4v4h-4zM308 726h4v4h-4zM336 726h8v4h-8zM492 726h8v4h-8zM560 726h4v4h-4zM488 730h4v4h-4zM560 730h8v4h-8zM604 730h4v4h-4zM480 734h8v4h-8zM564 734h4v4h-4zM600 734h4v4h-4zM468 738h12v4h-12zM564 738h8v4h-8zM592 738h4v4h-4zM452 742h16v4h-16zM564 742h28v4h-28zM572 746h12v4h-12z"/><path fill="#313131" d="M436 510h28v4h-28zM472 510h12v4h-12zM508 510h8v4h-8zM412 514h4v4h-4zM532 514h4v4h-4zM400 518h4v4h-4zM544 518h4v4h-4zM388 522h4v4h-4zM556 522h4v4h-4zM564 526h4v4h-4zM572 530h4v4h-4zM356 538h4v4h-4zM584 538h4v4h-4zM344 546h4v4h-4zM436 550h12v4h-12zM468 550h8v4h-8zM420 554h4v4h-4zM484 554h4v4h-4zM600 554h4v4h-4zM412 558h4v4h-4zM496 558h4v4h-4zM324 562h4v4h-4zM504 562h4v4h-4zM320 566h4v4h-4zM396 566h4v4h-4zM388 570h4v4h-4zM516 570h4v4h-4zM384 574h4v4h-4zM520 574h4v4h-4zM380 578h4v4h-4zM376 582h4v4h-4zM372 586h4v4h-4zM532 586h4v4h-4zM364 598h4v4h-4zM624 598h4v4h-4zM360 606h4v4h-4zM356 614h4v4h-4zM552 614h4v4h-4zM352 626h4v4h-4zM540 626h4v4h-4zM540 630h4v4h-4zM540 634h4v4h-4zM540 638h4v4h-4zM560 638h4v4h-4zM636 638h4v4h-4zM540 642h4v4h-4zM348 646h4v4h-4zM540 646h4v4h-4zM348 650h4v4h-4zM540 650h4v4h-4zM348 654h4v4h-4zM540 654h4v4h-4zM536 662h4v4h-4zM536 666h4v4h-4zM636 666h4v4h-4zM536 670h4v4h-4zM532 674h4v4h-4zM532 678h4v4h-4zM528 682h4v4h-4zM632 682h4v4h-4zM528 686h4v4h-4zM524 690h4v4h-4zM524 694h4v4h-4zM348 698h4v4h-4zM520 698h4v4h-4zM348 702h4v4h-4zM516 702h4v4h-4zM624 702h4v4h-4zM288 706h4v4h-4zM348 706h4v4h-4zM512 706h4v4h-4zM348 710h4v4h-4zM508 710h4v4h-4zM560 710h4v4h-4zM620 710h4v4h-4zM348 714h4v4h-4zM504 714h4v4h-4zM560 714h4v4h-4zM348 718h4v4h-4zM500 718h4v4h-4zM560 718h4v4h-4zM344 722h4v4h-4zM492 722h8v4h-8zM560 722h4v4h-4zM612 722h4v4h-4zM344 726h4v4h-4zM488 726h4v4h-4zM608 726h4v4h-4zM320 730h20v4h-20zM480 730h8v4h-8zM468 734h12v4h-12zM556 734h8v4h-8zM452 738h16v4h-16zM556 738h8v4h-8zM596 738h4v4h-4zM556 742h8v4h-8zM592 742h4v4h-4zM560 746h12v4h-12zM584 746h8v4h-8zM564 750h20v4h-20z"/><path fill="#323232" d="M428 510h8v4h-8zM464 510h8v4h-8zM516 510h4v4h-4zM408 514h4v4h-4zM396 518h4v4h-4zM376 526h4v4h-4zM368 530h4v4h-4zM360 534h4v4h-4zM348 542h4v4h-4zM448 550h20v4h-20zM332 554h4v4h-4zM424 554h8v4h-8zM328 558h4v4h-4zM404 562h4v4h-4zM392 570h4v4h-4zM524 578h4v4h-4zM528 582h4v4h-4zM292 586h4v4h-4zM368 594h4v4h-4zM544 602h4v4h-4zM356 618h4v4h-4zM536 618h4v4h-4zM632 618h4v4h-4zM536 622h4v4h-4zM536 626h4v4h-4zM556 626h4v4h-4zM352 630h4v4h-4zM536 642h4v4h-4zM560 642h4v4h-4zM536 646h4v4h-4zM536 650h4v4h-4zM536 654h4v4h-4zM348 658h4v4h-4zM536 658h4v4h-4zM348 662h4v4h-4zM348 666h4v4h-4zM532 666h4v4h-4zM348 670h4v4h-4zM532 670h4v4h-4zM348 674h4v4h-4zM528 674h4v4h-4zM348 678h4v4h-4zM528 678h4v4h-4zM348 682h4v4h-4zM348 686h4v4h-4zM524 686h4v4h-4zM348 690h4v4h-4zM520 690h4v4h-4zM348 694h4v4h-4zM520 694h4v4h-4zM628 694h4v4h-4zM516 698h4v4h-4zM512 702h4v4h-4zM560 702h4v4h-4zM508 706h4v4h-4zM560 706h4v4h-4zM504 710h4v4h-4zM500 714h4v4h-4zM492 718h8v4h-8zM616 718h4v4h-4zM348 722h4v4h-4zM488 722h4v4h-4zM556 722h4v4h-4zM348 726h4v4h-4zM480 726h8v4h-8zM556 726h4v4h-4zM316 730h4v4h-4zM340 730h4v4h-4zM472 730h8v4h-8zM556 730h4v4h-4zM608 730h4v4h-4zM456 734h12v4h-12zM604 734h4v4h-4zM440 738h12v4h-12zM552 738h4v4h-4zM600 738h4v4h-4zM552 742h4v4h-4zM596 742h4v4h-4zM552 746h8v4h-8zM592 746h4v4h-4zM552 750h12v4h-12zM584 750h4v4h-4zM556 754h28v4h-28zM564 758h8v4h-8z"/><path fill="#333333" d="M420 510h8v4h-8zM520 510h4v4h-4zM404 514h4v4h-4zM536 514h4v4h-4zM548 518h4v4h-4zM384 522h4v4h-4zM336 550h4v4h-4zM432 554h4v4h-4zM480 554h4v4h-4zM416 558h4v4h-4zM492 558h4v4h-4zM408 562h4v4h-4zM500 562h4v4h-4zM400 566h4v4h-4zM508 566h4v4h-4zM388 574h4v4h-4zM376 586h4v4h-4zM372 590h4v4h-4zM364 602h4v4h-4zM628 606h4v4h-4zM360 610h4v4h-4zM532 610h4v4h-4zM532 614h4v4h-4zM536 630h4v4h-4zM352 634h4v4h-4zM536 634h4v4h-4zM636 634h4v4h-4zM536 638h4v4h-4zM560 646h4v4h-4zM560 650h4v4h-4zM532 654h4v4h-4zM532 658h4v4h-4zM532 662h4v4h-4zM528 666h4v4h-4zM528 670h4v4h-4zM636 670h4v4h-4zM524 678h4v4h-4zM524 682h4v4h-4zM520 686h4v4h-4zM516 690h4v4h-4zM516 694h4v4h-4zM512 698h4v4h-4zM560 698h4v4h-4zM508 702h4v4h-4zM504 706h4v4h-4zM624 706h4v4h-4zM500 710h4v4h-4zM352 714h4v4h-4zM496 714h4v4h-4zM556 714h4v4h-4zM620 714h4v4h-4zM296 718h4v4h-4zM352 718h4v4h-4zM488 718h4v4h-4zM556 718h4v4h-4zM300 722h4v4h-4zM352 722h4v4h-4zM480 722h8v4h-8zM472 726h8v4h-8zM612 726h4v4h-4zM344 730h8v4h-8zM460 730h12v4h-12zM552 730h4v4h-4zM332 734h8v4h-8zM432 734h24v4h-24zM552 734h4v4h-4zM548 742h4v4h-4zM548 746h4v4h-4zM548 750h4v4h-4zM588 750h4v4h-4zM548 754h8v4h-8zM584 754h4v4h-4zM548 758h16v4h-16zM572 758h8v4h-8zM552 762h20v4h-20z"/><path fill="#343434" d="M480 506h24v4h-24zM416 510h4v4h-4zM524 510h4v4h-4zM392 518h4v4h-4zM372 526h4v4h-4zM580 534h4v4h-4zM352 538h4v4h-4zM340 546h4v4h-4zM436 554h4v4h-4zM476 554h4v4h-4zM420 558h4v4h-4zM604 558h4v4h-4zM512 570h4v4h-4zM384 578h4v4h-4zM616 578h4v4h-4zM380 582h4v4h-4zM296 586h4v4h-4zM620 586h4v4h-4zM368 598h4v4h-4zM540 598h4v4h-4zM528 606h4v4h-4zM528 610h4v4h-4zM548 610h4v4h-4zM532 618h4v4h-4zM552 618h4v4h-4zM356 622h4v4h-4zM532 622h4v4h-4zM532 626h4v4h-4zM532 630h4v4h-4zM532 634h4v4h-4zM352 638h4v4h-4zM532 638h4v4h-4zM532 642h4v4h-4zM532 646h4v4h-4zM532 650h4v4h-4zM560 654h4v4h-4zM528 658h4v4h-4zM560 658h4v4h-4zM528 662h4v4h-4zM560 662h4v4h-4zM524 670h4v4h-4zM524 674h4v4h-4zM520 682h4v4h-4zM516 686h4v4h-4zM632 686h4v4h-4zM560 690h4v4h-4zM512 694h4v4h-4zM560 694h4v4h-4zM508 698h4v4h-4zM628 698h4v4h-4zM352 702h4v4h-4zM504 702h4v4h-4zM352 706h4v4h-4zM500 706h4v4h-4zM352 710h4v4h-4zM496 710h4v4h-4zM556 710h4v4h-4zM492 714h4v4h-4zM484 718h4v4h-4zM476 722h4v4h-4zM552 722h4v4h-4zM616 722h4v4h-4zM352 726h4v4h-4zM464 726h8v4h-8zM552 726h4v4h-4zM312 730h4v4h-4zM352 730h4v4h-4zM448 730h12v4h-12zM324 734h8v4h-8zM340 734h12v4h-12zM548 734h4v4h-4zM608 734h4v4h-4zM548 738h4v4h-4zM604 738h4v4h-4zM600 742h4v4h-4zM544 746h4v4h-4zM596 746h4v4h-4zM544 750h4v4h-4zM592 750h4v4h-4zM544 754h4v4h-4zM588 754h4v4h-4zM544 758h4v4h-4zM580 758h4v4h-4zM544 762h8v4h-8zM572 762h4v4h-4zM548 766h20v4h-20z"/><path fill="#353535" d="M436 506h44v4h-44zM504 506h4v4h-4zM400 514h4v4h-4zM540 514h4v4h-4zM380 522h4v4h-4zM560 522h4v4h-4zM568 526h4v4h-4zM364 530h4v4h-4zM440 554h4v4h-4zM468 554h8v4h-8zM488 558h4v4h-4zM412 562h4v4h-4zM404 566h4v4h-4zM396 570h4v4h-4zM612 570h4v4h-4zM372 594h4v4h-4zM536 594h4v4h-4zM624 594h4v4h-4zM524 602h4v4h-4zM364 606h4v4h-4zM360 614h4v4h-4zM528 614h4v4h-4zM528 618h4v4h-4zM528 622h4v4h-4zM356 626h4v4h-4zM556 630h4v4h-4zM636 630h4v4h-4zM352 642h4v4h-4zM528 642h4v4h-4zM528 646h4v4h-4zM528 650h4v4h-4zM528 654h4v4h-4zM524 662h4v4h-4zM524 666h4v4h-4zM560 666h4v4h-4zM560 670h4v4h-4zM520 674h4v4h-4zM636 674h4v4h-4zM520 678h4v4h-4zM516 682h4v4h-4zM560 682h4v4h-4zM560 686h4v4h-4zM512 690h4v4h-4zM352 694h4v4h-4zM508 694h4v4h-4zM352 698h4v4h-4zM504 698h4v4h-4zM500 702h4v4h-4zM496 706h4v4h-4zM556 706h4v4h-4zM492 710h4v4h-4zM484 714h8v4h-8zM356 718h4v4h-4zM480 718h4v4h-4zM356 722h4v4h-4zM468 722h8v4h-8zM304 726h4v4h-4zM356 726h4v4h-4zM456 726h8v4h-8zM356 730h4v4h-4zM424 730h24v4h-24zM548 730h4v4h-4zM612 730h4v4h-4zM352 734h4v4h-4zM544 738h4v4h-4zM544 742h4v4h-4zM540 746h4v4h-4zM540 750h4v4h-4zM540 754h4v4h-4zM536 758h8v4h-8zM584 758h4v4h-4zM536 762h8v4h-8zM576 762h4v4h-4zM536 766h12v4h-12zM568 766h8v4h-8zM540 770h24v4h-24z"/><path fill="#363636" d="M432 506h4v4h-4zM508 506h4v4h-4zM412 510h4v4h-4zM528 510h4v4h-4zM388 518h4v4h-4zM552 518h4v4h-4zM356 534h4v4h-4zM344 542h4v4h-4zM444 554h24v4h-24zM424 558h4v4h-4zM484 558h4v4h-4zM496 562h4v4h-4zM504 566h4v4h-4zM392 574h4v4h-4zM516 574h4v4h-4zM288 582h4v4h-4zM376 590h4v4h-4zM532 590h4v4h-4zM520 598h4v4h-4zM524 606h4v4h-4zM524 610h4v4h-4zM524 614h4v4h-4zM632 614h4v4h-4zM528 626h4v4h-4zM528 630h4v4h-4zM528 634h4v4h-4zM528 638h4v4h-4zM352 646h4v4h-4zM352 650h4v4h-4zM524 654h4v4h-4zM524 658h4v4h-4zM520 670h4v4h-4zM560 674h4v4h-4zM516 678h4v4h-4zM560 678h4v4h-4zM352 686h4v4h-4zM512 686h4v4h-4zM352 690h4v4h-4zM508 690h4v4h-4zM632 690h4v4h-4zM504 694h4v4h-4zM500 698h4v4h-4zM280 702h8v4h-8zM496 702h4v4h-4zM492 706h4v4h-4zM488 710h4v4h-4zM624 710h4v4h-4zM356 714h4v4h-4zM480 714h4v4h-4zM472 718h8v4h-8zM552 718h4v4h-4zM620 718h4v4h-4zM464 722h4v4h-4zM416 726h16v4h-16zM440 726h16v4h-16zM548 726h4v4h-4zM320 734h4v4h-4zM356 734h4v4h-4zM544 734h4v4h-4zM336 738h20v4h-20zM540 742h4v4h-4zM604 742h4v4h-4zM600 746h4v4h-4zM536 750h4v4h-4zM596 750h4v4h-4zM536 754h4v4h-4zM592 754h4v4h-4zM532 758h4v4h-4zM532 762h4v4h-4zM580 762h4v4h-4zM532 766h4v4h-4zM576 766h4v4h-4zM532 770h8v4h-8zM564 770h8v4h-8zM532 774h28v4h-28z"/><path fill="#373737" d="M428 506h4v4h-4zM512 506h4v4h-4zM408 510h4v4h-4zM396 514h4v4h-4zM368 526h4v4h-4zM576 530h4v4h-4zM428 558h4v4h-4zM320 562h4v4h-4zM416 562h4v4h-4zM316 566h4v4h-4zM312 570h4v4h-4zM400 570h4v4h-4zM388 578h4v4h-4zM520 578h4v4h-4zM380 586h4v4h-4zM516 594h4v4h-4zM368 602h4v4h-4zM520 602h4v4h-4zM628 602h4v4h-4zM520 606h4v4h-4zM544 606h4v4h-4zM364 610h4v4h-4zM360 618h4v4h-4zM524 618h4v4h-4zM524 622h4v4h-4zM552 622h4v4h-4zM524 626h4v4h-4zM356 630h4v4h-4zM524 630h4v4h-4zM524 634h4v4h-4zM556 634h4v4h-4zM524 638h4v4h-4zM524 642h4v4h-4zM524 646h4v4h-4zM524 650h4v4h-4zM352 654h4v4h-4zM352 658h4v4h-4zM352 662h4v4h-4zM520 662h4v4h-4zM520 666h4v4h-4zM516 674h4v4h-4zM352 678h4v4h-4zM352 682h4v4h-4zM512 682h4v4h-4zM508 686h4v4h-4zM556 702h4v4h-4zM628 702h4v4h-4zM356 706h4v4h-4zM488 706h4v4h-4zM356 710h4v4h-4zM484 710h4v4h-4zM292 714h4v4h-4zM476 714h4v4h-4zM552 714h4v4h-4zM468 718h4v4h-4zM412 722h4v4h-4zM452 722h12v4h-12zM360 726h4v4h-4zM432 726h8v4h-8zM616 726h4v4h-4zM360 730h4v4h-4zM360 734h4v4h-4zM332 738h4v4h-4zM356 738h4v4h-4zM540 738h4v4h-4zM608 738h4v4h-4zM348 742h8v4h-8zM536 746h4v4h-4zM532 754h4v4h-4zM588 758h4v4h-4zM528 762h4v4h-4zM584 762h4v4h-4zM528 766h4v4h-4zM524 770h8v4h-8zM572 770h4v4h-4zM524 774h8v4h-8zM560 774h8v4h-8zM528 778h28v4h-28z"/><path fill="#383838" d="M424 506h4v4h-4zM516 506h4v4h-4zM532 510h4v4h-4zM544 514h4v4h-4zM376 522h4v4h-4zM360 530h4v4h-4zM348 538h4v4h-4zM328 554h4v4h-4zM324 558h4v4h-4zM432 558h4v4h-4zM480 558h4v4h-4zM608 562h4v4h-4zM408 566h4v4h-4zM308 574h4v4h-4zM304 578h4v4h-4zM300 582h4v4h-4zM384 582h4v4h-4zM524 582h4v4h-4zM528 586h4v4h-4zM516 598h4v4h-4zM520 610h4v4h-4zM520 614h4v4h-4zM548 614h4v4h-4zM636 626h4v4h-4zM520 654h4v4h-4zM520 658h4v4h-4zM352 666h4v4h-4zM516 666h4v4h-4zM352 670h4v4h-4zM516 670h4v4h-4zM352 674h4v4h-4zM512 678h4v4h-4zM636 678h4v4h-4zM508 682h4v4h-4zM504 690h4v4h-4zM500 694h4v4h-4zM496 698h4v4h-4zM556 698h4v4h-4zM356 702h4v4h-4zM492 702h4v4h-4zM480 710h4v4h-4zM472 714h4v4h-4zM360 718h4v4h-4zM460 718h8v4h-8zM360 722h4v4h-4zM416 722h36v4h-36zM548 722h4v4h-4zM544 730h4v4h-4zM316 734h4v4h-4zM612 734h4v4h-4zM328 738h4v4h-4zM360 738h4v4h-4zM340 742h8v4h-8zM356 742h8v4h-8zM536 742h4v4h-4zM532 750h4v4h-4zM528 754h4v4h-4zM528 758h4v4h-4zM524 762h4v4h-4zM524 766h4v4h-4zM580 766h4v4h-4zM520 770h4v4h-4zM520 774h4v4h-4zM568 774h4v4h-4zM520 778h8v4h-8zM556 778h8v4h-8zM524 782h28v4h-28z"/><path fill="#393939" d="M420 506h4v4h-4zM404 510h4v4h-4zM384 518h4v4h-4zM592 542h4v4h-4zM332 550h4v4h-4zM420 562h4v4h-4zM492 562h4v4h-4zM508 570h4v4h-4zM396 574h4v4h-4zM292 582h4v4h-4zM512 594h4v4h-4zM372 598h4v4h-4zM516 602h4v4h-4zM516 606h4v4h-4zM520 618h4v4h-4zM360 622h4v4h-4zM520 622h4v4h-4zM520 626h4v4h-4zM520 630h4v4h-4zM356 634h4v4h-4zM520 634h4v4h-4zM520 638h4v4h-4zM556 638h4v4h-4zM520 642h4v4h-4zM520 646h4v4h-4zM520 650h4v4h-4zM516 662h4v4h-4zM512 670h4v4h-4zM512 674h4v4h-4zM508 678h4v4h-4zM504 686h4v4h-4zM500 690h4v4h-4zM544 690h4v4h-4zM496 694h4v4h-4zM556 694h4v4h-4zM632 694h4v4h-4zM356 698h4v4h-4zM492 698h4v4h-4zM488 702h4v4h-4zM484 706h4v4h-4zM476 710h4v4h-4zM552 710h4v4h-4zM360 714h4v4h-4zM468 714h4v4h-4zM624 714h4v4h-4zM408 718h8v4h-8zM452 718h8v4h-8zM620 722h4v4h-4zM308 730h4v4h-4zM364 730h4v4h-4zM364 734h4v4h-4zM540 734h4v4h-4zM324 738h4v4h-4zM364 738h4v4h-4zM336 742h4v4h-4zM364 742h4v4h-4zM352 746h8v4h-8zM532 746h4v4h-4zM604 746h4v4h-4zM600 750h4v4h-4zM596 754h4v4h-4zM524 758h4v4h-4zM592 758h4v4h-4zM520 762h4v4h-4zM588 762h4v4h-4zM520 766h4v4h-4zM516 770h4v4h-4zM576 770h4v4h-4zM512 774h8v4h-8zM512 778h8v4h-8zM516 782h8v4h-8zM552 782h4v4h-4zM520 786h24v4h-24z"/><path fill="#3a3a3a" d="M444 502h16v4h-16zM472 502h28v4h-28zM416 506h4v4h-4zM520 506h4v4h-4zM392 514h4v4h-4zM556 518h4v4h-4zM564 522h4v4h-4zM352 534h4v4h-4zM588 538h4v4h-4zM336 546h4v4h-4zM596 546h4v4h-4zM436 558h4v4h-4zM476 558h4v4h-4zM412 566h4v4h-4zM500 566h4v4h-4zM404 570h4v4h-4zM616 574h4v4h-4zM620 582h4v4h-4zM508 590h4v4h-4zM376 594h4v4h-4zM512 598h4v4h-4zM540 602h4v4h-4zM368 606h4v4h-4zM516 610h4v4h-4zM364 614h4v4h-4zM516 614h4v4h-4zM356 638h4v4h-4zM516 654h4v4h-4zM516 658h4v4h-4zM512 666h4v4h-4zM508 674h4v4h-4zM504 682h4v4h-4zM636 682h4v4h-4zM500 686h4v4h-4zM356 694h4v4h-4zM484 702h4v4h-4zM480 706h4v4h-4zM536 706h4v4h-4zM628 706h4v4h-4zM360 710h4v4h-4zM472 710h4v4h-4zM404 714h4v4h-4zM460 714h8v4h-8zM416 718h16v4h-16zM440 718h12v4h-12zM548 718h4v4h-4zM364 726h4v4h-4zM544 726h4v4h-4zM616 730h4v4h-4zM368 738h4v4h-4zM536 738h4v4h-4zM332 742h4v4h-4zM608 742h4v4h-4zM344 746h8v4h-8zM360 746h8v4h-8zM528 750h4v4h-4zM524 754h4v4h-4zM516 766h4v4h-4zM584 766h4v4h-4zM512 770h4v4h-4zM508 774h4v4h-4zM572 774h4v4h-4zM508 778h4v4h-4zM564 778h4v4h-4zM508 782h8v4h-8zM556 782h4v4h-4zM508 786h12v4h-12zM544 786h8v4h-8zM524 790h4v4h-4z"/><path fill="#3b3b3b" d="M440 502h4v4h-4zM460 502h12v4h-12zM500 502h4v4h-4zM536 510h4v4h-4zM372 522h4v4h-4zM600 550h4v4h-4zM440 558h4v4h-4zM472 558h4v4h-4zM392 578h4v4h-4zM380 590h4v4h-4zM624 590h4v4h-4zM508 594h4v4h-4zM512 602h4v4h-4zM512 606h4v4h-4zM632 610h4v4h-4zM516 618h4v4h-4zM516 622h4v4h-4zM360 626h4v4h-4zM552 626h4v4h-4zM544 630h4v4h-4zM516 642h4v4h-4zM556 642h4v4h-4zM516 646h4v4h-4zM516 650h4v4h-4zM640 650h4v4h-4zM640 654h4v4h-4zM640 658h4v4h-4zM512 662h4v4h-4zM508 670h4v4h-4zM504 678h4v4h-4zM356 690h4v4h-4zM496 690h4v4h-4zM556 690h4v4h-4zM492 694h4v4h-4zM488 698h4v4h-4zM476 706h4v4h-4zM552 706h4v4h-4zM400 710h4v4h-4zM468 710h4v4h-4zM408 714h8v4h-8zM456 714h4v4h-4zM432 718h8v4h-8zM364 722h4v4h-4zM540 730h4v4h-4zM368 734h4v4h-4zM368 742h4v4h-4zM532 742h4v4h-4zM340 746h4v4h-4zM368 746h4v4h-4zM356 750h12v4h-12zM520 758h4v4h-4zM516 762h4v4h-4zM512 766h4v4h-4zM508 770h4v4h-4zM580 770h4v4h-4zM504 774h4v4h-4zM504 778h4v4h-4zM568 778h4v4h-4zM500 782h8v4h-8zM560 782h4v4h-4zM500 786h8v4h-8zM552 786h4v4h-4zM508 790h16v4h-16zM528 790h16v4h-16z"/><path fill="#3c3c3c" d="M436 502h4v4h-4zM504 502h4v4h-4zM412 506h4v4h-4zM524 506h4v4h-4zM400 510h4v4h-4zM548 514h4v4h-4zM380 518h4v4h-4zM364 526h4v4h-4zM572 526h4v4h-4zM340 542h4v4h-4zM444 558h4v4h-4zM468 558h4v4h-4zM424 562h4v4h-4zM488 562h4v4h-4zM512 574h4v4h-4zM296 582h4v4h-4zM388 582h4v4h-4zM384 586h4v4h-4zM500 586h4v4h-4zM504 590h4v4h-4zM508 598h4v4h-4zM536 598h4v4h-4zM372 602h4v4h-4zM512 610h4v4h-4zM540 622h4v4h-4zM516 626h4v4h-4zM516 630h4v4h-4zM516 634h4v4h-4zM516 638h4v4h-4zM356 642h4v4h-4zM556 646h4v4h-4zM512 658h4v4h-4zM640 662h4v4h-4zM508 666h4v4h-4zM504 674h4v4h-4zM500 682h4v4h-4zM356 686h4v4h-4zM496 686h4v4h-4zM556 686h4v4h-4zM492 690h4v4h-4zM488 694h4v4h-4zM484 698h4v4h-4zM632 698h4v4h-4zM480 702h4v4h-4zM360 706h4v4h-4zM472 706h4v4h-4zM404 710h4v4h-4zM464 710h4v4h-4zM416 714h8v4h-8zM448 714h8v4h-8zM548 714h4v4h-4zM364 718h4v4h-4zM624 718h4v4h-4zM544 722h4v4h-4zM368 730h4v4h-4zM320 738h4v4h-4zM612 738h4v4h-4zM328 742h4v4h-4zM372 742h4v4h-4zM372 746h4v4h-4zM528 746h4v4h-4zM348 750h8v4h-8zM368 750h4v4h-4zM524 750h4v4h-4zM520 754h4v4h-4zM512 762h4v4h-4zM508 766h4v4h-4zM504 770h4v4h-4zM500 774h4v4h-4zM576 774h4v4h-4zM496 778h8v4h-8zM496 782h4v4h-4zM496 786h4v4h-4zM496 790h12v4h-12zM544 790h4v4h-4zM508 794h24v4h-24z"/><path fill="#3d3d3d" d="M432 502h4v4h-4zM508 502h4v4h-4zM388 514h4v4h-4zM584 534h4v4h-4zM448 558h4v4h-4zM464 558h4v4h-4zM612 566h4v4h-4zM400 574h4v4h-4zM288 578h4v4h-4zM504 594h4v4h-4zM532 594h4v4h-4zM628 598h4v4h-4zM508 602h4v4h-4zM368 610h4v4h-4zM544 610h4v4h-4zM512 614h4v4h-4zM536 614h4v4h-4zM364 618h4v4h-4zM512 618h4v4h-4zM548 618h4v4h-4zM636 622h4v4h-4zM356 646h4v4h-4zM640 646h4v4h-4zM512 650h4v4h-4zM556 650h4v4h-4zM512 654h4v4h-4zM556 654h4v4h-4zM556 658h4v4h-4zM508 662h4v4h-4zM556 662h4v4h-4zM500 678h4v4h-4zM356 682h4v4h-4zM556 682h4v4h-4zM636 686h4v4h-4zM360 702h4v4h-4zM476 702h4v4h-4zM552 702h4v4h-4zM280 706h4v4h-4zM400 706h4v4h-4zM468 706h4v4h-4zM408 710h4v4h-4zM456 710h8v4h-8zM628 710h4v4h-4zM364 714h4v4h-4zM424 714h24v4h-24zM368 726h4v4h-4zM620 726h4v4h-4zM512 730h4v4h-4zM312 734h4v4h-4zM372 734h4v4h-4zM536 734h4v4h-4zM372 738h4v4h-4zM336 746h4v4h-4zM344 750h4v4h-4zM372 750h4v4h-4zM604 750h4v4h-4zM360 754h12v4h-12zM600 754h4v4h-4zM516 758h4v4h-4zM596 758h4v4h-4zM592 762h4v4h-4zM588 766h4v4h-4zM500 770h4v4h-4zM496 774h4v4h-4zM492 778h4v4h-4zM572 778h4v4h-4zM488 782h8v4h-8zM564 782h4v4h-4zM488 786h8v4h-8zM556 786h4v4h-4zM488 790h8v4h-8zM548 790h4v4h-4zM496 794h12v4h-12zM532 794h8v4h-8z"/><path fill="#3e3e3e" d="M428 502h4v4h-4zM528 506h4v4h-4zM540 510h4v4h-4zM356 530h4v4h-4zM344 538h4v4h-4zM604 554h4v4h-4zM452 558h12v4h-12zM428 562h4v4h-4zM416 566h4v4h-4zM496 566h4v4h-4zM408 570h4v4h-4zM504 570h4v4h-4zM516 578h4v4h-4zM496 586h4v4h-4zM500 590h4v4h-4zM376 598h4v4h-4zM504 598h4v4h-4zM508 606h4v4h-4zM512 622h4v4h-4zM512 626h4v4h-4zM360 630h4v4h-4zM512 630h4v4h-4zM512 634h4v4h-4zM512 638h4v4h-4zM512 642h4v4h-4zM640 642h4v4h-4zM512 646h4v4h-4zM356 650h4v4h-4zM508 658h4v4h-4zM556 666h4v4h-4zM640 666h4v4h-4zM504 670h4v4h-4zM356 678h4v4h-4zM556 678h4v4h-4zM496 682h4v4h-4zM492 686h4v4h-4zM488 690h4v4h-4zM484 694h4v4h-4zM480 698h4v4h-4zM472 702h4v4h-4zM284 706h4v4h-4zM404 706h4v4h-4zM464 706h4v4h-4zM288 710h4v4h-4zM412 710h8v4h-8zM452 710h4v4h-4zM368 722h4v4h-4zM540 726h4v4h-4zM616 734h4v4h-4zM532 738h4v4h-4zM376 742h4v4h-4zM376 746h4v4h-4zM376 750h4v4h-4zM352 754h8v4h-8zM372 754h8v4h-8zM508 762h4v4h-4zM504 766h4v4h-4zM584 770h4v4h-4zM492 774h4v4h-4zM488 778h4v4h-4zM484 782h4v4h-4zM484 786h4v4h-4zM560 786h4v4h-4zM484 790h4v4h-4zM488 794h8v4h-8zM540 794h4v4h-4zM500 798h24v4h-24z"/><path fill="#3f3f3f" d="M424 502h4v4h-4zM512 502h4v4h-4zM408 506h4v4h-4zM396 510h4v4h-4zM484 562h4v4h-4zM396 578h4v4h-4zM492 582h4v4h-4zM500 594h4v4h-4zM504 602h4v4h-4zM508 610h4v4h-4zM508 614h4v4h-4zM552 630h4v4h-4zM356 654h4v4h-4zM508 654h4v4h-4zM356 658h4v4h-4zM356 662h4v4h-4zM356 666h4v4h-4zM504 666h4v4h-4zM356 670h4v4h-4zM556 670h4v4h-4zM356 674h4v4h-4zM500 674h4v4h-4zM556 674h4v4h-4zM496 678h4v4h-4zM360 698h4v4h-4zM476 698h4v4h-4zM396 702h4v4h-4zM468 702h4v4h-4zM408 706h4v4h-4zM460 706h4v4h-4zM364 710h4v4h-4zM420 710h12v4h-12zM440 710h12v4h-12zM548 710h4v4h-4zM544 718h4v4h-4zM372 730h4v4h-4zM376 738h4v4h-4zM324 742h4v4h-4zM528 742h4v4h-4zM332 746h4v4h-4zM524 746h4v4h-4zM608 746h4v4h-4zM340 750h4v4h-4zM380 750h4v4h-4zM520 750h4v4h-4zM348 754h4v4h-4zM380 754h4v4h-4zM516 754h4v4h-4zM364 758h16v4h-16zM512 758h4v4h-4zM496 770h4v4h-4zM580 774h4v4h-4zM484 778h4v4h-4zM480 782h4v4h-4zM568 782h4v4h-4zM476 786h8v4h-8zM476 790h8v4h-8zM552 790h4v4h-4zM480 794h8v4h-8zM544 794h4v4h-4zM488 798h12v4h-12zM524 798h8v4h-8z"/><path fill="#404040" d="M376 518h4v4h-4zM560 518h4v4h-4zM368 522h4v4h-4zM432 562h4v4h-4zM292 578h4v4h-4zM520 582h4v4h-4zM492 586h4v4h-4zM524 586h4v4h-4zM496 590h4v4h-4zM528 590h4v4h-4zM380 594h4v4h-4zM500 598h4v4h-4zM504 606h4v4h-4zM508 618h4v4h-4zM364 622h4v4h-4zM508 622h4v4h-4zM360 634h4v4h-4zM508 646h4v4h-4zM508 650h4v4h-4zM504 662h4v4h-4zM500 670h4v4h-4zM640 670h4v4h-4zM492 682h4v4h-4zM488 686h4v4h-4zM484 690h4v4h-4zM360 694h4v4h-4zM480 694h4v4h-4zM552 698h4v4h-4zM400 702h4v4h-4zM632 702h4v4h-4zM412 706h4v4h-4zM456 706h4v4h-4zM432 710h8v4h-8zM368 718h4v4h-4zM296 722h4v4h-4zM300 726h4v4h-4zM536 730h4v4h-4zM316 738h4v4h-4zM496 738h4v4h-4zM612 742h4v4h-4zM380 746h4v4h-4zM384 754h4v4h-4zM356 758h8v4h-8zM380 758h8v4h-8zM504 762h4v4h-4zM500 766h4v4h-4zM492 770h4v4h-4zM488 774h4v4h-4zM480 778h4v4h-4zM576 778h4v4h-4zM476 782h4v4h-4zM472 786h4v4h-4zM472 790h4v4h-4zM556 790h4v4h-4zM472 794h8v4h-8zM480 798h8v4h-8zM532 798h4v4h-4zM500 802h16v4h-16z"/><path fill="#414141" d="M420 502h4v4h-4zM516 502h4v4h-4zM384 514h4v4h-4zM552 514h4v4h-4zM580 530h4v4h-4zM348 534h4v4h-4zM420 566h4v4h-4zM404 574h4v4h-4zM392 582h4v4h-4zM488 582h4v4h-4zM384 590h4v4h-4zM372 606h4v4h-4zM540 606h4v4h-4zM632 606h4v4h-4zM504 610h4v4h-4zM368 614h4v4h-4zM508 626h4v4h-4zM508 630h4v4h-4zM508 634h4v4h-4zM508 638h4v4h-4zM640 638h4v4h-4zM508 642h4v4h-4zM504 658h4v4h-4zM500 666h4v4h-4zM496 674h4v4h-4zM636 690h4v4h-4zM396 698h4v4h-4zM472 698h4v4h-4zM404 702h4v4h-4zM464 702h4v4h-4zM364 706h4v4h-4zM416 706h4v4h-4zM452 706h4v4h-4zM624 722h4v4h-4zM372 726h4v4h-4zM304 730h4v4h-4zM620 730h4v4h-4zM376 734h4v4h-4zM380 742h4v4h-4zM336 750h4v4h-4zM384 750h4v4h-4zM344 754h4v4h-4zM388 754h4v4h-4zM388 758h4v4h-4zM508 758h4v4h-4zM368 762h24v4h-24zM596 762h4v4h-4zM496 766h4v4h-4zM592 766h4v4h-4zM484 774h4v4h-4zM420 778h8v4h-8zM476 778h4v4h-4zM424 782h32v4h-32zM468 782h8v4h-8zM432 786h40v4h-40zM564 786h4v4h-4zM440 790h32v4h-32zM460 794h12v4h-12zM548 794h4v4h-4zM472 798h8v4h-8zM536 798h4v4h-4zM488 802h12v4h-12zM516 802h8v4h-8z"/><path fill="#424242" d="M476 498h16v4h-16zM404 506h4v4h-4zM532 506h4v4h-4zM568 522h4v4h-4zM360 526h4v4h-4zM324 554h4v4h-4zM320 558h4v4h-4zM316 562h4v4h-4zM480 562h4v4h-4zM412 570h4v4h-4zM620 578h4v4h-4zM388 586h4v4h-4zM624 586h4v4h-4zM492 590h4v4h-4zM496 594h4v4h-4zM500 602h4v4h-4zM504 614h4v4h-4zM636 618h4v4h-4zM360 638h4v4h-4zM548 638h4v4h-4zM504 654h4v4h-4zM492 678h4v4h-4zM488 682h4v4h-4zM548 682h4v4h-4zM484 686h4v4h-4zM360 690h4v4h-4zM480 690h4v4h-4zM392 694h4v4h-4zM476 694h4v4h-4zM552 694h4v4h-4zM400 698h4v4h-4zM468 698h4v4h-4zM408 702h4v4h-4zM460 702h4v4h-4zM420 706h12v4h-12zM440 706h12v4h-12zM628 714h4v4h-4zM540 722h4v4h-4zM532 734h4v4h-4zM380 738h4v4h-4zM328 746h4v4h-4zM384 746h4v4h-4zM388 750h4v4h-4zM512 754h4v4h-4zM352 758h4v4h-4zM392 758h4v4h-4zM600 758h4v4h-4zM364 762h4v4h-4zM392 762h8v4h-8zM380 766h28v4h-28zM396 770h20v4h-20zM488 770h4v4h-4zM588 770h4v4h-4zM404 774h24v4h-24zM480 774h4v4h-4zM408 778h12v4h-12zM428 778h20v4h-20zM472 778h4v4h-4zM412 782h12v4h-12zM456 782h12v4h-12zM572 782h4v4h-4zM420 786h12v4h-12zM432 790h8v4h-8zM444 794h16v4h-16zM464 798h8v4h-8zM540 798h4v4h-4zM480 802h8v4h-8zM524 802h4v4h-4z"/><path fill="#434343" d="M444 498h32v4h-32zM492 498h4v4h-4zM392 510h4v4h-4zM544 510h4v4h-4zM328 550h4v4h-4zM608 558h4v4h-4zM436 562h4v4h-4zM312 566h4v4h-4zM492 566h4v4h-4zM508 574h4v4h-4zM296 578h4v4h-4zM484 582h4v4h-4zM488 586h4v4h-4zM496 598h4v4h-4zM500 606h4v4h-4zM504 618h4v4h-4zM504 622h4v4h-4zM548 622h4v4h-4zM552 634h4v4h-4zM548 642h4v4h-4zM504 646h4v4h-4zM504 650h4v4h-4zM500 662h4v4h-4zM496 670h4v4h-4zM640 674h4v4h-4zM548 678h4v4h-4zM472 694h4v4h-4zM412 702h4v4h-4zM456 702h4v4h-4zM432 706h8v4h-8zM548 706h4v4h-4zM368 714h4v4h-4zM544 714h4v4h-4zM372 722h4v4h-4zM376 730h4v4h-4zM528 738h4v4h-4zM616 738h4v4h-4zM320 742h4v4h-4zM524 742h4v4h-4zM520 746h4v4h-4zM516 750h4v4h-4zM340 754h4v4h-4zM392 754h4v4h-4zM604 754h4v4h-4zM348 758h4v4h-4zM396 758h4v4h-4zM360 762h4v4h-4zM400 762h4v4h-4zM500 762h4v4h-4zM372 766h8v4h-8zM408 766h4v4h-4zM492 766h4v4h-4zM392 770h4v4h-4zM416 770h8v4h-8zM484 770h4v4h-4zM396 774h8v4h-8zM428 774h12v4h-12zM476 774h4v4h-4zM584 774h4v4h-4zM404 778h4v4h-4zM448 778h24v4h-24zM408 782h4v4h-4zM416 786h4v4h-4zM424 790h8v4h-8zM560 790h4v4h-4zM432 794h12v4h-12zM552 794h4v4h-4zM448 798h16v4h-16zM472 802h8v4h-8zM528 802h4v4h-4zM492 806h16v4h-16z"/><path fill="#444444" d="M440 498h4v4h-4zM496 498h4v4h-4zM416 502h4v4h-4zM520 502h4v4h-4zM332 546h4v4h-4zM476 562h4v4h-4zM424 566h4v4h-4zM308 570h4v4h-4zM500 570h4v4h-4zM616 570h4v4h-4zM300 578h4v4h-4zM492 594h4v4h-4zM628 594h4v4h-4zM376 602h4v4h-4zM500 610h4v4h-4zM544 614h4v4h-4zM364 626h4v4h-4zM504 626h4v4h-4zM504 630h4v4h-4zM504 634h4v4h-4zM640 634h4v4h-4zM504 638h4v4h-4zM360 642h4v4h-4zM504 642h4v4h-4zM500 658h4v4h-4zM496 666h4v4h-4zM492 674h4v4h-4zM488 678h4v4h-4zM360 686h4v4h-4zM476 690h4v4h-4zM396 694h4v4h-4zM404 698h4v4h-4zM464 698h4v4h-4zM364 702h4v4h-4zM416 702h4v4h-4zM452 702h4v4h-4zM632 706h4v4h-4zM308 734h4v4h-4zM384 742h4v4h-4zM388 746h4v4h-4zM332 750h4v4h-4zM608 750h4v4h-4zM400 758h4v4h-4zM504 758h4v4h-4zM356 762h4v4h-4zM404 762h4v4h-4zM368 766h4v4h-4zM412 766h8v4h-8zM384 770h8v4h-8zM424 770h8v4h-8zM392 774h4v4h-4zM440 774h8v4h-8zM472 774h4v4h-4zM400 778h4v4h-4zM580 778h4v4h-4zM404 782h4v4h-4zM412 786h4v4h-4zM568 786h4v4h-4zM420 790h4v4h-4zM428 794h4v4h-4zM440 798h8v4h-8zM544 798h4v4h-4zM460 802h12v4h-12zM532 802h4v4h-4zM480 806h12v4h-12zM508 806h12v4h-12z"/><path fill="#454545" d="M436 498h4v4h-4zM500 498h4v4h-4zM352 530h4v4h-4zM440 562h4v4h-4zM304 574h4v4h-4zM400 578h4v4h-4zM476 578h4v4h-4zM480 582h4v4h-4zM484 586h4v4h-4zM488 590h4v4h-4zM512 590h4v4h-4zM496 602h4v4h-4zM536 602h4v4h-4zM500 614h4v4h-4zM500 654h4v4h-4zM360 682h4v4h-4zM484 682h4v4h-4zM388 686h4v4h-4zM480 686h4v4h-4zM392 690h4v4h-4zM552 690h4v4h-4zM400 694h4v4h-4zM468 694h4v4h-4zM636 694h4v4h-4zM408 698h4v4h-4zM460 698h4v4h-4zM420 702h8v4h-8zM444 702h8v4h-8zM280 710h4v4h-4zM292 718h4v4h-4zM536 726h4v4h-4zM380 734h4v4h-4zM324 746h4v4h-4zM392 750h4v4h-4zM396 754h4v4h-4zM408 762h4v4h-4zM496 762h4v4h-4zM364 766h4v4h-4zM420 766h4v4h-4zM488 766h4v4h-4zM376 770h8v4h-8zM432 770h4v4h-4zM480 770h4v4h-4zM448 774h24v4h-24zM396 778h4v4h-4zM400 782h4v4h-4zM576 782h4v4h-4zM408 786h4v4h-4zM416 790h4v4h-4zM424 794h4v4h-4zM556 794h4v4h-4zM436 798h4v4h-4zM448 802h12v4h-12zM536 802h4v4h-4zM472 806h8v4h-8zM520 806h4v4h-4z"/><path fill="#464646" d="M400 506h4v4h-4zM536 506h4v4h-4zM372 518h4v4h-4zM576 526h4v4h-4zM336 542h4v4h-4zM472 562h4v4h-4zM380 598h4v4h-4zM492 598h4v4h-4zM496 606h4v4h-4zM372 610h4v4h-4zM368 618h4v4h-4zM500 618h4v4h-4zM552 638h4v4h-4zM360 646h4v4h-4zM500 650h4v4h-4zM496 662h4v4h-4zM492 670h4v4h-4zM488 674h4v4h-4zM640 678h4v4h-4zM472 690h4v4h-4zM364 698h4v4h-4zM412 698h4v4h-4zM456 698h4v4h-4zM428 702h16v4h-16zM284 710h4v4h-4zM368 710h4v4h-4zM372 718h4v4h-4zM376 726h4v4h-4zM624 726h4v4h-4zM312 738h4v4h-4zM384 738h4v4h-4zM612 746h4v4h-4zM336 754h4v4h-4zM508 754h4v4h-4zM344 758h4v4h-4zM404 758h4v4h-4zM352 762h4v4h-4zM412 762h4v4h-4zM424 766h4v4h-4zM372 770h4v4h-4zM436 770h4v4h-4zM476 770h4v4h-4zM384 774h8v4h-8zM392 778h4v4h-4zM404 786h4v4h-4zM412 790h4v4h-4zM564 790h4v4h-4zM420 794h4v4h-4zM428 798h8v4h-8zM548 798h4v4h-4zM444 802h4v4h-4zM468 806h4v4h-4zM524 806h4v4h-4z"/><path fill="#474747" d="M432 498h4v4h-4zM504 498h4v4h-4zM412 502h4v4h-4zM524 502h4v4h-4zM380 514h4v4h-4zM364 522h4v4h-4zM444 562h4v4h-4zM488 566h4v4h-4zM416 570h4v4h-4zM292 574h4v4h-4zM408 574h4v4h-4zM472 578h4v4h-4zM512 578h4v4h-4zM396 582h4v4h-4zM488 594h4v4h-4zM500 622h4v4h-4zM500 626h4v4h-4zM364 630h4v4h-4zM500 642h4v4h-4zM500 646h4v4h-4zM496 658h4v4h-4zM492 666h4v4h-4zM360 678h4v4h-4zM484 678h4v4h-4zM480 682h4v4h-4zM392 686h4v4h-4zM476 686h4v4h-4zM396 690h4v4h-4zM404 694h4v4h-4zM464 694h4v4h-4zM416 698h4v4h-4zM452 698h4v4h-4zM548 702h4v4h-4zM540 718h4v4h-4zM628 718h4v4h-4zM532 730h4v4h-4zM620 734h4v4h-4zM388 742h4v4h-4zM392 746h4v4h-4zM396 750h4v4h-4zM512 750h4v4h-4zM400 754h4v4h-4zM408 758h4v4h-4zM500 758h4v4h-4zM416 762h4v4h-4zM360 766h4v4h-4zM484 766h4v4h-4zM440 770h8v4h-8zM472 770h4v4h-4zM380 774h4v4h-4zM396 782h4v4h-4zM408 790h4v4h-4zM416 794h4v4h-4zM424 798h4v4h-4zM436 802h8v4h-8zM540 802h4v4h-4zM456 806h12v4h-12zM484 810h24v4h-24z"/><path fill="#484848" d="M388 510h4v4h-4zM556 514h4v4h-4zM340 538h4v4h-4zM592 538h4v4h-4zM596 542h4v4h-4zM448 562h4v4h-4zM468 562h4v4h-4zM428 566h4v4h-4zM476 582h4v4h-4zM480 586h4v4h-4zM484 590h4v4h-4zM384 594h4v4h-4zM532 598h4v4h-4zM492 602h4v4h-4zM496 610h4v4h-4zM636 614h4v4h-4zM500 630h4v4h-4zM640 630h4v4h-4zM500 634h4v4h-4zM500 638h4v4h-4zM360 650h4v4h-4zM496 654h4v4h-4zM360 674h4v4h-4zM388 682h4v4h-4zM552 686h4v4h-4zM468 690h4v4h-4zM460 694h4v4h-4zM420 698h4v4h-4zM448 698h4v4h-4zM544 710h4v4h-4zM380 730h4v4h-4zM528 734h4v4h-4zM316 742h4v4h-4zM516 746h4v4h-4zM328 750h4v4h-4zM348 762h4v4h-4zM492 762h4v4h-4zM600 762h4v4h-4zM428 766h4v4h-4zM596 766h4v4h-4zM368 770h4v4h-4zM448 770h8v4h-8zM468 770h4v4h-4zM592 770h4v4h-4zM588 774h4v4h-4zM388 778h4v4h-4zM392 782h4v4h-4zM400 786h4v4h-4zM572 786h4v4h-4zM412 794h4v4h-4zM432 802h4v4h-4zM448 806h8v4h-8zM528 806h4v4h-4zM476 810h8v4h-8zM508 810h4v4h-4z"/><path fill="#494949" d="M428 498h4v4h-4zM508 498h4v4h-4zM548 510h4v4h-4zM564 518h4v4h-4zM452 562h4v4h-4zM464 562h4v4h-4zM612 562h4v4h-4zM468 578h4v4h-4zM392 586h4v4h-4zM504 586h4v4h-4zM388 590h4v4h-4zM488 598h4v4h-4zM632 602h4v4h-4zM496 614h4v4h-4zM548 626h4v4h-4zM552 642h4v4h-4zM360 654h4v4h-4zM360 658h4v4h-4zM360 662h4v4h-4zM492 662h4v4h-4zM360 666h4v4h-4zM360 670h4v4h-4zM488 670h4v4h-4zM484 674h4v4h-4zM472 686h4v4h-4zM400 690h4v4h-4zM364 694h4v4h-4zM408 694h4v4h-4zM424 698h8v4h-8zM440 698h8v4h-8zM368 706h4v4h-4zM376 722h4v4h-4zM524 738h4v4h-4zM520 742h4v4h-4zM404 754h4v4h-4zM504 754h4v4h-4zM340 758h4v4h-4zM412 758h4v4h-4zM604 758h4v4h-4zM420 762h4v4h-4zM356 766h4v4h-4zM432 766h4v4h-4zM480 766h4v4h-4zM364 770h4v4h-4zM456 770h12v4h-12zM376 774h4v4h-4zM584 778h4v4h-4zM396 786h4v4h-4zM404 790h4v4h-4zM560 794h4v4h-4zM420 798h4v4h-4zM552 798h4v4h-4zM444 806h4v4h-4zM532 806h4v4h-4zM468 810h8v4h-8zM512 810h8v4h-8z"/><path fill="#4a4a4a" d="M356 526h4v4h-4zM588 534h4v4h-4zM600 546h4v4h-4zM456 562h8v4h-8zM472 582h4v4h-4zM516 582h4v4h-4zM476 586h4v4h-4zM480 590h4v4h-4zM484 594h4v4h-4zM528 594h4v4h-4zM376 606h4v4h-4zM492 606h4v4h-4zM496 618h4v4h-4zM368 622h4v4h-4zM364 634h4v4h-4zM496 646h4v4h-4zM496 650h4v4h-4zM480 678h4v4h-4zM392 682h4v4h-4zM476 682h4v4h-4zM552 682h4v4h-4zM640 682h4v4h-4zM396 686h4v4h-4zM404 690h4v4h-4zM464 690h4v4h-4zM412 694h4v4h-4zM456 694h4v4h-4zM432 698h8v4h-8zM636 698h4v4h-4zM632 710h4v4h-4zM372 714h4v4h-4zM384 734h4v4h-4zM436 738h4v4h-4zM616 742h4v4h-4zM400 750h4v4h-4zM332 754h4v4h-4zM496 758h4v4h-4zM424 762h4v4h-4zM488 762h4v4h-4zM436 766h4v4h-4zM372 774h4v4h-4zM384 778h4v4h-4zM568 790h4v4h-4zM408 794h4v4h-4zM416 798h4v4h-4zM428 802h4v4h-4zM544 802h4v4h-4zM440 806h4v4h-4zM460 810h8v4h-8z"/><path fill="#4b4b4b" d="M424 498h4v4h-4zM408 502h4v4h-4zM396 506h4v4h-4zM496 570h4v4h-4zM296 574h4v4h-4zM504 574h4v4h-4zM404 578h4v4h-4zM464 578h4v4h-4zM488 602h4v4h-4zM492 610h4v4h-4zM540 610h4v4h-4zM372 614h4v4h-4zM496 622h4v4h-4zM496 626h4v4h-4zM496 642h4v4h-4zM492 658h4v4h-4zM488 666h4v4h-4zM388 678h4v4h-4zM468 686h4v4h-4zM416 694h4v4h-4zM452 694h4v4h-4zM548 698h4v4h-4zM288 714h4v4h-4zM536 722h4v4h-4zM388 738h4v4h-4zM392 742h4v4h-4zM320 746h4v4h-4zM396 746h4v4h-4zM408 754h4v4h-4zM608 754h4v4h-4zM416 758h4v4h-4zM344 762h4v4h-4zM352 766h4v4h-4zM440 766h4v4h-4zM476 766h4v4h-4zM380 778h4v4h-4zM388 782h4v4h-4zM580 782h4v4h-4zM400 790h4v4h-4zM424 802h4v4h-4zM436 806h4v4h-4zM536 806h4v4h-4zM452 810h8v4h-8zM520 810h4v4h-4z"/><path fill="#4c4c4c" d="M512 498h4v4h-4zM528 502h4v4h-4zM540 506h4v4h-4zM572 522h4v4h-4zM344 534h4v4h-4zM432 566h4v4h-4zM484 566h4v4h-4zM420 570h4v4h-4zM468 582h4v4h-4zM496 582h4v4h-4zM624 582h4v4h-4zM520 586h4v4h-4zM524 590h4v4h-4zM544 618h4v4h-4zM496 630h4v4h-4zM496 634h4v4h-4zM496 638h4v4h-4zM552 646h4v4h-4zM492 654h4v4h-4zM484 670h4v4h-4zM552 678h4v4h-4zM472 682h4v4h-4zM400 686h4v4h-4zM364 690h4v4h-4zM408 690h4v4h-4zM460 690h4v4h-4zM420 694h4v4h-4zM448 694h4v4h-4zM368 702h4v4h-4zM380 726h4v4h-4zM428 734h4v4h-4zM508 750h4v4h-4zM428 762h4v4h-4zM444 766h4v4h-4zM472 766h4v4h-4zM360 770h4v4h-4zM368 774h4v4h-4zM392 786h4v4h-4zM404 794h4v4h-4zM412 798h4v4h-4zM556 798h4v4h-4zM420 802h4v4h-4zM432 806h4v4h-4zM448 810h4v4h-4zM524 810h4v4h-4zM480 814h24v4h-24z"/><path fill="#4d4d4d" d="M604 550h4v4h-4zM412 574h4v4h-4zM620 574h4v4h-4zM460 578h4v4h-4zM472 586h4v4h-4zM476 590h4v4h-4zM480 594h4v4h-4zM484 598h4v4h-4zM380 602h4v4h-4zM488 606h4v4h-4zM492 614h4v4h-4zM552 650h4v4h-4zM552 654h4v4h-4zM552 658h4v4h-4zM488 662h4v4h-4zM552 662h4v4h-4zM384 670h4v4h-4zM388 674h4v4h-4zM480 674h4v4h-4zM392 678h4v4h-4zM476 678h4v4h-4zM396 682h4v4h-4zM456 690h4v4h-4zM424 694h4v4h-4zM440 694h8v4h-8zM280 714h4v4h-4zM376 718h4v4h-4zM628 722h4v4h-4zM532 726h4v4h-4zM420 730h4v4h-4zM624 730h4v4h-4zM324 750h4v4h-4zM404 750h4v4h-4zM336 758h4v4h-4zM484 762h4v4h-4zM448 766h4v4h-4zM376 778h4v4h-4zM384 782h4v4h-4zM576 786h4v4h-4zM396 790h4v4h-4zM564 794h4v4h-4zM548 802h4v4h-4zM444 810h4v4h-4zM472 814h8v4h-8zM504 814h4v4h-4z"/><path fill="#4e4e4e" d="M420 498h4v4h-4zM376 514h4v4h-4zM368 518h4v4h-4zM584 530h4v4h-4zM292 570h4v4h-4zM300 574h4v4h-4zM628 590h4v4h-4zM492 618h4v4h-4zM640 626h4v4h-4zM364 638h4v4h-4zM492 650h4v4h-4zM484 666h4v4h-4zM552 666h4v4h-4zM552 670h4v4h-4zM552 674h4v4h-4zM364 686h4v4h-4zM404 686h4v4h-4zM464 686h4v4h-4zM640 686h4v4h-4zM412 690h4v4h-4zM428 694h12v4h-12zM544 706h4v4h-4zM372 710h4v4h-4zM284 714h4v4h-4zM540 714h4v4h-4zM300 730h4v4h-4zM384 730h4v4h-4zM620 738h4v4h-4zM512 746h4v4h-4zM612 750h4v4h-4zM412 754h4v4h-4zM500 754h4v4h-4zM420 758h4v4h-4zM492 758h4v4h-4zM432 762h4v4h-4zM348 766h4v4h-4zM452 766h20v4h-20zM356 770h4v4h-4zM364 774h4v4h-4zM388 786h4v4h-4zM400 794h4v4h-4zM408 798h4v4h-4zM416 802h4v4h-4zM428 806h4v4h-4zM540 806h4v4h-4zM440 810h4v4h-4zM528 810h4v4h-4zM464 814h8v4h-8zM508 814h4v4h-4z"/><path fill="#4f4f4f" d="M452 494h12v4h-12zM472 494h16v4h-16zM516 498h4v4h-4zM384 510h4v4h-4zM456 578h4v4h-4zM400 582h4v4h-4zM464 582h4v4h-4zM484 602h4v4h-4zM488 610h4v4h-4zM636 610h4v4h-4zM492 622h4v4h-4zM368 626h4v4h-4zM544 626h4v4h-4zM492 642h4v4h-4zM492 646h4v4h-4zM488 658h4v4h-4zM384 666h4v4h-4zM480 670h4v4h-4zM468 682h4v4h-4zM416 690h4v4h-4zM452 690h4v4h-4zM636 702h4v4h-4zM528 730h4v4h-4zM304 734h4v4h-4zM400 746h4v4h-4zM340 762h4v4h-4zM480 762h4v4h-4zM372 778h4v4h-4zM392 790h4v4h-4zM424 806h4v4h-4zM460 814h4v4h-4zM512 814h4v4h-4z"/><path fill="#505050" d="M448 494h4v4h-4zM464 494h8v4h-8zM488 494h4v4h-4zM404 502h4v4h-4zM360 522h4v4h-4zM348 530h4v4h-4zM436 566h4v4h-4zM468 586h4v4h-4zM384 598h4v4h-4zM480 598h4v4h-4zM536 606h4v4h-4zM376 610h4v4h-4zM540 618h4v4h-4zM492 626h4v4h-4zM492 630h4v4h-4zM548 630h4v4h-4zM492 634h4v4h-4zM492 638h4v4h-4zM488 654h4v4h-4zM388 670h4v4h-4zM476 674h4v4h-4zM396 678h4v4h-4zM472 678h4v4h-4zM400 682h4v4h-4zM408 686h4v4h-4zM460 686h4v4h-4zM448 690h4v4h-4zM544 694h8v4h-8zM368 698h4v4h-4zM632 714h4v4h-4zM296 726h4v4h-4zM388 734h4v4h-4zM308 738h4v4h-4zM392 738h4v4h-4zM396 742h4v4h-4zM516 742h4v4h-4zM328 754h4v4h-4zM424 758h4v4h-4zM436 762h4v4h-4zM600 766h4v4h-4zM596 770h4v4h-4zM592 774h4v4h-4zM380 782h4v4h-4zM572 790h4v4h-4zM404 798h4v4h-4zM412 802h4v4h-4zM436 810h4v4h-4zM452 814h8v4h-8zM516 814h4v4h-4z"/><path fill="#515151" d="M444 494h4v4h-4zM492 494h4v4h-4zM532 502h4v4h-4zM392 506h4v4h-4zM552 510h4v4h-4zM560 514h4v4h-4zM320 554h4v4h-4zM480 566h4v4h-4zM616 566h4v4h-4zM296 570h4v4h-4zM424 570h4v4h-4zM508 578h4v4h-4zM460 582h4v4h-4zM396 586h4v4h-4zM472 590h4v4h-4zM476 594h4v4h-4zM632 598h4v4h-4zM484 606h4v4h-4zM488 614h4v4h-4zM372 618h4v4h-4zM364 642h4v4h-4zM644 654h4v4h-4zM644 658h4v4h-4zM484 662h4v4h-4zM644 662h4v4h-4zM392 674h4v4h-4zM364 682h4v4h-4zM420 690h4v4h-4zM444 690h4v4h-4zM380 722h4v4h-4zM524 734h4v4h-4zM520 738h4v4h-4zM312 742h4v4h-4zM616 746h4v4h-4zM408 750h4v4h-4zM504 750h4v4h-4zM416 754h4v4h-4zM488 758h4v4h-4zM476 762h4v4h-4zM604 762h4v4h-4zM352 770h4v4h-4zM360 774h4v4h-4zM588 778h4v4h-4zM384 786h4v4h-4zM396 794h4v4h-4zM560 798h4v4h-4zM552 802h4v4h-4zM420 806h4v4h-4zM432 810h4v4h-4zM532 810h4v4h-4zM448 814h4v4h-4z"/><path fill="#525252" d="M440 494h4v4h-4zM496 494h4v4h-4zM416 498h4v4h-4zM328 546h4v4h-4zM324 550h4v4h-4zM608 554h4v4h-4zM316 558h4v4h-4zM492 570h4v4h-4zM408 578h4v4h-4zM392 590h4v4h-4zM388 594h4v4h-4zM532 606h4v4h-4zM488 618h4v4h-4zM488 650h4v4h-4zM644 650h4v4h-4zM384 662h4v4h-4zM480 666h4v4h-4zM404 682h4v4h-4zM464 682h4v4h-4zM412 686h4v4h-4zM456 686h4v4h-4zM424 690h20v4h-20zM640 690h4v4h-4zM540 702h4v4h-4zM372 706h4v4h-4zM376 714h4v4h-4zM536 718h4v4h-4zM488 742h4v4h-4zM316 746h4v4h-4zM496 754h4v4h-4zM332 758h4v4h-4zM440 762h4v4h-4zM344 766h4v4h-4zM368 778h4v4h-4zM376 782h4v4h-4zM584 782h4v4h-4zM388 790h4v4h-4zM544 806h4v4h-4zM520 814h4v4h-4zM480 818h16v4h-16z"/><path fill="#535353" d="M436 494h4v4h-4zM520 498h4v4h-4zM544 506h4v4h-4zM568 518h4v4h-4zM580 526h4v4h-4zM332 542h4v4h-4zM312 562h4v4h-4zM440 566h4v4h-4zM416 574h4v4h-4zM456 582h4v4h-4zM464 586h4v4h-4zM480 602h4v4h-4zM484 610h4v4h-4zM488 622h4v4h-4zM640 622h4v4h-4zM368 630h4v4h-4zM364 646h4v4h-4zM488 646h4v4h-4zM484 658h4v4h-4zM388 666h4v4h-4zM644 666h4v4h-4zM476 670h4v4h-4zM472 674h4v4h-4zM364 678h4v4h-4zM400 678h4v4h-4zM468 678h4v4h-4zM368 694h4v4h-4zM396 706h4v4h-4zM384 726h4v4h-4zM404 746h4v4h-4zM428 758h4v4h-4zM608 758h4v4h-4zM444 762h4v4h-4zM472 762h4v4h-4zM568 794h4v4h-4zM400 798h4v4h-4zM408 802h4v4h-4zM416 806h4v4h-4zM428 810h4v4h-4zM536 810h4v4h-4zM444 814h4v4h-4zM472 818h8v4h-8zM496 818h8v4h-8z"/><path fill="#545454" d="M500 494h4v4h-4zM400 502h4v4h-4zM476 566h4v4h-4zM304 570h4v4h-4zM500 574h4v4h-4zM480 578h4v4h-4zM452 582h4v4h-4zM468 590h4v4h-4zM472 594h4v4h-4zM476 598h4v4h-4zM528 602h8v4h-8zM544 622h4v4h-4zM488 626h4v4h-4zM548 634h4v4h-4zM488 642h4v4h-4zM644 646h4v4h-4zM364 650h4v4h-4zM384 658h4v4h-4zM392 670h4v4h-4zM364 674h4v4h-4zM396 674h4v4h-4zM408 682h4v4h-4zM460 682h4v4h-4zM416 686h4v4h-4zM452 686h4v4h-4zM548 690h4v4h-4zM544 702h4v4h-4zM636 706h4v4h-4zM540 710h4v4h-4zM532 714h4v4h-4zM280 718h4v4h-4zM628 726h4v4h-4zM624 734h4v4h-4zM508 746h4v4h-4zM320 750h4v4h-4zM420 754h4v4h-4zM484 758h4v4h-4zM336 762h4v4h-4zM448 762h4v4h-4zM356 774h4v4h-4zM364 778h4v4h-4zM372 782h4v4h-4zM380 786h4v4h-4zM580 786h4v4h-4zM392 794h4v4h-4zM440 814h4v4h-4zM524 814h4v4h-4zM464 818h8v4h-8zM504 818h4v4h-4z"/><path fill="#555555" d="M432 494h4v4h-4zM412 498h4v4h-4zM352 526h4v4h-4zM336 538h4v4h-4zM308 566h4v4h-4zM444 566h4v4h-4zM300 570h4v4h-4zM460 586h4v4h-4zM380 606h4v4h-4zM480 606h4v4h-4zM484 614h4v4h-4zM540 614h4v4h-4zM488 630h4v4h-4zM488 634h4v4h-4zM488 638h4v4h-4zM364 654h4v4h-4zM484 654h4v4h-4zM388 662h4v4h-4zM480 662h4v4h-4zM364 670h4v4h-4zM644 670h4v4h-4zM464 678h4v4h-4zM420 686h4v4h-4zM448 686h4v4h-4zM284 718h4v4h-4zM292 722h4v4h-4zM532 722h4v4h-4zM388 730h4v4h-4zM400 742h4v4h-4zM412 750h4v4h-4zM432 758h4v4h-4zM452 762h20v4h-20zM348 770h4v4h-4zM384 790h4v4h-4zM404 802h4v4h-4zM556 802h4v4h-4zM412 806h4v4h-4zM548 806h4v4h-4zM424 810h4v4h-4zM436 814h4v4h-4zM456 818h8v4h-8zM508 818h4v4h-4z"/><path fill="#565656" d="M504 494h4v4h-4zM380 510h4v4h-4zM372 514h4v4h-4zM472 566h4v4h-4zM428 570h4v4h-4zM404 582h4v4h-4zM444 582h8v4h-8zM512 582h4v4h-4zM456 586h4v4h-4zM464 590h4v4h-4zM468 594h4v4h-4zM472 598h4v4h-4zM524 598h8v4h-8zM476 602h4v4h-4zM376 614h4v4h-4zM484 618h4v4h-4zM372 622h4v4h-4zM644 642h4v4h-4zM484 650h4v4h-4zM384 654h4v4h-4zM364 658h4v4h-4zM480 658h4v4h-4zM364 662h4v4h-4zM364 666h4v4h-4zM392 666h4v4h-4zM476 666h4v4h-4zM396 670h4v4h-4zM472 670h4v4h-4zM400 674h4v4h-4zM468 674h4v4h-4zM404 678h4v4h-4zM412 682h4v4h-4zM456 682h4v4h-4zM424 686h24v4h-24zM368 690h4v4h-4zM392 698h4v4h-4zM372 702h4v4h-4zM288 718h4v4h-4zM380 718h4v4h-4zM528 718h4v4h-4zM632 718h4v4h-4zM392 734h4v4h-4zM396 738h4v4h-4zM484 742h4v4h-4zM512 742h4v4h-4zM620 742h4v4h-4zM500 750h4v4h-4zM324 754h4v4h-4zM492 754h4v4h-4zM612 754h4v4h-4zM340 766h4v4h-4zM376 786h4v4h-4zM576 790h4v4h-4zM388 794h4v4h-4zM396 798h4v4h-4zM564 798h4v4h-4zM420 810h4v4h-4zM540 810h4v4h-4zM432 814h4v4h-4zM528 814h4v4h-4zM452 818h4v4h-4zM512 818h4v4h-4z"/><path fill="#575757" d="M428 494h4v4h-4zM524 498h4v4h-4zM536 502h4v4h-4zM388 506h4v4h-4zM364 518h4v4h-4zM612 558h4v4h-4zM296 566h4v4h-4zM448 566h4v4h-4zM488 570h4v4h-4zM624 578h4v4h-4zM440 582h4v4h-4zM452 586h4v4h-4zM628 586h4v4h-4zM460 590h4v4h-4zM384 602h4v4h-4zM636 606h4v4h-4zM480 610h4v4h-4zM484 622h4v4h-4zM484 626h4v4h-4zM368 634h4v4h-4zM484 642h4v4h-4zM484 646h4v4h-4zM384 650h4v4h-4zM388 658h4v4h-4zM476 662h4v4h-4zM408 678h4v4h-4zM460 678h4v4h-4zM416 682h4v4h-4zM452 682h4v4h-4zM548 686h4v4h-4zM640 694h4v4h-4zM376 710h4v4h-4zM528 726h4v4h-4zM408 746h4v4h-4zM416 750h4v4h-4zM424 754h4v4h-4zM328 758h4v4h-4zM436 758h4v4h-4zM480 758h4v4h-4zM352 774h4v4h-4zM360 778h4v4h-4zM368 782h4v4h-4zM400 802h4v4h-4zM408 806h4v4h-4zM428 814h4v4h-4zM444 818h8v4h-8zM516 818h4v4h-4z"/><path fill="#585858" d="M508 494h4v4h-4zM576 522h4v4h-4zM340 534h4v4h-4zM300 566h4v4h-4zM452 566h4v4h-4zM468 566h4v4h-4zM620 570h4v4h-4zM420 574h4v4h-4zM412 578h4v4h-4zM448 586h4v4h-4zM516 586h4v4h-4zM464 594h4v4h-4zM520 594h4v4h-4zM468 598h4v4h-4zM472 602h4v4h-4zM476 606h4v4h-4zM480 614h4v4h-4zM484 630h4v4h-4zM484 634h4v4h-4zM484 638h4v4h-4zM388 654h4v4h-4zM480 654h4v4h-4zM392 662h4v4h-4zM396 666h4v4h-4zM472 666h4v4h-4zM400 670h4v4h-4zM468 670h4v4h-4zM404 674h4v4h-4zM464 674h4v4h-4zM644 674h4v4h-4zM456 678h4v4h-4zM420 682h4v4h-4zM444 682h8v4h-8zM388 690h4v4h-4zM384 722h4v4h-4zM524 722h4v4h-4zM524 730h4v4h-4zM520 734h4v4h-4zM516 738h4v4h-4zM404 742h4v4h-4zM440 758h4v4h-4zM476 758h4v4h-4zM332 762h4v4h-4zM344 770h4v4h-4zM600 770h4v4h-4zM596 774h4v4h-4zM592 778h4v4h-4zM588 782h4v4h-4zM372 786h4v4h-4zM380 790h4v4h-4zM572 794h4v4h-4zM392 798h4v4h-4zM552 806h4v4h-4zM416 810h4v4h-4zM532 814h4v4h-4zM440 818h4v4h-4zM472 822h24v4h-24z"/><path fill="#595959" d="M424 494h4v4h-4zM408 498h4v4h-4zM396 502h4v4h-4zM556 510h4v4h-4zM356 522h4v4h-4zM596 538h4v4h-4zM456 566h12v4h-12zM432 570h4v4h-4zM400 586h4v4h-4zM444 586h4v4h-4zM456 590h4v4h-4zM520 590h4v4h-4zM524 594h4v4h-4zM632 594h4v4h-4zM388 598h4v4h-4zM476 610h4v4h-4zM480 618h4v4h-4zM640 618h4v4h-4zM368 638h4v4h-4zM644 638h4v4h-4zM388 650h4v4h-4zM480 650h4v4h-4zM392 658h4v4h-4zM476 658h4v4h-4zM460 674h4v4h-4zM412 678h4v4h-4zM452 678h4v4h-4zM424 682h20v4h-20zM368 686h4v4h-4zM372 698h4v4h-4zM544 698h4v4h-4zM636 710h4v4h-4zM536 714h4v4h-4zM280 722h4v4h-4zM388 726h4v4h-4zM520 726h4v4h-4zM308 742h4v4h-4zM312 746h4v4h-4zM504 746h4v4h-4zM496 750h4v4h-4zM616 750h4v4h-4zM428 754h4v4h-4zM488 754h4v4h-4zM444 758h4v4h-4zM604 766h4v4h-4zM356 778h4v4h-4zM364 782h4v4h-4zM584 786h4v4h-4zM384 794h4v4h-4zM396 802h4v4h-4zM560 802h4v4h-4zM404 806h4v4h-4zM412 810h4v4h-4zM544 810h4v4h-4zM424 814h4v4h-4zM436 818h4v4h-4zM520 818h4v4h-4zM460 822h12v4h-12zM496 822h8v4h-8z"/><path fill="#5a5a5a" d="M512 494h4v4h-4zM548 506h4v4h-4zM564 514h4v4h-4zM592 534h4v4h-4zM600 542h4v4h-4zM304 566h4v4h-4zM496 574h4v4h-4zM504 578h4v4h-4zM432 586h12v4h-12zM396 590h4v4h-4zM452 590h4v4h-4zM392 594h4v4h-4zM460 594h4v4h-4zM472 606h4v4h-4zM380 610h4v4h-4zM536 610h4v4h-4zM480 622h4v4h-4zM372 626h4v4h-4zM480 626h4v4h-4zM480 642h4v4h-4zM388 646h4v4h-4zM480 646h4v4h-4zM476 654h4v4h-4zM396 662h4v4h-4zM472 662h4v4h-4zM468 666h4v4h-4zM404 670h4v4h-4zM464 670h4v4h-4zM408 674h4v4h-4zM416 678h4v4h-4zM368 682h4v4h-4zM376 706h4v4h-4zM540 706h4v4h-4zM380 714h4v4h-4zM284 722h4v4h-4zM392 730h4v4h-4zM628 730h4v4h-4zM396 734h4v4h-4zM304 738h4v4h-4zM400 738h4v4h-4zM624 738h4v4h-4zM412 746h4v4h-4zM316 750h4v4h-4zM420 750h4v4h-4zM448 758h4v4h-4zM472 758h4v4h-4zM608 762h4v4h-4zM336 766h4v4h-4zM348 774h4v4h-4zM368 786h4v4h-4zM376 790h4v4h-4zM388 798h4v4h-4zM568 798h4v4h-4zM420 814h4v4h-4zM536 814h4v4h-4zM432 818h4v4h-4zM524 818h4v4h-4zM452 822h8v4h-8zM504 822h4v4h-4z"/><path fill="#5b5b5b" d="M476 490h4v4h-4zM528 498h4v4h-4zM344 530h4v4h-4zM448 590h4v4h-4zM464 598h4v4h-4zM468 602h4v4h-4zM476 614h4v4h-4zM376 618h4v4h-4zM480 630h4v4h-4zM480 634h4v4h-4zM388 638h4v4h-4zM480 638h4v4h-4zM368 642h4v4h-4zM388 642h4v4h-4zM392 654h4v4h-4zM400 666h4v4h-4zM412 674h4v4h-4zM456 674h4v4h-4zM420 678h4v4h-4zM444 678h8v4h-8zM644 678h4v4h-4zM640 698h4v4h-4zM288 722h4v4h-4zM632 722h4v4h-4zM300 734h4v4h-4zM508 742h4v4h-4zM320 754h4v4h-4zM432 754h4v4h-4zM484 754h4v4h-4zM452 758h20v4h-20zM340 770h4v4h-4zM352 778h4v4h-4zM360 782h4v4h-4zM580 790h4v4h-4zM380 794h4v4h-4zM392 802h4v4h-4zM400 806h4v4h-4zM408 810h4v4h-4zM448 822h4v4h-4zM508 822h4v4h-4z"/><path fill="#5c5c5c" d="M448 490h28v4h-28zM480 490h8v4h-8zM420 494h4v4h-4zM540 502h4v4h-4zM376 510h4v4h-4zM588 530h4v4h-4zM604 546h4v4h-4zM300 562h4v4h-4zM484 570h4v4h-4zM408 582h4v4h-4zM424 590h4v4h-4zM444 590h4v4h-4zM456 594h4v4h-4zM472 610h4v4h-4zM476 618h4v4h-4zM388 634h4v4h-4zM644 634h4v4h-4zM392 650h4v4h-4zM476 650h4v4h-4zM396 658h4v4h-4zM472 658h4v4h-4zM468 662h4v4h-4zM464 666h4v4h-4zM408 670h4v4h-4zM460 670h4v4h-4zM452 674h4v4h-4zM368 678h4v4h-4zM424 678h20v4h-20zM372 694h4v4h-4zM384 718h4v4h-4zM532 718h4v4h-4zM408 742h4v4h-4zM444 742h4v4h-4zM620 746h4v4h-4zM324 758h4v4h-4zM612 758h4v4h-4zM372 790h4v4h-4zM384 798h4v4h-4zM556 806h4v4h-4zM548 810h4v4h-4zM416 814h4v4h-4zM428 818h4v4h-4zM528 818h4v4h-4zM444 822h4v4h-4zM512 822h4v4h-4z"/><path fill="#5d5d5d" d="M444 490h4v4h-4zM488 490h4v4h-4zM516 494h4v4h-4zM404 498h4v4h-4zM384 506h4v4h-4zM368 514h4v4h-4zM572 518h4v4h-4zM616 562h4v4h-4zM436 570h4v4h-4zM424 574h4v4h-4zM428 590h16v4h-16zM452 594h4v4h-4zM460 598h4v4h-4zM464 602h4v4h-4zM384 606h4v4h-4zM468 606h4v4h-4zM476 622h4v4h-4zM372 630h4v4h-4zM368 646h4v4h-4zM476 646h4v4h-4zM472 654h4v4h-4zM400 662h4v4h-4zM404 666h4v4h-4zM416 674h4v4h-4zM644 682h4v4h-4zM528 722h4v4h-4zM296 730h4v4h-4zM512 738h4v4h-4zM416 746h4v4h-4zM500 746h4v4h-4zM424 750h4v4h-4zM492 750h4v4h-4zM436 754h4v4h-4zM480 754h4v4h-4zM328 762h4v4h-4zM344 774h4v4h-4zM364 786h4v4h-4zM576 794h4v4h-4zM564 802h4v4h-4zM396 806h4v4h-4zM404 810h4v4h-4zM540 814h4v4h-4zM424 818h4v4h-4zM440 822h4v4h-4zM476 826h12v4h-12z"/><path fill="#5e5e5e" d="M440 490h4v4h-4zM492 490h4v4h-4zM392 502h4v4h-4zM348 526h4v4h-4zM304 562h4v4h-4zM416 578h4v4h-4zM636 602h4v4h-4zM472 614h4v4h-4zM640 614h4v4h-4zM476 626h4v4h-4zM476 630h4v4h-4zM476 634h4v4h-4zM476 638h4v4h-4zM392 642h4v4h-4zM476 642h4v4h-4zM392 646h4v4h-4zM368 650h4v4h-4zM396 654h4v4h-4zM468 658h4v4h-4zM412 670h4v4h-4zM456 670h4v4h-4zM368 674h4v4h-4zM420 674h4v4h-4zM448 674h4v4h-4zM376 702h4v4h-4zM380 710h4v4h-4zM636 714h4v4h-4zM388 722h4v4h-4zM284 726h4v4h-4zM508 734h4v4h-4zM404 738h4v4h-4zM448 742h4v4h-4zM332 766h4v4h-4zM356 782h4v4h-4zM376 794h4v4h-4zM388 802h4v4h-4zM412 814h4v4h-4zM436 822h4v4h-4zM516 822h4v4h-4zM464 826h12v4h-12zM488 826h8v4h-8z"/><path fill="#5f5f5f" d="M496 490h4v4h-4zM416 494h4v4h-4zM360 518h4v4h-4zM584 526h4v4h-4zM300 558h4v4h-4zM308 562h4v4h-4zM480 570h4v4h-4zM508 582h4v4h-4zM404 586h4v4h-4zM420 594h4v4h-4zM448 594h4v4h-4zM412 598h4v4h-4zM456 598h4v4h-4zM460 602h4v4h-4zM468 610h4v4h-4zM380 614h4v4h-4zM472 618h4v4h-4zM376 622h4v4h-4zM392 626h4v4h-4zM392 630h4v4h-4zM392 634h4v4h-4zM392 638h4v4h-4zM472 650h4v4h-4zM368 654h4v4h-4zM400 658h4v4h-4zM464 662h4v4h-4zM408 666h4v4h-4zM460 666h4v4h-4zM368 670h4v4h-4zM384 674h4v4h-4zM424 674h4v4h-4zM444 674h4v4h-4zM372 690h4v4h-4zM640 702h4v4h-4zM536 710h4v4h-4zM288 726h8v4h-8zM392 726h4v4h-4zM524 726h4v4h-4zM520 730h4v4h-4zM400 734h4v4h-4zM516 734h4v4h-4zM440 754h4v4h-4zM476 754h4v4h-4zM616 754h4v4h-4zM336 770h4v4h-4zM600 774h4v4h-4zM348 778h4v4h-4zM596 778h4v4h-4zM592 782h4v4h-4zM368 790h4v4h-4zM380 798h4v4h-4zM572 798h4v4h-4zM420 818h4v4h-4zM532 818h4v4h-4zM520 822h4v4h-4zM456 826h8v4h-8zM496 826h4v4h-4z"/><path fill="#606060" d="M436 490h4v4h-4zM532 498h4v4h-4zM552 506h4v4h-4zM608 550h4v4h-4zM440 570h4v4h-4zM492 574h4v4h-4zM628 582h4v4h-4zM508 586h4v4h-4zM424 594h4v4h-4zM444 594h4v4h-4zM388 602h4v4h-4zM408 602h4v4h-4zM404 606h4v4h-4zM464 606h4v4h-4zM396 618h4v4h-4zM472 622h4v4h-4zM644 630h4v4h-4zM372 634h4v4h-4zM472 646h4v4h-4zM396 650h4v4h-4zM468 654h4v4h-4zM368 658h4v4h-4zM368 662h4v4h-4zM404 662h4v4h-4zM368 666h4v4h-4zM416 670h4v4h-4zM452 670h4v4h-4zM428 674h16v4h-16zM644 686h4v4h-4zM396 730h4v4h-4zM628 734h4v4h-4zM412 742h4v4h-4zM428 750h4v4h-4zM488 750h4v4h-4zM444 754h4v4h-4zM604 770h4v4h-4zM360 786h4v4h-4zM588 786h4v4h-4zM392 806h4v4h-4zM560 806h4v4h-4zM400 810h4v4h-4zM552 810h4v4h-4zM408 814h4v4h-4zM544 814h4v4h-4zM432 822h4v4h-4zM452 826h4v4h-4zM500 826h4v4h-4z"/><path fill="#616161" d="M500 490h4v4h-4zM520 494h4v4h-4zM560 510h4v4h-4zM328 542h4v4h-4zM324 546h4v4h-4zM320 550h4v4h-4zM316 554h4v4h-4zM304 558h4v4h-4zM312 558h4v4h-4zM428 574h4v4h-4zM624 574h4v4h-4zM484 578h4v4h-4zM400 590h4v4h-4zM428 594h16v4h-16zM392 598h4v4h-4zM416 598h4v4h-4zM452 598h4v4h-4zM468 614h4v4h-4zM396 622h4v4h-4zM472 626h4v4h-4zM472 642h4v4h-4zM396 646h4v4h-4zM400 654h4v4h-4zM464 658h4v4h-4zM456 666h4v4h-4zM448 670h4v4h-4zM384 714h4v4h-4zM632 726h4v4h-4zM500 738h4v4h-4zM504 742h4v4h-4zM624 742h4v4h-4zM420 746h4v4h-4zM312 750h4v4h-4zM316 754h4v4h-4zM472 754h4v4h-4zM340 774h4v4h-4zM352 782h4v4h-4zM584 790h4v4h-4zM372 794h4v4h-4zM384 802h4v4h-4zM416 818h4v4h-4zM448 826h4v4h-4zM504 826h4v4h-4z"/><path fill="#626262" d="M432 490h4v4h-4zM400 498h4v4h-4zM544 502h4v4h-4zM332 538h4v4h-4zM452 578h4v4h-4zM500 578h4v4h-4zM632 590h4v4h-4zM396 594h4v4h-4zM448 598h4v4h-4zM412 602h4v4h-4zM456 602h4v4h-4zM460 606h4v4h-4zM464 610h4v4h-4zM400 614h4v4h-4zM396 626h4v4h-4zM472 630h4v4h-4zM472 634h4v4h-4zM472 638h4v4h-4zM396 642h4v4h-4zM468 650h4v4h-4zM404 658h4v4h-4zM408 662h4v4h-4zM460 662h4v4h-4zM412 666h4v4h-4zM420 670h4v4h-4zM372 686h4v4h-4zM376 698h4v4h-4zM380 706h4v4h-4zM308 746h4v4h-4zM496 746h4v4h-4zM432 750h4v4h-4zM448 754h4v4h-4zM320 758h4v4h-4zM324 762h4v4h-4zM608 766h4v4h-4zM364 790h4v4h-4zM568 802h4v4h-4zM536 818h4v4h-4zM428 822h4v4h-4zM524 822h4v4h-4zM444 826h4v4h-4zM508 826h4v4h-4z"/><path fill="#636363" d="M504 490h4v4h-4zM412 494h4v4h-4zM568 514h4v4h-4zM352 522h4v4h-4zM580 522h4v4h-4zM308 558h4v4h-4zM444 570h4v4h-4zM476 570h4v4h-4zM420 578h4v4h-4zM412 582h4v4h-4zM512 586h4v4h-4zM420 598h4v4h-4zM408 606h4v4h-4zM404 610h4v4h-4zM468 618h4v4h-4zM396 630h4v4h-4zM396 634h4v4h-4zM372 638h4v4h-4zM396 638h4v4h-4zM400 650h4v4h-4zM452 666h4v4h-4zM424 670h4v4h-4zM444 670h4v4h-4zM284 730h4v4h-4zM408 738h4v4h-4zM304 742h4v4h-4zM452 754h8v4h-8zM468 754h4v4h-4zM328 766h4v4h-4zM344 778h4v4h-4zM356 786h4v4h-4zM580 794h4v4h-4zM376 798h4v4h-4zM388 806h4v4h-4zM396 810h4v4h-4zM404 814h4v4h-4z"/><path fill="#646464" d="M428 490h4v4h-4zM380 506h4v4h-4zM372 510h4v4h-4zM336 534h4v4h-4zM304 554h4v4h-4zM612 554h4v4h-4zM620 566h4v4h-4zM424 598h4v4h-4zM444 598h4v4h-4zM452 602h4v4h-4zM384 610h4v4h-4zM400 618h4v4h-4zM468 622h4v4h-4zM376 626h4v4h-4zM644 626h4v4h-4zM468 646h4v4h-4zM464 654h4v4h-4zM456 662h4v4h-4zM416 666h4v4h-4zM428 670h16v4h-16zM644 690h4v4h-4zM640 706h4v4h-4zM388 718h4v4h-4zM636 718h4v4h-4zM288 730h4v4h-4zM508 738h4v4h-4zM484 750h4v4h-4zM620 750h4v4h-4zM460 754h8v4h-8zM612 762h4v4h-4zM332 770h4v4h-4zM556 810h4v4h-4zM548 814h4v4h-4zM412 818h4v4h-4zM424 822h4v4h-4zM440 826h4v4h-4zM512 826h4v4h-4z"/><path fill="#656565" d="M536 498h4v4h-4zM388 502h4v4h-4zM364 514h4v4h-4zM448 570h4v4h-4zM500 582h4v4h-4zM516 590h4v4h-4zM428 598h16v4h-16zM416 602h4v4h-4zM456 606h4v4h-4zM460 610h4v4h-4zM640 610h4v4h-4zM404 614h4v4h-4zM464 614h4v4h-4zM380 618h4v4h-4zM400 622h4v4h-4zM468 626h4v4h-4zM468 642h4v4h-4zM400 646h4v4h-4zM404 654h4v4h-4zM408 658h4v4h-4zM460 658h4v4h-4zM412 662h4v4h-4zM448 666h4v4h-4zM372 682h4v4h-4zM404 734h4v4h-4zM416 742h4v4h-4zM424 746h4v4h-4zM436 750h4v4h-4zM348 782h4v4h-4zM368 794h4v4h-4zM380 802h4v4h-4zM528 822h4v4h-4zM436 826h4v4h-4zM468 830h24v4h-24z"/><path fill="#666666" d="M508 490h4v4h-4zM524 494h4v4h-4zM472 570h4v4h-4zM432 574h4v4h-4zM636 598h4v4h-4zM448 602h4v4h-4zM412 606h4v4h-4zM408 610h4v4h-4zM468 630h4v4h-4zM468 634h4v4h-4zM468 638h4v4h-4zM372 642h4v4h-4zM400 642h4v4h-4zM464 650h4v4h-4zM420 666h4v4h-4zM376 694h4v4h-4zM392 722h4v4h-4zM292 730h4v4h-4zM300 738h4v4h-4zM336 774h4v4h-4zM360 790h4v4h-4zM576 798h4v4h-4zM564 806h4v4h-4zM392 810h4v4h-4zM400 814h4v4h-4zM540 818h4v4h-4zM420 822h4v4h-4zM516 826h4v4h-4zM460 830h8v4h-8zM492 830h4v4h-4z"/><path fill="#676767" d="M340 530h4v4h-4zM308 554h4v4h-4zM452 570h4v4h-4zM488 574h4v4h-4zM408 586h4v4h-4zM420 602h4v4h-4zM388 606h4v4h-4zM464 618h4v4h-4zM400 626h4v4h-4zM400 630h4v4h-4zM400 638h4v4h-4zM404 650h4v4h-4zM452 662h4v4h-4zM424 666h4v4h-4zM444 666h4v4h-4zM372 678h4v4h-4zM380 702h4v4h-4zM384 710h4v4h-4zM396 726h4v4h-4zM400 730h4v4h-4zM284 734h4v4h-4zM512 734h4v4h-4zM500 742h4v4h-4zM492 746h4v4h-4zM480 750h4v4h-4zM372 798h4v4h-4zM384 806h4v4h-4zM408 818h4v4h-4zM432 826h4v4h-4zM456 830h4v4h-4zM496 830h4v4h-4z"/><path fill="#686868" d="M424 490h4v4h-4zM408 494h4v4h-4zM396 498h4v4h-4zM304 550h4v4h-4zM468 570h4v4h-4zM424 602h4v4h-4zM444 602h4v4h-4zM452 606h4v4h-4zM460 614h4v4h-4zM404 618h4v4h-4zM400 634h4v4h-4zM464 646h4v4h-4zM460 654h4v4h-4zM456 658h4v4h-4zM648 658h4v4h-4zM416 662h4v4h-4zM648 662h4v4h-4zM428 666h4v4h-4zM440 666h4v4h-4zM632 730h4v4h-4zM296 734h4v4h-4zM628 738h4v4h-4zM440 750h4v4h-4zM616 758h4v4h-4zM340 778h4v4h-4zM596 782h4v4h-4zM352 786h4v4h-4zM364 794h4v4h-4zM416 822h4v4h-4zM532 822h4v4h-4zM452 830h4v4h-4zM500 830h4v4h-4z"/><path fill="#696969" d="M556 506h4v4h-4zM356 518h4v4h-4zM576 518h4v4h-4zM312 554h4v4h-4zM456 570h12v4h-12zM504 582h4v4h-4zM428 602h4v4h-4zM440 602h4v4h-4zM416 606h4v4h-4zM412 610h4v4h-4zM456 610h4v4h-4zM408 614h4v4h-4zM464 622h4v4h-4zM376 630h4v4h-4zM372 646h4v4h-4zM384 646h4v4h-4zM404 646h4v4h-4zM408 654h4v4h-4zM648 654h4v4h-4zM412 658h4v4h-4zM448 662h4v4h-4zM432 666h8v4h-8zM372 674h4v4h-4zM644 694h4v4h-4zM516 730h4v4h-4zM288 734h4v4h-4zM412 738h4v4h-4zM428 746h4v4h-4zM624 746h4v4h-4zM600 778h4v4h-4zM592 786h4v4h-4zM376 802h4v4h-4zM572 802h4v4h-4zM396 814h4v4h-4zM552 814h4v4h-4zM428 826h4v4h-4zM520 826h4v4h-4zM448 830h4v4h-4z"/><path fill="#6a6a6a" d="M456 486h28v4h-28zM512 490h4v4h-4zM548 502h4v4h-4zM596 534h4v4h-4zM308 550h4v4h-4zM424 578h4v4h-4zM416 582h4v4h-4zM428 586h4v4h-4zM404 590h4v4h-4zM392 602h4v4h-4zM432 602h8v4h-8zM448 606h4v4h-4zM404 622h4v4h-4zM644 622h4v4h-4zM464 626h4v4h-4zM464 642h4v4h-4zM460 650h4v4h-4zM648 650h4v4h-4zM420 662h4v4h-4zM648 666h4v4h-4zM376 690h4v4h-4zM640 710h4v4h-4zM388 714h4v4h-4zM420 742h4v4h-4zM444 750h4v4h-4zM476 750h4v4h-4zM312 754h4v4h-4zM316 758h4v4h-4zM320 762h4v4h-4zM324 766h4v4h-4zM604 774h4v4h-4zM344 782h4v4h-4zM356 790h4v4h-4zM588 790h4v4h-4zM388 810h4v4h-4zM560 810h4v4h-4zM404 818h4v4h-4zM544 818h4v4h-4zM444 830h4v4h-4zM504 830h4v4h-4z"/><path fill="#6b6b6b" d="M448 486h8v4h-8zM484 486h4v4h-4zM528 494h4v4h-4zM564 510h4v4h-4zM344 526h4v4h-4zM592 530h4v4h-4zM600 538h4v4h-4zM616 558h4v4h-4zM496 578h4v4h-4zM628 578h4v4h-4zM420 606h4v4h-4zM384 614h4v4h-4zM460 618h4v4h-4zM380 622h4v4h-4zM404 626h4v4h-4zM464 630h4v4h-4zM464 634h4v4h-4zM464 638h4v4h-4zM404 642h4v4h-4zM372 650h4v4h-4zM456 654h4v4h-4zM452 658h4v4h-4zM444 662h4v4h-4zM372 670h4v4h-4zM636 722h4v4h-4zM292 734h4v4h-4zM308 750h4v4h-4zM328 770h4v4h-4zM368 798h4v4h-4zM380 806h4v4h-4zM412 822h4v4h-4zM424 826h4v4h-4z"/><path fill="#6c6c6c" d="M488 486h4v4h-4zM420 490h4v4h-4zM312 550h4v4h-4zM436 574h4v4h-4zM632 586h4v4h-4zM400 594h4v4h-4zM396 598h4v4h-4zM452 610h4v4h-4zM408 618h4v4h-4zM404 630h4v4h-4zM404 634h4v4h-4zM404 638h4v4h-4zM648 646h4v4h-4zM408 650h4v4h-4zM372 654h4v4h-4zM416 658h4v4h-4zM424 662h4v4h-4zM372 666h4v4h-4zM648 670h4v4h-4zM408 734h4v4h-4zM504 738h4v4h-4zM488 746h4v4h-4zM472 750h4v4h-4zM608 770h4v4h-4zM332 774h4v4h-4zM584 794h4v4h-4zM536 822h4v4h-4zM524 826h4v4h-4zM440 830h4v4h-4zM508 830h4v4h-4z"/><path fill="#6d6d6d" d="M444 486h4v4h-4zM540 498h4v4h-4zM376 506h4v4h-4zM604 542h4v4h-4zM308 546h4v4h-4zM316 550h4v4h-4zM624 570h4v4h-4zM484 574h4v4h-4zM488 578h4v4h-4zM424 606h4v4h-4zM444 606h4v4h-4zM416 610h4v4h-4zM412 614h4v4h-4zM456 614h4v4h-4zM376 634h4v4h-4zM460 646h4v4h-4zM412 654h4v4h-4zM372 658h4v4h-4zM372 662h4v4h-4zM428 662h4v4h-4zM440 662h4v4h-4zM380 698h4v4h-4zM384 706h4v4h-4zM392 718h4v4h-4zM288 738h4v4h-4zM304 746h4v4h-4zM432 746h4v4h-4zM448 750h4v4h-4zM620 754h4v4h-4zM348 786h4v4h-4zM360 794h4v4h-4zM568 806h4v4h-4zM392 814h4v4h-4zM400 818h4v4h-4z"/><path fill="#6e6e6e" d="M492 486h4v4h-4zM404 494h4v4h-4zM384 502h4v4h-4zM368 510h4v4h-4zM416 594h4v4h-4zM428 606h4v4h-4zM440 606h4v4h-4zM640 606h4v4h-4zM392 622h4v4h-4zM408 622h4v4h-4zM460 622h4v4h-4zM448 658h4v4h-4zM432 662h8v4h-8zM648 674h4v4h-4zM376 686h4v4h-4zM644 698h4v4h-4zM496 742h4v4h-4zM452 750h4v4h-4zM468 750h4v4h-4zM336 778h4v4h-4zM580 798h4v4h-4zM372 802h4v4h-4zM384 810h4v4h-4zM420 826h4v4h-4zM436 830h4v4h-4zM472 834h8v4h-8z"/><path fill="#6f6f6f" d="M440 486h4v4h-4zM516 490h4v4h-4zM588 526h4v4h-4zM312 546h4v4h-4zM432 606h8v4h-8zM448 610h4v4h-4zM460 626h4v4h-4zM460 642h4v4h-4zM648 642h4v4h-4zM408 646h4v4h-4zM456 650h4v4h-4zM452 654h4v4h-4zM420 658h4v4h-4zM396 722h4v4h-4zM404 730h4v4h-4zM292 738h4v4h-4zM456 750h4v4h-4zM612 766h4v4h-4zM352 790h4v4h-4zM408 822h4v4h-4zM512 830h4v4h-4zM464 834h8v4h-8zM480 834h8v4h-8z"/><path fill="#707070" d="M496 486h4v4h-4zM416 490h4v4h-4zM392 498h4v4h-4zM572 514h4v4h-4zM608 546h4v4h-4zM412 586h4v4h-4zM636 594h4v4h-4zM388 610h4v4h-4zM400 610h4v4h-4zM420 610h4v4h-4zM408 626h4v4h-4zM460 630h4v4h-4zM460 638h4v4h-4zM444 658h4v4h-4zM400 726h4v4h-4zM416 738h4v4h-4zM424 742h4v4h-4zM484 746h4v4h-4zM460 750h8v4h-8zM340 782h4v4h-4zM364 798h4v4h-4zM376 806h4v4h-4zM556 814h4v4h-4zM548 818h4v4h-4zM528 826h4v4h-4zM432 830h4v4h-4zM460 834h4v4h-4zM488 834h4v4h-4z"/><path fill="#717171" d="M436 486h4v4h-4zM360 514h4v4h-4zM348 522h4v4h-4zM316 546h8v4h-8zM440 574h4v4h-4zM416 614h4v4h-4zM412 618h4v4h-4zM456 618h4v4h-4zM460 634h4v4h-4zM408 642h4v4h-4zM416 654h4v4h-4zM424 658h4v4h-4zM384 678h4v4h-4zM640 714h4v4h-4zM632 734h4v4h-4zM296 738h4v4h-4zM300 742h4v4h-4zM628 742h4v4h-4zM436 746h4v4h-4zM396 818h4v4h-4zM540 822h4v4h-4zM416 826h4v4h-4zM456 834h4v4h-4zM492 834h4v4h-4z"/><path fill="#727272" d="M532 494h4v4h-4zM312 542h4v4h-4zM324 542h4v4h-4zM428 578h4v4h-4zM448 578h4v4h-4zM424 610h4v4h-4zM444 610h4v4h-4zM452 614h4v4h-4zM644 618h4v4h-4zM380 626h4v4h-4zM408 630h4v4h-4zM408 634h4v4h-4zM376 638h4v4h-4zM408 638h4v4h-4zM456 646h4v4h-4zM412 650h4v4h-4zM440 658h4v4h-4zM648 678h4v4h-4zM376 682h4v4h-4zM388 710h4v4h-4zM288 742h4v4h-4zM576 802h4v4h-4zM564 810h4v4h-4zM388 814h4v4h-4zM404 822h4v4h-4zM516 830h4v4h-4zM452 834h4v4h-4zM496 834h4v4h-4z"/><path fill="#737373" d="M500 486h4v4h-4zM584 522h4v4h-4zM620 562h4v4h-4zM420 582h4v4h-4zM384 618h4v4h-4zM648 638h4v4h-4zM452 650h4v4h-4zM448 654h4v4h-4zM428 658h12v4h-12zM380 694h4v4h-4zM616 762h4v4h-4zM344 786h4v4h-4zM356 794h4v4h-4zM368 802h4v4h-4zM380 810h4v4h-4zM428 830h4v4h-4zM448 834h4v4h-4z"/><path fill="#747474" d="M520 490h4v4h-4zM552 502h4v4h-4zM328 538h4v4h-4zM316 542h4v4h-4zM480 574h4v4h-4zM428 610h4v4h-4zM440 610h4v4h-4zM412 622h4v4h-4zM456 642h4v4h-4zM384 702h4v4h-4zM636 726h4v4h-4zM412 734h4v4h-4zM292 742h4v4h-4zM624 750h4v4h-4zM316 762h4v4h-4zM320 766h4v4h-4zM324 770h4v4h-4zM500 834h4v4h-4z"/><path fill="#757575" d="M432 486h4v4h-4zM400 494h4v4h-4zM560 506h4v4h-4zM492 578h4v4h-4zM408 590h4v4h-4zM392 606h4v4h-4zM432 610h8v4h-8zM420 614h4v4h-4zM416 618h4v4h-4zM456 622h4v4h-4zM420 654h4v4h-4zM644 702h4v4h-4zM492 742h4v4h-4zM440 746h4v4h-4zM480 746h4v4h-4zM312 758h4v4h-4zM328 774h4v4h-4zM600 782h4v4h-4zM596 786h4v4h-4zM412 826h4v4h-4zM532 826h4v4h-4zM424 830h4v4h-4zM520 830h4v4h-4zM444 834h4v4h-4z"/><path fill="#767676" d="M544 498h4v4h-4zM332 534h4v4h-4zM320 542h4v4h-4zM612 550h4v4h-4zM444 574h4v4h-4zM412 626h4v4h-4zM456 638h4v4h-4zM376 642h4v4h-4zM444 654h4v4h-4zM376 678h4v4h-4zM648 682h4v4h-4zM392 714h4v4h-4zM296 742h4v4h-4zM428 742h4v4h-4zM308 754h4v4h-4zM332 778h4v4h-4zM604 778h4v4h-4zM348 790h4v4h-4zM592 790h4v4h-4zM360 798h4v4h-4zM372 806h4v4h-4zM572 806h4v4h-4zM392 818h4v4h-4z"/><path fill="#777777" d="M504 486h4v4h-4zM412 490h4v4h-4zM316 538h4v4h-4zM436 582h4v4h-4zM448 614h4v4h-4zM456 626h4v4h-4zM456 634h4v4h-4zM412 646h4v4h-4zM452 646h4v4h-4zM448 650h4v4h-4zM420 738h4v4h-4zM432 738h4v4h-4zM292 746h4v4h-4zM588 794h4v4h-4zM384 814h4v4h-4zM552 818h4v4h-4zM400 822h4v4h-4zM440 834h4v4h-4zM504 834h4v4h-4z"/><path fill="#787878" d="M352 518h4v4h-4zM320 538h4v4h-4zM396 602h4v4h-4zM640 602h4v4h-4zM424 614h4v4h-4zM412 630h4v4h-4zM456 630h4v4h-4zM648 634h4v4h-4zM424 654h4v4h-4zM440 654h4v4h-4zM408 730h4v4h-4zM336 782h4v4h-4zM560 814h4v4h-4zM544 822h4v4h-4z"/><path fill="#797979" d="M428 486h4v4h-4zM380 502h4v4h-4zM372 506h4v4h-4zM568 510h4v4h-4zM336 530h4v4h-4zM316 534h4v4h-4zM404 594h4v4h-4zM416 622h4v4h-4zM380 630h4v4h-4zM412 634h4v4h-4zM384 642h4v4h-4zM376 646h4v4h-4zM376 674h4v4h-4zM380 690h4v4h-4zM396 718h4v4h-4zM424 734h4v4h-4zM296 746h4v4h-4zM444 746h4v4h-4zM476 746h4v4h-4zM304 750h4v4h-4zM620 758h4v4h-4zM608 774h4v4h-4zM352 794h4v4h-4zM364 802h4v4h-4zM376 810h4v4h-4zM408 826h4v4h-4zM420 830h4v4h-4zM436 834h4v4h-4z"/><path fill="#7a7a7a" d="M388 498h4v4h-4zM580 518h4v4h-4zM324 538h4v4h-4zM476 574h4v4h-4zM432 578h4v4h-4zM632 582h4v4h-4zM400 598h4v4h-4zM428 614h4v4h-4zM444 614h4v4h-4zM420 618h4v4h-4zM452 618h4v4h-4zM412 638h4v4h-4zM412 642h4v4h-4zM452 642h4v4h-4zM416 650h4v4h-4zM428 654h12v4h-12zM648 686h4v4h-4zM640 718h4v4h-4zM300 746h4v4h-4zM292 750h4v4h-4zM340 786h4v4h-4zM584 798h4v4h-4zM536 826h4v4h-4zM524 830h4v4h-4zM508 834h4v4h-4z"/><path fill="#7b7b7b" d="M364 510h4v4h-4zM320 534h4v4h-4zM448 574h4v4h-4zM628 574h4v4h-4zM420 590h4v4h-4zM388 614h4v4h-4zM644 614h4v4h-4zM444 650h4v4h-4zM388 706h4v4h-4zM400 722h4v4h-4zM404 726h4v4h-4zM412 726h4v4h-4zM468 838h12v4h-12z"/><path fill="#7c7c7c" d="M508 486h4v4h-4zM524 490h4v4h-4zM536 494h4v4h-4zM416 586h4v4h-4zM432 614h4v4h-4zM440 614h4v4h-4zM384 622h4v4h-4zM388 630h4v4h-4zM448 646h4v4h-4zM376 650h4v4h-4zM376 670h4v4h-4zM384 698h4v4h-4zM644 706h4v4h-4zM632 738h4v4h-4zM432 742h4v4h-4zM448 746h4v4h-4zM296 750h4v4h-4zM612 770h4v4h-4zM356 798h4v4h-4zM368 806h4v4h-4zM568 810h4v4h-4zM388 818h4v4h-4zM396 822h4v4h-4zM432 834h4v4h-4zM460 838h8v4h-8zM480 838h4v4h-4z"/><path fill="#7d7d7d" d="M320 530h4v4h-4zM324 534h4v4h-4zM424 582h4v4h-4zM436 614h4v4h-4zM416 626h4v4h-4zM452 638h4v4h-4zM416 734h4v4h-4zM472 746h4v4h-4zM628 746h4v4h-4zM344 790h4v4h-4zM580 802h4v4h-4zM380 814h4v4h-4zM416 830h4v4h-4zM512 834h4v4h-4zM456 838h4v4h-4zM484 838h4v4h-4z"/><path fill="#7e7e7e" d="M424 486h4v4h-4zM408 490h4v4h-4zM340 526h4v4h-4zM616 554h4v4h-4zM472 574h4v4h-4zM636 590h4v4h-4zM396 614h4v4h-4zM424 618h4v4h-4zM376 654h4v4h-4zM376 666h4v4h-4zM400 714h4v4h-4zM404 718h4v4h-4zM408 722h4v4h-4zM300 750h4v4h-4zM404 826h4v4h-4zM488 838h4v4h-4z"/><path fill="#7f7f7f" d="M396 494h4v4h-4zM324 530h4v4h-4zM328 534h4v4h-4zM624 566h4v4h-4zM452 574h4v4h-4zM420 622h4v4h-4zM648 630h4v4h-4zM380 634h4v4h-4zM440 650h4v4h-4zM376 658h4v4h-4zM376 662h4v4h-4zM380 686h4v4h-4zM636 730h4v4h-4zM424 738h4v4h-4zM452 746h4v4h-4zM468 746h4v4h-4zM296 754h4v4h-4zM320 770h4v4h-4zM324 774h4v4h-4zM372 810h4v4h-4zM548 822h4v4h-4zM528 830h4v4h-4zM428 834h4v4h-4zM452 838h4v4h-4z"/><path fill="#808080" d="M456 482h24v4h-24zM444 578h4v4h-4zM648 690h4v4h-4zM392 702h4v4h-4zM456 746h4v4h-4zM300 754h4v4h-4zM316 766h4v4h-4zM328 778h4v4h-4zM360 802h4v4h-4zM556 818h4v4h-4zM448 838h4v4h-4zM492 838h4v4h-4z"/><path fill="#818181" d="M452 482h4v4h-4zM480 482h4v4h-4zM324 526h4v4h-4zM328 530h4v4h-4zM392 610h4v4h-4zM416 630h4v4h-4zM452 634h4v4h-4zM448 642h4v4h-4zM388 694h4v4h-4zM392 710h4v4h-4zM460 746h8v4h-8zM304 754h4v4h-4zM624 754h4v4h-4zM296 758h4v4h-4zM312 762h4v4h-4zM616 766h4v4h-4zM348 794h4v4h-4zM392 822h4v4h-4zM412 830h4v4h-4zM516 834h4v4h-4z"/><path fill="#828282" d="M484 482h4v4h-4zM512 486h4v4h-4zM556 502h4v4h-4zM356 514h4v4h-4zM576 514h4v4h-4zM456 574h4v4h-4zM468 574h4v4h-4zM436 578h4v4h-4zM428 618h4v4h-4zM452 622h4v4h-4zM444 646h4v4h-4zM420 650h4v4h-4zM436 650h4v4h-4zM436 742h4v4h-4zM308 758h4v4h-4zM332 782h4v4h-4zM576 806h4v4h-4zM564 814h4v4h-4zM384 818h4v4h-4zM540 826h4v4h-4zM424 834h4v4h-4zM444 838h4v4h-4zM496 838h4v4h-4z"/><path fill="#838383" d="M448 482h4v4h-4zM548 498h4v4h-4zM328 526h4v4h-4zM332 530h4v4h-4zM596 530h4v4h-4zM600 534h4v4h-4zM460 574h4v4h-4zM432 582h4v4h-4zM412 590h4v4h-4zM384 682h4v4h-4zM412 730h4v4h-4zM300 758h4v4h-4zM364 806h4v4h-4zM400 826h4v4h-4z"/><path fill="#848484" d="M488 482h4v4h-4zM420 486h4v4h-4zM344 522h4v4h-4zM464 574h4v4h-4zM448 618h4v4h-4zM416 646h4v4h-4zM384 694h4v4h-4zM336 786h4v4h-4zM376 814h4v4h-4zM500 838h4v4h-4z"/><path fill="#858585" d="M444 482h4v4h-4zM528 490h4v4h-4zM564 506h4v4h-4zM328 522h4v4h-4zM332 526h4v4h-4zM604 538h4v4h-4zM424 586h4v4h-4zM384 626h4v4h-4zM452 630h4v4h-4zM380 638h4v4h-4zM380 682h4v4h-4zM388 702h4v4h-4zM640 722h4v4h-4zM304 758h4v4h-4zM352 798h4v4h-4zM440 838h4v4h-4z"/><path fill="#868686" d="M592 526h4v4h-4zM640 598h4v4h-4zM644 610h4v4h-4zM388 618h4v4h-4zM424 622h4v4h-4zM420 626h4v4h-4zM416 634h4v4h-4zM432 650h4v4h-4zM644 710h4v4h-4zM396 714h4v4h-4zM300 762h4v4h-4zM600 786h4v4h-4zM596 790h4v4h-4zM408 830h4v4h-4zM532 830h4v4h-4z"/><path fill="#878787" d="M492 482h4v4h-4zM540 494h4v4h-4zM384 498h4v4h-4zM376 502h4v4h-4zM332 522h4v4h-4zM336 526h4v4h-4zM412 594h4v4h-4zM396 606h4v4h-4zM432 618h4v4h-4zM452 626h4v4h-4zM648 626h4v4h-4zM424 650h4v4h-4zM648 694h4v4h-4zM408 726h4v4h-4zM428 738h4v4h-4zM304 762h4v4h-4zM604 782h4v4h-4zM340 790h4v4h-4zM592 794h4v4h-4zM368 810h4v4h-4zM420 834h4v4h-4zM520 834h4v4h-4z"/><path fill="#888888" d="M440 482h4v4h-4zM404 490h4v4h-4zM608 542h4v4h-4zM620 558h4v4h-4zM408 594h4v4h-4zM428 650h4v4h-4zM420 734h4v4h-4zM440 742h4v4h-4zM300 766h4v4h-4zM356 802h4v4h-4zM572 810h4v4h-4zM388 822h4v4h-4zM436 838h4v4h-4zM504 838h4v4h-4z"/><path fill="#898989" d="M516 486h4v4h-4zM368 506h4v4h-4zM332 518h4v4h-4zM336 522h4v4h-4zM428 582h4v4h-4zM420 586h4v4h-4zM400 606h4v4h-4zM392 618h4v4h-4zM388 626h4v4h-4zM384 638h4v4h-4zM448 638h4v4h-4zM400 718h4v4h-4zM404 722h4v4h-4zM308 762h4v4h-4zM620 762h4v4h-4zM588 798h4v4h-4zM380 818h4v4h-4zM552 822h4v4h-4zM396 826h4v4h-4z"/><path fill="#8a8a8a" d="M588 522h4v4h-4zM408 598h4v4h-4zM400 602h8v4h-8zM440 646h4v4h-4zM380 678h4v4h-4zM632 742h4v4h-4zM304 766h4v4h-4zM608 778h4v4h-4zM344 794h4v4h-4zM544 826h4v4h-4z"/><path fill="#8b8b8b" d="M496 482h4v4h-4zM416 486h4v4h-4zM392 494h4v4h-4zM336 518h4v4h-4zM348 518h4v4h-4zM340 522h4v4h-4zM440 578h4v4h-4zM632 578h4v4h-4zM404 598h4v4h-4zM380 642h4v4h-4zM372 814h4v4h-4zM560 818h4v4h-4zM416 834h4v4h-4zM432 838h4v4h-4z"/><path fill="#8c8c8c" d="M436 482h4v4h-4zM572 510h4v4h-4zM436 618h4v4h-4zM444 618h4v4h-4zM416 638h4v4h-4zM416 642h4v4h-4zM652 658h4v4h-4zM652 662h4v4h-4zM636 734h4v4h-4zM628 750h4v4h-4zM308 766h8v4h-8zM304 770h4v4h-4zM584 802h4v4h-4zM360 806h4v4h-4zM404 830h4v4h-4zM508 838h4v4h-4zM468 842h8v4h-8z"/><path fill="#8d8d8d" d="M360 510h4v4h-4zM336 514h4v4h-4zM340 518h4v4h-4zM612 546h4v4h-4zM628 570h4v4h-4zM636 586h4v4h-4zM648 622h4v4h-4zM444 642h4v4h-4zM652 654h4v4h-4zM652 666h4v4h-4zM384 690h4v4h-4zM392 706h4v4h-4zM316 770h4v4h-4zM320 774h4v4h-4zM612 774h4v4h-4zM324 778h4v4h-4zM524 834h4v4h-4zM460 842h8v4h-8zM476 842h4v4h-4z"/><path fill="#8e8e8e" d="M384 630h4v4h-4zM652 650h4v4h-4zM652 670h4v4h-4zM648 698h4v4h-4zM308 770h4v4h-4zM328 782h4v4h-4zM348 798h4v4h-4zM536 830h4v4h-4zM480 842h4v4h-4z"/><path fill="#8f8f8f" d="M500 482h4v4h-4zM532 490h4v4h-4zM340 514h4v4h-4zM644 606h4v4h-4zM392 614h4v4h-4zM440 618h4v4h-4zM380 646h4v4h-4zM652 646h4v4h-4zM380 674h4v4h-4zM644 714h4v4h-4zM416 730h4v4h-4zM312 770h4v4h-4zM332 786h4v4h-4zM568 814h4v4h-4zM384 822h4v4h-4zM428 838h4v4h-4zM456 842h4v4h-4zM484 842h4v4h-4z"/><path fill="#909090" d="M432 482h4v4h-4zM344 518h4v4h-4zM584 518h4v4h-4zM652 674h4v4h-4zM388 698h4v4h-4zM640 726h4v4h-4zM308 774h4v4h-4zM364 810h4v4h-4zM392 826h4v4h-4zM412 834h4v4h-4zM512 838h4v4h-4zM452 842h4v4h-4zM488 842h4v4h-4z"/><path fill="#919191" d="M520 486h4v4h-4zM552 498h4v4h-4zM344 514h4v4h-4zM640 594h4v4h-4zM388 622h4v4h-4zM428 622h4v4h-4zM420 630h4v4h-4zM624 758h4v4h-4zM336 790h4v4h-4zM352 802h4v4h-4zM580 806h4v4h-4zM376 818h4v4h-4zM448 842h4v4h-4z"/><path fill="#929292" d="M400 490h4v4h-4zM560 502h4v4h-4zM352 514h4v4h-4zM624 562h4v4h-4zM416 590h4v4h-4zM652 642h4v4h-4zM380 650h4v4h-4zM380 670h4v4h-4zM652 678h4v4h-4zM616 770h4v4h-4zM312 774h4v4h-4zM308 778h4v4h-4zM400 830h4v4h-4zM424 838h4v4h-4zM492 842h4v4h-4z"/><path fill="#939393" d="M504 482h4v4h-4zM412 486h4v4h-4zM344 510h4v4h-4zM616 550h4v4h-4zM648 618h4v4h-4zM436 646h4v4h-4zM648 702h4v4h-4zM396 710h4v4h-4zM316 774h4v4h-4zM312 778h4v4h-4zM556 822h4v4h-4zM548 826h4v4h-4zM528 834h4v4h-4zM444 842h4v4h-4z"/><path fill="#949494" d="M544 494h4v4h-4zM348 514h4v4h-4zM448 634h4v4h-4zM380 654h4v4h-4zM380 666h4v4h-4zM384 686h4v4h-4zM340 794h4v4h-4zM356 806h4v4h-4zM368 814h4v4h-4zM496 842h4v4h-4z"/><path fill="#959595" d="M428 482h4v4h-4zM380 498h4v4h-4zM348 510h4v4h-4zM580 514h4v4h-4zM396 610h4v4h-4zM448 622h4v4h-4zM424 626h4v4h-4zM384 634h4v4h-4zM652 638h4v4h-4zM420 646h4v4h-4zM380 658h4v4h-4zM380 662h4v4h-4zM652 682h4v4h-4zM316 778h8v4h-8zM312 782h4v4h-4zM576 810h4v4h-4zM540 830h4v4h-4zM408 834h4v4h-4zM516 838h4v4h-4zM440 842h4v4h-4z"/><path fill="#969696" d="M372 502h4v4h-4zM348 506h4v4h-4zM568 506h4v4h-4zM352 510h4v4h-4zM600 530h4v4h-4zM604 534h4v4h-4zM620 554h4v4h-4zM632 574h4v4h-4zM636 582h4v4h-4zM644 602h4v4h-4zM652 626h4v4h-4zM652 630h4v4h-4zM652 634h8v4h-8zM656 638h4v4h-4zM656 642h4v4h-4zM656 646h4v4h-4zM656 650h4v4h-4zM656 654h4v4h-4zM644 718h4v4h-4zM636 738h4v4h-4zM632 746h4v4h-4zM316 782h4v4h-4zM344 798h4v4h-4zM564 818h4v4h-4zM380 822h4v4h-4zM388 826h4v4h-4zM420 838h4v4h-4z"/><path fill="#979797" d="M388 494h4v4h-4zM352 506h4v4h-4zM364 506h4v4h-4zM356 510h4v4h-4zM596 526h16v4h-16zM604 530h12v4h-12zM608 534h12v4h-12zM608 538h16v4h-16zM612 542h12v4h-12zM616 546h12v4h-12zM620 550h12v4h-12zM624 554h8v4h-8zM624 558h12v4h-12zM628 562h12v4h-12zM628 566h12v4h-12zM632 570h12v4h-12zM636 574h8v4h-8zM636 578h12v4h-12zM640 582h8v4h-8zM640 586h12v4h-12zM640 590h12v4h-12zM644 594h8v4h-8zM644 598h12v4h-12zM648 602h8v4h-8zM648 606h8v4h-8zM648 610h12v4h-12zM648 614h12v4h-12zM652 618h8v4h-8zM652 622h8v4h-8zM656 626h4v4h-4zM656 630h4v4h-4zM656 658h4v4h-4zM656 662h4v4h-4zM656 666h4v4h-4zM656 670h4v4h-4zM656 674h4v4h-4zM656 678h4v4h-4zM652 686h4v4h-4zM628 754h4v4h-4zM620 766h4v4h-4zM320 782h8v4h-8zM316 786h8v4h-8zM604 786h4v4h-4zM600 790h4v4h-4zM596 794h4v4h-4zM360 810h4v4h-4zM372 818h4v4h-4zM396 830h4v4h-4zM500 842h4v4h-4z"/><path fill="#989898" d="M352 502h4v4h-4zM356 506h4v4h-4zM600 518h4v4h-4zM592 522h16v4h-16zM656 682h4v4h-4zM656 686h4v4h-4zM652 690h8v4h-8zM652 694h8v4h-8zM652 698h8v4h-8zM652 702h8v4h-8zM648 706h12v4h-12zM640 730h4v4h-4zM608 782h4v4h-4zM324 786h8v4h-8zM320 790h4v4h-4zM592 798h4v4h-4zM436 842h4v4h-4z"/><path fill="#999999" d="M508 482h4v4h-4zM524 486h4v4h-4zM536 490h4v4h-4zM356 502h4v4h-4zM596 514h4v4h-4zM588 518h12v4h-12zM648 710h12v4h-12zM648 714h12v4h-12zM648 718h8v4h-8zM644 722h12v4h-12zM644 726h12v4h-12zM644 730h8v4h-8zM640 734h12v4h-12zM644 738h4v4h-4zM324 790h4v4h-4zM332 790h4v4h-4zM348 802h4v4h-4zM404 834h4v4h-4zM532 834h4v4h-4zM416 838h4v4h-4zM520 838h4v4h-4z"/><path fill="#9a9a9a" d="M424 482h4v4h-4zM360 502h4v4h-4zM360 506h4v4h-4zM576 510h4v4h-4zM588 510h8v4h-8zM584 514h12v4h-12zM640 738h4v4h-4zM636 742h12v4h-12zM636 746h12v4h-12zM632 750h12v4h-12zM632 754h12v4h-12zM628 758h12v4h-12zM624 762h12v4h-12zM628 766h8v4h-8zM616 774h4v4h-4zM612 778h4v4h-4zM328 790h4v4h-4zM324 794h4v4h-4zM588 802h4v4h-4zM364 814h4v4h-4zM572 814h4v4h-4zM432 842h4v4h-4zM504 842h4v4h-4z"/><path fill="#9b9b9b" d="M456 478h24v4h-24zM408 486h4v4h-4zM396 490h4v4h-4zM360 498h4v4h-4zM584 506h8v4h-8zM580 510h8v4h-8zM624 766h4v4h-4zM620 770h12v4h-12zM620 774h12v4h-12zM616 778h12v4h-12zM612 782h12v4h-12zM608 786h12v4h-12zM604 790h12v4h-12zM328 794h12v4h-12zM608 794h8v4h-8zM328 798h4v4h-4zM352 806h4v4h-4zM584 806h4v4h-4zM376 822h4v4h-4zM560 822h4v4h-4zM384 826h4v4h-4zM552 826h4v4h-4zM392 830h4v4h-4zM544 830h4v4h-4z"/><path fill="#9c9c9c" d="M452 478h4v4h-4zM480 478h4v4h-4zM364 498h4v4h-4zM556 498h4v4h-4zM364 502h8v4h-8zM580 502h4v4h-4zM576 506h8v4h-8zM432 622h4v4h-4zM444 638h4v4h-4zM440 642h4v4h-4zM432 646h4v4h-4zM600 794h8v4h-8zM332 798h4v4h-4zM340 798h4v4h-4zM596 798h16v4h-16zM592 802h16v4h-16zM588 806h16v4h-16zM580 810h16v4h-16zM588 814h4v4h-4zM568 818h4v4h-4zM536 834h4v4h-4zM524 838h4v4h-4zM428 842h4v4h-4zM508 842h4v4h-4zM460 846h20v4h-20z"/><path fill="#9d9d9d" d="M448 478h4v4h-4zM484 478h4v4h-4zM364 494h4v4h-4zM548 494h4v4h-4zM576 498h4v4h-4zM564 502h4v4h-4zM572 502h8v4h-8zM572 506h4v4h-4zM448 630h4v4h-4zM420 634h4v4h-4zM336 798h4v4h-4zM332 802h8v4h-8zM356 810h4v4h-4zM576 814h12v4h-12zM368 818h4v4h-4zM572 818h16v4h-16zM564 822h20v4h-20zM556 826h20v4h-20zM564 830h8v4h-8zM400 834h4v4h-4zM412 838h4v4h-4zM456 846h4v4h-4zM480 846h8v4h-8z"/><path fill="#9e9e9e" d="M512 482h4v4h-4zM368 494h4v4h-4zM384 494h4v4h-4zM568 494h4v4h-4zM368 498h4v4h-4zM376 498h4v4h-4zM564 498h12v4h-12zM568 502h4v4h-4zM448 626h4v4h-4zM340 802h8v4h-8zM336 806h4v4h-4zM380 826h4v4h-4zM548 830h16v4h-16zM540 834h24v4h-24zM528 838h4v4h-4zM536 838h20v4h-20zM424 842h4v4h-4zM512 842h4v4h-4zM536 842h12v4h-12zM448 846h8v4h-8zM488 846h4v4h-4z"/><path fill="#9f9f9f" d="M444 478h4v4h-4zM488 478h4v4h-4zM420 482h4v4h-4zM528 486h4v4h-4zM540 490h4v4h-4zM564 490h4v4h-4zM372 494h4v4h-4zM560 494h8v4h-8zM372 498h4v4h-4zM560 498h4v4h-4zM424 646h4v4h-4zM340 806h12v4h-12zM340 810h4v4h-4zM360 814h4v4h-4zM372 822h4v4h-4zM388 830h4v4h-4zM396 834h4v4h-4zM408 838h4v4h-4zM532 838h4v4h-4zM516 842h20v4h-20zM444 846h4v4h-4zM492 846h4v4h-4zM508 846h28v4h-28zM512 850h12v4h-12z"/><path fill="#a0a0a0" d="M404 486h4v4h-4zM556 486h4v4h-4zM372 490h12v4h-12zM392 490h4v4h-4zM556 490h8v4h-8zM376 494h8v4h-8zM552 494h8v4h-8zM344 810h12v4h-12zM344 814h16v4h-16zM348 818h20v4h-20zM356 822h16v4h-16zM360 826h20v4h-20zM368 830h20v4h-20zM372 834h24v4h-24zM380 838h28v4h-28zM392 842h32v4h-32zM400 846h24v4h-24zM440 846h4v4h-4zM496 846h12v4h-12zM412 850h12v4h-12zM480 850h32v4h-32z"/><path fill="#a1a1a1" d="M492 478h4v4h-4zM516 482h4v4h-4zM380 486h8v4h-8zM548 486h8v4h-8zM384 490h8v4h-8zM548 490h8v4h-8zM420 642h4v4h-4zM428 646h4v4h-4zM424 846h16v4h-16zM424 850h56v4h-56z"/><path fill="#a2a2a2" d="M440 478h4v4h-4zM388 482h8v4h-8zM416 482h4v4h-4zM544 482h8v4h-8zM388 486h8v4h-8zM540 486h8v4h-8zM544 490h4v4h-4zM444 622h4v4h-4z"/><path fill="#a3a3a3" d="M396 478h4v4h-4zM496 478h4v4h-4zM536 478h4v4h-4zM396 482h8v4h-8zM536 482h8v4h-8zM396 486h8v4h-8zM532 486h8v4h-8z"/><path fill="#a4a4a4" d="M400 478h8v4h-8zM436 478h4v4h-4zM528 478h8v4h-8zM404 482h8v4h-8zM520 482h4v4h-4zM528 482h8v4h-8zM420 638h4v4h-4z"/><path fill="#a5a5a5" d="M408 474h8v4h-8zM520 474h8v4h-8zM408 478h8v4h-8zM432 478h4v4h-4zM500 478h4v4h-4zM520 478h8v4h-8zM412 482h4v4h-4zM524 482h4v4h-4zM436 622h4v4h-4z"/><path fill="#a6a6a6" d="M416 474h8v4h-8zM516 474h4v4h-4zM416 478h8v4h-8zM512 478h8v4h-8zM428 626h4v4h-4zM424 630h4v4h-4z"/><path fill="#a7a7a7" d="M424 474h8v4h-8zM508 474h8v4h-8zM424 478h8v4h-8zM504 478h8v4h-8z"/><path fill="#a8a8a8" d="M432 474h8v4h-8zM500 474h8v4h-8zM440 622h4v4h-4z"/><path fill="#a9a9a9" d="M440 474h4v4h-4zM492 474h8v4h-8z"/><path fill="#aaaaaa" d="M444 474h8v4h-8zM484 474h8v4h-8z"/><path fill="#ababab" d="M452 474h8v4h-8zM476 474h8v4h-8z"/><path fill="#acacac" d="M460 474h16v4h-16z"/><path fill="#aeaeae" d="M444 634h4v4h-4zM436 642h4v4h-4z"/><path fill="#b6b6b6" d="M444 626h4v4h-4zM440 638h4v4h-4z"/><path fill="#b7b7b7" d="M424 642h4v4h-4z"/><path fill="#bcbcbc" d="M444 630h4v4h-4zM424 634h4v4h-4z"/><path fill="#bdbdbd" d="M432 626h4v4h-4z"/><path fill="#c0c0c0" d="M432 642h4v4h-4z"/><path fill="#c4c4c4" d="M428 642h4v4h-4z"/><path fill="#c5c5c5" d="M424 638h4v4h-4z"/><path fill="#c9c9c9" d="M428 630h4v4h-4z"/><path fill="#cbcbcb" d="M440 626h4v4h-4z"/><path fill="#cecece" d="M436 626h4v4h-4z"/><path fill="#d8d8d8" d="M440 634h4v4h-4z"/><path fill="#dadada" d="M436 638h4v4h-4z"/><path fill="#e3e3e3" d="M440 630h4v4h-4z"/><path fill="#e7e7e7" d="M428 638h4v4h-4z"/><path fill="#e9e9e9" d="M428 634h4v4h-4z"/><path fill="#eeeeee" d="M432 630h4v4h-4z"/><path fill="#f1f1f1" d="M432 638h4v4h-4z"/><path fill="#f9f9f9" d="M436 630h4v4h-4z"/><path fill="#fcfcfc" d="M436 634h4v4h-4z"/><path fill="#ffffff" d="M432 634h4v4h-4z"/></g></g><g clip-path="url(#discb)" fill="none" stroke="#fff" stroke-linecap="round"><path d="M451 658L445 662L438 664L431 665L424 664L417 662L411 658L406 653L402 647L400 640L399 633L400 625L403 618L407 612L412 607L419 603L426 600L434 600L442 601L449 603L456 608L462 613L466 620L469 627L471 635L470 643L468 652L465 659L459 666L453 672L445 677L437 680L427 682L418 682L408 680L398 677L389 672L380 666L373 658L366 650L361 640L357 629L354 617L353 605L353 593L355 580L359 568L364 556L370 545L377 534L394 515L414 498L435 483M439 497L463 488L487 479M363 599L365 589L370 579L376 569L383 560L392 552L402 545L414 539L426 534L438 532L451 530L464 530L477 531L502 536L514 540L537 550L571 569L647 617M535 558L556 572L577 587L647 644M564 590L592 616L647 671M612 646L647 684M614 658L647 697M392 664L386 657L381 650L377 641L375 632L375 623L375 614L378 604L382 596L388 588L395 581L403 575L413 570L423 568L434 566L445 567L456 569L466 573L477 578L486 585L495 594L502 604L509 615L514 627L517 639L520 652L521 678L519 704L506 793L501 845M506 719L485 794L475 845M479 782L471 807L461 845M492 605L497 616L502 627L504 639L505 652L505 665L503 678L500 690L492 715L453 796L435 845M460 681L451 687L441 693L429 698L417 701L404 702L379 702L315 697L289 697M340 691L315 686L289 684M373 688L314 665L289 657M333 658L311 644L289 631M461 497L486 491L511 486M425 546L438 544L451 544L463 545L476 548L488 552L500 557L511 563L531 579L550 597L566 616L641 721M559 617L580 649L634 738M523 626L530 651L534 676L536 702L538 780L541 831M530 702L527 780L528 831M517 780L514 831M462 743L434 786L408 831M427 707L402 714L339 727L302 738M379 707L328 708L302 711M394 685L382 681L371 676L360 669L340 653L293 609M336 643L302 604M358 555L368 532L375 521L390 500M382 545L391 536L401 528L412 521L423 515L447 506M461 510L474 509L500 507L525 508L563 512M473 522L499 524L536 533L573 545L620 564M586 560L632 583M571 659L620 764M549 703L558 767L567 818M494 663L490 675L486 687L473 709L457 729L413 777L397 797L382 818M454 699L444 706L421 718L362 741L338 752L316 764M343 635L331 613L316 577M541 524L603 539M563 729L581 804M433 741L395 776L369 804M392 769L373 786L355 804M340 614L333 589L327 551M340 589L340 563L342 537M581 715L603 775M578 742L594 791M385 766L365 782L346 800M407 737L363 763L332 786M481 561L492 567L503 575L512 583L521 592L536 613L543 624L554 648L571 696M392 596L399 589L407 584L416 580L425 578L435 577L445 578L455 581L464 585L473 591L480 598M442 722L401 752M412 633L414 627L417 621L422 617L427 614L433 613L439 614L445 616L450 620L454 624L456 630L457 636L456 643L454 648" stroke-width="1.3" stroke-dasharray="4.5 3.5" opacity=".8"/><path d="M451 658L445 662L438 664L431 665L424 664L417 662L411 658L406 653L402 647L400 640L399 633L400 625L403 618L407 612L412 607L419 603L426 600L434 600L442 601L449 603L456 608L462 613L466 620L469 627L471 635L470 643L468 652L465 659L459 666L453 672L445 677L437 680L427 682L418 682L408 680L398 677L389 672L380 666L373 658L366 650L361 640L357 629L354 617L353 605L353 593L355 580L359 568L364 556L370 545L377 534L394 515L414 498L435 483M439 497L463 488L487 479M363 599L365 589L370 579L376 569L383 560L392 552L402 545L414 539L426 534L438 532L451 530L464 530L477 531L502 536L514 540L537 550L571 569L647 617M535 558L556 572L577 587L647 644M564 590L592 616L647 671M612 646L647 684M614 658L647 697M392 664L386 657L381 650L377 641L375 632L375 623L375 614L378 604L382 596L388 588L395 581L403 575L413 570L423 568L434 566L445 567L456 569L466 573L477 578L486 585L495 594L502 604L509 615L514 627L517 639L520 652L521 678L519 704L506 793L501 845M506 719L485 794L475 845M479 782L471 807L461 845M492 605L497 616L502 627L504 639L505 652L505 665L503 678L500 690L492 715L453 796L435 845M460 681L451 687L441 693L429 698L417 701L404 702L379 702L315 697L289 697M340 691L315 686L289 684M373 688L314 665L289 657M333 658L311 644L289 631M461 497L486 491L511 486M425 546L438 544L451 544L463 545L476 548L488 552L500 557L511 563L531 579L550 597L566 616L641 721M559 617L580 649L634 738M523 626L530 651L534 676L536 702L538 780L541 831M530 702L527 780L528 831M517 780L514 831M462 743L434 786L408 831M427 707L402 714L339 727L302 738M379 707L328 708L302 711M394 685L382 681L371 676L360 669L340 653L293 609M336 643L302 604M358 555L368 532L375 521L390 500M382 545L391 536L401 528L412 521L423 515L447 506M461 510L474 509L500 507L525 508L563 512M473 522L499 524L536 533L573 545L620 564M586 560L632 583M571 659L620 764M549 703L558 767L567 818M494 663L490 675L486 687L473 709L457 729L413 777L397 797L382 818M454 699L444 706L421 718L362 741L338 752L316 764M343 635L331 613L316 577M541 524L603 539M563 729L581 804M433 741L395 776L369 804M392 769L373 786L355 804M340 614L333 589L327 551M340 589L340 563L342 537M581 715L603 775M578 742L594 791M385 766L365 782L346 800M407 737L363 763L332 786M481 561L492 567L503 575L512 583L521 592L536 613L543 624L554 648L571 696M392 596L399 589L407 584L416 580L425 578L435 577L445 578L455 581L464 585L473 591L480 598M442 722L401 752M412 633L414 627L417 621L422 617L427 614L433 613L439 614L445 616L450 620L454 624L456 630L457 636L456 643L454 648" stroke-width="2.6" stroke-dasharray="5 37" stroke-dashoffset="-12" opacity=".85"/></g><circle cx="468.2" cy="662.2" r="84.3" fill="none" stroke="#fff" stroke-width="2" opacity=".95"/>
<path d="M415.8 545.7C425.6 545.7 430.4 545.0 445.0 545.7C459.6 546.4 486.6 548.1 503.7 550.1C520.8 552.1 536.9 554.1 547.6 557.5C558.4 560.9 563.6 564.5 568.2 570.6C572.9 576.7 574.0 585.7 575.5 594.0C577.0 602.3 575.8 609.6 577.0 620.4C578.2 631.1 580.6 646.3 582.8 658.5C585.0 670.7 589.1 683.0 590.1 693.7C591.1 704.5 590.9 713.2 588.7 723.0C586.5 732.8 582.4 743.5 577.0 752.3C571.6 761.1 564.7 769.4 556.4 775.7C548.1 782.1 536.9 787.5 527.1 790.4C517.3 793.3 507.6 794.0 497.8 793.3C488.0 792.6 478.3 789.7 468.5 786.0C458.7 782.3 448.0 774.5 439.2 771.3C430.4 768.1 425.6 767.6 415.8 766.9C406.0 766.2 390.4 767.9 380.6 766.9C370.8 765.9 363.3 765.5 357.2 761.1C351.1 756.7 346.4 748.9 344.0 740.6C341.6 732.3 341.8 721.1 342.5 711.3C343.2 701.5 346.9 691.8 348.4 682.0C349.9 672.2 351.3 662.5 351.3 652.7C351.3 642.9 349.4 634.1 348.4 623.4C347.4 612.6 345.2 598.5 345.5 588.2C345.8 577.9 347.0 568.1 349.9 561.8C352.8 555.4 357.0 552.8 363.1 550.1C369.2 547.4 377.7 546.4 386.5 545.7C395.3 545.0 406.1 545.7 415.8 545.7Z" fill="none" stroke="#f9e547" stroke-width="4.6" stroke-linejoin="round"/>
<path d="M410 545.5 L442 533.5 L435 545.5 L442 560.5Z" fill="#f9e547"/>
<path d="M304.5 646.8 C 310 644.5, 317 641, 316.2 635.5 C 315.5 631, 308 631, 302 635.5 C 294 641.5, 288.5 652, 289.8 661.5 C 291 670, 302 675.5, 315 664.8" fill="none" stroke="#f9e547" stroke-width="3.2"/>
<circle cx="1208.0" cy="662.3" r="186.8" fill="none" stroke="#fff" stroke-width="1.3" opacity=".6"/>
<circle cx="1208.2" cy="662.1" r="85" fill="none" stroke="#fff" stroke-width="2" opacity=".9"/>
<path d="M1159.0 619.0 A25.2 25.2 0 1 0 1189.4 613.7" fill="none" stroke="#1a1a1a" stroke-width="3"/>
<path d="M1170.5 611.2 L1198.8 604.6 L1189.5 614.5 L1194.2 625.6Z" fill="#1a1a1a"/>
<rect x="696" y="460.6" width="28" height="406" fill="url(#cbb)"/>
<path d="M696.3 464 V866.6 M723.7 462 V866.6" stroke="#3a3030" stroke-width="0.9" opacity=".75" fill="none"/>
<line x1="696" y1="460.6" x2="732" y2="460.6" stroke="#aaa" stroke-width="1"/>
<path d="M724 857.0h5M724 843.4h5M724 829.7h5M724 816.0h5M724 802.4h8M724 788.7h5M724 775.0h5M724 761.3h5M724 747.7h5M724 734.0h8M724 720.3h5M724 706.7h5M724 693.0h5M724 679.3h5M724 665.7h8M724 652.0h5M724 638.3h5M724 624.6h5M724 611.0h5M724 597.3h8M724 583.6h5M724 570.0h5M724 556.3h5M724 542.6h5M724 529.0h8M724 515.3h5M724 501.6h5M724 487.9h5M724 474.3h5M724 460.6h8" stroke="#a8a4a4" stroke-width="1.3" fill="none"/>
<rect x="1434.8" y="454.2" width="29.8" height="425.1" fill="url(#cbc)"/>
<path d="M1465 464.2h6M1465 477.7h4M1465 491.1h4M1465 504.6h4M1465 518.0h4M1465 531.5h6M1465 544.9h4M1465 558.4h4M1465 571.9h4M1465 585.3h4M1465 598.8h6M1465 612.2h4M1465 625.7h4M1465 639.1h4M1465 652.6h4M1465 666.0h6M1465 679.5h4M1465 693.0h4M1465 706.4h4M1465 719.9h4M1465 733.3h6M1465 746.8h4M1465 760.2h4M1465 773.7h4M1465 787.2h4M1465 800.6h6M1465 814.1h4M1465 827.5h4M1465 841.0h4M1465 854.4h4M1465 867.9h6" stroke="#dcd8d8" stroke-width="1" fill="none"/>
<rect x="248.5" y="443.5" width="439.9" height="439.20000000000005" fill="none" stroke="#c7c5c5" stroke-width="2.2"/>
<line x1="299.5" y1="882.7" x2="299.5" y2="877.7" stroke="#cfcccc" stroke-width="1"/>
<line x1="468.5" y1="882.7" x2="468.5" y2="877.7" stroke="#cfcccc" stroke-width="1"/>
<line x1="637.6" y1="882.7" x2="637.6" y2="877.7" stroke="#cfcccc" stroke-width="1"/>
<line x1="248.5" y1="494" x2="253.5" y2="494" stroke="#cfcccc" stroke-width="1"/>
<line x1="248.5" y1="662.4" x2="253.5" y2="662.4" stroke="#cfcccc" stroke-width="1"/>
<line x1="248.5" y1="831.8" x2="253.5" y2="831.8" stroke="#cfcccc" stroke-width="1"/>
<rect x="988.5" y="443.4" width="439.0" height="437.6" fill="none" stroke="#c7c5c5" stroke-width="2.2"/>
<line x1="1039.2" y1="881" x2="1039.2" y2="876" stroke="#cfcccc" stroke-width="1"/>
<line x1="1208" y1="881" x2="1208" y2="876" stroke="#cfcccc" stroke-width="1"/>
<line x1="1377" y1="881" x2="1377" y2="876" stroke="#cfcccc" stroke-width="1"/>
<line x1="988.5" y1="493.7" x2="993.5" y2="493.7" stroke="#cfcccc" stroke-width="1"/>
<line x1="988.5" y1="662.5" x2="993.5" y2="662.5" stroke="#cfcccc" stroke-width="1"/>
<line x1="988.5" y1="831.5" x2="993.5" y2="831.5" stroke="#cfcccc" stroke-width="1"/>
<g font-family="Liberation Sans">
<text x="87.5" y="458.5" font-size="49" fill="#000">(b)</text>
<text x="866.5" y="458.5" font-size="49" fill="#000">(c)</text>
<text x="184" y="510.6" font-size="52" fill="#111" stroke="#fff" stroke-width="1.5" text-anchor="start" textLength="58" lengthAdjust="spacingAndGlyphs" >0.8</text>
<text x="218" y="681.3" font-size="52" fill="#111" stroke="#fff" stroke-width="1.5" text-anchor="start" textLength="23" lengthAdjust="spacingAndGlyphs" >0</text>
<text x="168" y="850" font-size="52" fill="#111" stroke="#fff" stroke-width="1.5" text-anchor="start" textLength="73" lengthAdjust="spacingAndGlyphs" >-0.8</text>
<text x="137" y="686" font-size="53" fill="#111" stroke="#fff" stroke-width="1.5" text-anchor="start" >k</text>
<text x="158.5" y="698" font-size="44" fill="#111" stroke="#fff" stroke-width="1.5" text-anchor="start" textLength="25" lengthAdjust="spacingAndGlyphs" >y</text>
<text x="237" y="925.2" font-size="52" fill="#111" stroke="#fff" stroke-width="1.5" text-anchor="start" textLength="73" lengthAdjust="spacingAndGlyphs" >-0.8</text>
<text x="457.5" y="925.3" font-size="52" fill="#111" stroke="#fff" stroke-width="1.5" text-anchor="start" textLength="23" lengthAdjust="spacingAndGlyphs" >0</text>
<text x="616.5" y="925.3" font-size="52" fill="#111" stroke="#fff" stroke-width="1.5" text-anchor="start" textLength="58" lengthAdjust="spacingAndGlyphs" >0.8</text>
<text x="457.5" y="975.5" font-size="53" fill="#111" stroke="#fff" stroke-width="1.5" text-anchor="start" >k</text>
<text x="478.5" y="982.5" font-size="44" fill="#111" stroke="#fff" stroke-width="1.5" text-anchor="start" textLength="24.5" lengthAdjust="spacingAndGlyphs" >x</text>
<text x="732" y="478.8" font-size="38" fill="#222" stroke="#fff" stroke-width="1.0" text-anchor="start" textLength="35" lengthAdjust="spacingAndGlyphs" >30</text>
<text x="768" y="460" font-size="36" fill="#222" stroke="#fff" stroke-width="1.0" text-anchor="start" textLength="68" lengthAdjust="spacingAndGlyphs" >(nm)</text>
<text x="732" y="606.3" font-size="38" fill="#222" stroke="#fff" stroke-width="1.0" text-anchor="start" textLength="35" lengthAdjust="spacingAndGlyphs" >20</text>
<text x="734" y="742.8" font-size="38" fill="#222" stroke="#fff" stroke-width="1.0" text-anchor="start" textLength="33" lengthAdjust="spacingAndGlyphs" >10</text>
<text x="731.5" y="872.9" font-size="38" fill="#222" stroke="#fff" stroke-width="1.0" text-anchor="start" textLength="19" lengthAdjust="spacingAndGlyphs" >0</text>
<text x="925.5" y="510.6" font-size="52" fill="#111" stroke="#fff" stroke-width="1.5" text-anchor="start" textLength="58" lengthAdjust="spacingAndGlyphs" >0.8</text>
<text x="959" y="682" font-size="52" fill="#111" stroke="#fff" stroke-width="1.5" text-anchor="start" textLength="24" lengthAdjust="spacingAndGlyphs" >0</text>
<text x="910" y="850" font-size="52" fill="#111" stroke="#fff" stroke-width="1.5" text-anchor="start" textLength="73" lengthAdjust="spacingAndGlyphs" >-0.8</text>
<text x="882.5" y="687" font-size="53" fill="#111" stroke="#fff" stroke-width="1.5" text-anchor="start" >k</text>
<text x="904" y="698.5" font-size="44" fill="#111" stroke="#fff" stroke-width="1.5" text-anchor="start" textLength="25.5" lengthAdjust="spacingAndGlyphs" >y</text>
<text x="991.5" y="925.9" font-size="52" fill="#111" stroke="#fff" stroke-width="1.5" text-anchor="start" textLength="75" lengthAdjust="spacingAndGlyphs" >-0.8</text>
<text x="1196.5" y="925.9" font-size="52" fill="#111" stroke="#fff" stroke-width="1.5" text-anchor="start" textLength="23" lengthAdjust="spacingAndGlyphs" >0</text>
<text x="1344.5" y="925.9" font-size="52" fill="#111" stroke="#fff" stroke-width="1.5" text-anchor="start" textLength="59" lengthAdjust="spacingAndGlyphs" >0.8</text>
<text x="1192.5" y="976.5" font-size="53" fill="#111" stroke="#fff" stroke-width="1.5" text-anchor="start" >k</text>
<text x="1213" y="983" font-size="44" fill="#111" stroke="#fff" stroke-width="1.5" text-anchor="start" textLength="25" lengthAdjust="spacingAndGlyphs" >x</text>
<text x="1496.3" y="678.8" font-size="36" fill="#222" stroke="#fff" stroke-width="1.0" text-anchor="start" textLength="18" lengthAdjust="spacingAndGlyphs" >0</text>
</g>
<g font-family="Liberation Serif" font-style="italic">
<text x="1486" y="471.5" font-size="38" fill="#333" stroke="#fff" stroke-width="1.3" textLength="24" lengthAdjust="spacingAndGlyphs">π</text>
<text x="1486" y="883.8" font-size="38" fill="#333" stroke="#fff" stroke-width="1.3" textLength="24" lengthAdjust="spacingAndGlyphs">π</text>
<line x1="1471.7" y1="873" x2="1480.3" y2="873" stroke="#444" stroke-width="1.6"/>
</g>
</svg>
<div class="l" style="top:1049.7px">FIG. 2.&nbsp; (a) Schematic figure showing the interface formed</div>
<div class="l" style="top:1115.0px">between a trivial medium and a Weyl medium. (b) Numerical</div>
<div class="l" style="top:1180.3px">results for the <i>ℓ</i> field, for which the magnitude and the direction</div>
<div class="l" style="top:1245.6px">are indicated by the color and the streamline, respectively.</div>
<div class="l" style="top:1310.9px">(c) Plot of arg(<i>r</i>). The white circles in (b) and (c) indicate the</div>
<div class="l abs" style="top:1376.2px"><span class="a" style="left:71.2px;">region</span><span class="a" style="left:238.2px;">with</span><span class="a" style="left:355.9px;">radius</span><span class="a" style="left:511.4px;font-style:italic;">k</span><span class="a" style="left:536.6px;font-style:italic;font-size:39px;top:18.4px;">W</span><span class="a" style="left:574.8px;">.</span><span class="a" style="left:613.4px;">Here,</span><span class="a" style="left:757.8px;">we</span><span class="a" style="left:839.7px;">set</span><span class="a" style="left:926.5px;font-style:italic;">m</span><span class="a" style="left:985.6px;transform:scaleX(1.48);transform-origin:0 0;">=</span><span class="a" style="left:1043.9px;">0.04</span><span class="a" style="left:1140.6px;font-style:italic;">m</span><span class="a" style="left:1188.2px;font-style:italic;font-size:39px;top:18.4px;">e</span><span class="a" style="left:1209.9px;">,</span><span class="a" style="left:1246.4px;">Δ</span><span class="a" style="left:1299.5px;transform:scaleX(1.48);transform-origin:0 0;">=</span><span class="a" style="left:1352.4px;">0.2</span><span class="a" style="left:1448.1px;">eV,</span></div>
<div class="l abs" style="top:1441.5px"><span class="a" style="left:75.7px;font-style:italic;">v</span><span class="a" style="left:114.9px;transform:scaleX(1.48);transform-origin:0 0;">=</span><span class="a" style="left:177.6px;">1.5</span><span class="a" style="left:254.0px;transform:scaleX(1.42);transform-origin:0 0;">×</span><span class="a" style="left:312.7px;">10</span><span class="a" style="left:367.2px;font-size:39px;top:-13.6px;">6</span><span class="a" style="left:409.4px;">m</span><span class="a" style="left:456.0px;font-size:76px;top:4.8px;">/</span><span class="a" style="left:482.3px;">s,</span><span class="a" style="left:587.5px;font-style:italic;">U</span><span class="a" style="left:642.7px;transform:scaleX(1.48);transform-origin:0 0;">=</span><span class="a" style="left:701.3px;">0.6</span><span class="a" style="left:794.8px;">eV,</span><span class="a" style="left:945.3px;font-style:italic;">E</span><span class="a" style="left:993.7px;transform:scaleX(1.48);transform-origin:0 0;">=</span><span class="a" style="left:1055.8px;">1.0</span><span class="a" style="left:1143.2px;">eV,</span><span class="a" style="left:1293.5px;">and</span><span class="a" style="left:1443.9px;font-style:italic;">δ</span><span class="a" style="left:1484.9px;transform:scaleX(1.48);transform-origin:0 0;">=</span></div>
<div class="l abs" style="top:1506.8px"><span class="a" style="left:73.3px;">10</span><span class="a" style="left:130.3px;font-size:39px;top:-14.1px;">−4</span><span class="a" style="left:196.2px;">eV</span><span class="a" style="left:271.5px;">nm</span><span class="a" style="left:342.5px;font-size:39px;top:-14.1px;">2</span><span class="a" style="left:366.9px;">.</span></div>
</body></html>
